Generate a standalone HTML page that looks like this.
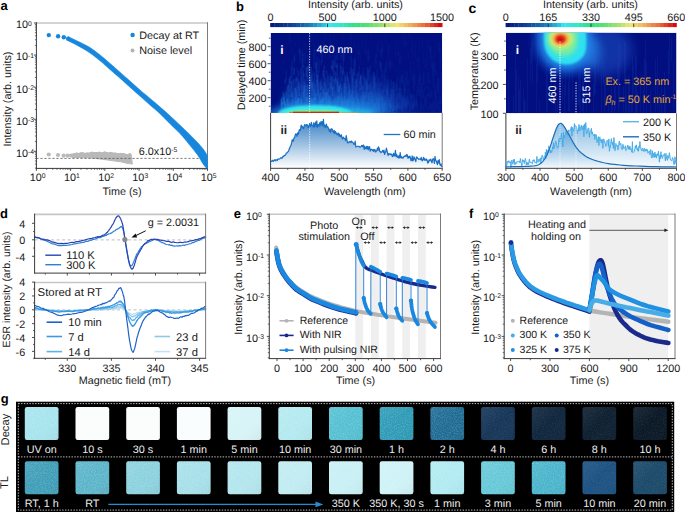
<!DOCTYPE html><html><head><meta charset="utf-8"><style>html,body{margin:0;padding:0;background:#fff;}svg{display:block;}</style></head><body><svg width="685" height="512" viewBox="0 0 685 512" text-rendering="geometricPrecision" font-family='"Liberation Sans", sans-serif'>
<rect width="685" height="512" fill="#fff"/>
<defs>
<linearGradient id="fb" gradientUnits="userSpaceOnUse" x1="0" y1="124" x2="0" y2="168"><stop offset="0" stop-color="#2a78c0" stop-opacity="0.85"/><stop offset="1" stop-color="#2a78c0" stop-opacity="0.0"/></linearGradient>
<linearGradient id="fc" x1="0" y1="0" x2="0" y2="1"><stop offset="0" stop-color="#3a90d0" stop-opacity="0.6"/><stop offset="1" stop-color="#3a90d0" stop-opacity="0.03"/></linearGradient>
<linearGradient id="jet" x1="0" y1="0" x2="1" y2="0">
<stop offset="0" stop-color="#00008f"/><stop offset="0.125" stop-color="#0020ff"/><stop offset="0.25" stop-color="#0080ff"/><stop offset="0.375" stop-color="#00e0ff"/><stop offset="0.5" stop-color="#40ffbf"/><stop offset="0.625" stop-color="#bfff40"/><stop offset="0.75" stop-color="#ffe000"/><stop offset="0.875" stop-color="#ff6000"/><stop offset="1" stop-color="#d00000"/></linearGradient>
<linearGradient id="strk" x1="0" y1="0" x2="0" y2="1"><stop offset="0" stop-color="#2a70e0" stop-opacity="0"/><stop offset="0.5" stop-color="#2a78e8" stop-opacity="0.6"/><stop offset="1" stop-color="#40b0f0" stop-opacity="1"/></linearGradient>
<radialGradient id="gb1" cx="0.5" cy="1" r="0.5" fx="0.5" fy="1"><stop offset="0" stop-color="#20d8f0" stop-opacity="0.95"/><stop offset="0.5" stop-color="#1890e8" stop-opacity="0.6"/><stop offset="1" stop-color="#1040c0" stop-opacity="0"/></radialGradient>
<radialGradient id="gb2" cx="0.5" cy="1" r="0.5" fx="0.5" fy="1"><stop offset="0" stop-color="#40ffd0" stop-opacity="1"/><stop offset="0.6" stop-color="#20f0f0" stop-opacity="0.8"/><stop offset="1" stop-color="#20e0f0" stop-opacity="0"/></radialGradient>
<linearGradient id="gbr" x1="0" y1="0" x2="1" y2="0"><stop offset="0" stop-color="#c00000" stop-opacity="0"/><stop offset="0.1" stop-color="#d00000"/><stop offset="0.6" stop-color="#d83000"/><stop offset="0.85" stop-color="#80d040" stop-opacity="0.8"/><stop offset="1" stop-color="#40e0c0" stop-opacity="0"/></linearGradient>
<radialGradient id="cw"><stop offset="0" stop-color="#2080e0" stop-opacity="0.5"/><stop offset="1" stop-color="#1040c0" stop-opacity="0"/></radialGradient>
<radialGradient id="c1"><stop offset="0" stop-color="#30f0f0" stop-opacity="1"/><stop offset="0.6" stop-color="#20d0f0" stop-opacity="0.85"/><stop offset="0.85" stop-color="#1080e0" stop-opacity="0.4"/><stop offset="1" stop-color="#1040c0" stop-opacity="0"/></radialGradient>
<radialGradient id="c2"><stop offset="0" stop-color="#f0f020" stop-opacity="1"/><stop offset="0.5" stop-color="#80ff80" stop-opacity="0.9"/><stop offset="1" stop-color="#40f0d0" stop-opacity="0"/></radialGradient>
<radialGradient id="c3"><stop offset="0" stop-color="#d00000" stop-opacity="1"/><stop offset="0.5" stop-color="#ff3000" stop-opacity="0.9"/><stop offset="1" stop-color="#ffa000" stop-opacity="0"/></radialGradient>
<filter id="bl1" x="-50%" y="-50%" width="200%" height="200%"><feGaussianBlur stdDeviation="1.2"/></filter>
<filter id="bl2" x="-50%" y="-50%" width="200%" height="200%"><feGaussianBlur stdDeviation="2"/></filter>
<filter id="bl3" x="-50%" y="-50%" width="200%" height="200%"><feGaussianBlur stdDeviation="3"/></filter>
<filter id="bl4" x="-50%" y="-50%" width="200%" height="200%"><feGaussianBlur stdDeviation="4"/></filter>
<filter id="bl6" x="-50%" y="-50%" width="200%" height="200%"><feGaussianBlur stdDeviation="6"/></filter>
<filter id="bl8" x="-50%" y="-50%" width="200%" height="200%"><feGaussianBlur stdDeviation="8"/></filter>
<linearGradient id="sqg" x1="0" y1="0" x2="1" y2="1"><stop offset="0" stop-color="#fff" stop-opacity="0.07"/><stop offset="0.5" stop-color="#fff" stop-opacity="0"/><stop offset="1" stop-color="#000" stop-opacity="0.05"/></linearGradient>
<filter id="speck" x="0" y="0" width="100%" height="100%"><feTurbulence type="fractalNoise" baseFrequency="0.9" numOctaves="2" seed="3"/><feColorMatrix type="matrix" values="0 0 0 0 1  0 0 0 0 1  0 0 0 0 1  0 0 0 -2.2 1.35"/><feComposite in2="SourceGraphic" operator="in"/></filter>
</defs>
<text x="0.50" y="10.30" font-size="13" text-anchor="start" fill="#000" font-weight="bold">a</text>
<text x="236.00" y="10.60" font-size="13" text-anchor="start" fill="#000" font-weight="bold">b</text>
<text x="468.40" y="12.80" font-size="14" text-anchor="start" fill="#000" font-weight="bold">c</text>
<text x="0.00" y="217.60" font-size="13" text-anchor="start" fill="#000" font-weight="bold">d</text>
<text x="233.80" y="217.60" font-size="13" text-anchor="start" fill="#000" font-weight="bold">e</text>
<text x="469.00" y="217.60" font-size="13" text-anchor="start" fill="#000" font-weight="bold">f</text>
<text x="0.80" y="402.50" font-size="13" text-anchor="start" fill="#000" font-weight="bold">g</text>
<line x1="36.40" y1="23.00" x2="207.50" y2="23.00" stroke="#c6c6c6" stroke-width="1.6"/>
<line x1="207.50" y1="22.20" x2="207.50" y2="168.40" stroke="#7a7a7a" stroke-width="1"/>
<line x1="36.40" y1="22.20" x2="36.40" y2="168.90" stroke="#3a3a3a" stroke-width="1"/>
<line x1="35.90" y1="168.40" x2="208.00" y2="168.40" stroke="#3a3a3a" stroke-width="1"/>
<line x1="33.90" y1="23.00" x2="36.40" y2="23.00" stroke="#3a3a3a" stroke-width="0.9"/>
<line x1="33.90" y1="55.08" x2="36.40" y2="55.08" stroke="#3a3a3a" stroke-width="0.9"/>
<line x1="33.90" y1="87.16" x2="36.40" y2="87.16" stroke="#3a3a3a" stroke-width="0.9"/>
<line x1="33.90" y1="119.24" x2="36.40" y2="119.24" stroke="#3a3a3a" stroke-width="0.9"/>
<line x1="33.90" y1="151.32" x2="36.40" y2="151.32" stroke="#3a3a3a" stroke-width="0.9"/>
<line x1="34.90" y1="45.42" x2="36.40" y2="45.42" stroke="#3a3a3a" stroke-width="0.7"/>
<line x1="34.90" y1="39.77" x2="36.40" y2="39.77" stroke="#3a3a3a" stroke-width="0.7"/>
<line x1="34.90" y1="35.77" x2="36.40" y2="35.77" stroke="#3a3a3a" stroke-width="0.7"/>
<line x1="34.90" y1="32.66" x2="36.40" y2="32.66" stroke="#3a3a3a" stroke-width="0.7"/>
<line x1="34.90" y1="30.12" x2="36.40" y2="30.12" stroke="#3a3a3a" stroke-width="0.7"/>
<line x1="34.90" y1="27.97" x2="36.40" y2="27.97" stroke="#3a3a3a" stroke-width="0.7"/>
<line x1="34.90" y1="26.11" x2="36.40" y2="26.11" stroke="#3a3a3a" stroke-width="0.7"/>
<line x1="34.90" y1="24.47" x2="36.40" y2="24.47" stroke="#3a3a3a" stroke-width="0.7"/>
<line x1="34.90" y1="77.50" x2="36.40" y2="77.50" stroke="#3a3a3a" stroke-width="0.7"/>
<line x1="34.90" y1="71.85" x2="36.40" y2="71.85" stroke="#3a3a3a" stroke-width="0.7"/>
<line x1="34.90" y1="67.85" x2="36.40" y2="67.85" stroke="#3a3a3a" stroke-width="0.7"/>
<line x1="34.90" y1="64.74" x2="36.40" y2="64.74" stroke="#3a3a3a" stroke-width="0.7"/>
<line x1="34.90" y1="62.20" x2="36.40" y2="62.20" stroke="#3a3a3a" stroke-width="0.7"/>
<line x1="34.90" y1="60.05" x2="36.40" y2="60.05" stroke="#3a3a3a" stroke-width="0.7"/>
<line x1="34.90" y1="58.19" x2="36.40" y2="58.19" stroke="#3a3a3a" stroke-width="0.7"/>
<line x1="34.90" y1="56.55" x2="36.40" y2="56.55" stroke="#3a3a3a" stroke-width="0.7"/>
<line x1="34.90" y1="109.58" x2="36.40" y2="109.58" stroke="#3a3a3a" stroke-width="0.7"/>
<line x1="34.90" y1="103.93" x2="36.40" y2="103.93" stroke="#3a3a3a" stroke-width="0.7"/>
<line x1="34.90" y1="99.93" x2="36.40" y2="99.93" stroke="#3a3a3a" stroke-width="0.7"/>
<line x1="34.90" y1="96.82" x2="36.40" y2="96.82" stroke="#3a3a3a" stroke-width="0.7"/>
<line x1="34.90" y1="94.28" x2="36.40" y2="94.28" stroke="#3a3a3a" stroke-width="0.7"/>
<line x1="34.90" y1="92.13" x2="36.40" y2="92.13" stroke="#3a3a3a" stroke-width="0.7"/>
<line x1="34.90" y1="90.27" x2="36.40" y2="90.27" stroke="#3a3a3a" stroke-width="0.7"/>
<line x1="34.90" y1="88.63" x2="36.40" y2="88.63" stroke="#3a3a3a" stroke-width="0.7"/>
<line x1="34.90" y1="141.66" x2="36.40" y2="141.66" stroke="#3a3a3a" stroke-width="0.7"/>
<line x1="34.90" y1="136.01" x2="36.40" y2="136.01" stroke="#3a3a3a" stroke-width="0.7"/>
<line x1="34.90" y1="132.01" x2="36.40" y2="132.01" stroke="#3a3a3a" stroke-width="0.7"/>
<line x1="34.90" y1="128.90" x2="36.40" y2="128.90" stroke="#3a3a3a" stroke-width="0.7"/>
<line x1="34.90" y1="126.36" x2="36.40" y2="126.36" stroke="#3a3a3a" stroke-width="0.7"/>
<line x1="34.90" y1="124.21" x2="36.40" y2="124.21" stroke="#3a3a3a" stroke-width="0.7"/>
<line x1="34.90" y1="122.35" x2="36.40" y2="122.35" stroke="#3a3a3a" stroke-width="0.7"/>
<line x1="34.90" y1="120.71" x2="36.40" y2="120.71" stroke="#3a3a3a" stroke-width="0.7"/>
<line x1="34.90" y1="168.09" x2="36.40" y2="168.09" stroke="#3a3a3a" stroke-width="0.7"/>
<line x1="34.90" y1="164.09" x2="36.40" y2="164.09" stroke="#3a3a3a" stroke-width="0.7"/>
<line x1="34.90" y1="160.98" x2="36.40" y2="160.98" stroke="#3a3a3a" stroke-width="0.7"/>
<line x1="34.90" y1="158.44" x2="36.40" y2="158.44" stroke="#3a3a3a" stroke-width="0.7"/>
<line x1="34.90" y1="156.29" x2="36.40" y2="156.29" stroke="#3a3a3a" stroke-width="0.7"/>
<line x1="34.90" y1="154.43" x2="36.40" y2="154.43" stroke="#3a3a3a" stroke-width="0.7"/>
<line x1="34.90" y1="152.79" x2="36.40" y2="152.79" stroke="#3a3a3a" stroke-width="0.7"/>
<line x1="36.40" y1="168.40" x2="36.40" y2="170.90" stroke="#3a3a3a" stroke-width="0.9"/>
<line x1="46.70" y1="168.40" x2="46.70" y2="169.90" stroke="#3a3a3a" stroke-width="0.7"/>
<line x1="52.73" y1="168.40" x2="52.73" y2="169.90" stroke="#3a3a3a" stroke-width="0.7"/>
<line x1="57.00" y1="168.40" x2="57.00" y2="169.90" stroke="#3a3a3a" stroke-width="0.7"/>
<line x1="60.32" y1="168.40" x2="60.32" y2="169.90" stroke="#3a3a3a" stroke-width="0.7"/>
<line x1="63.03" y1="168.40" x2="63.03" y2="169.90" stroke="#3a3a3a" stroke-width="0.7"/>
<line x1="65.32" y1="168.40" x2="65.32" y2="169.90" stroke="#3a3a3a" stroke-width="0.7"/>
<line x1="67.30" y1="168.40" x2="67.30" y2="169.90" stroke="#3a3a3a" stroke-width="0.7"/>
<line x1="69.05" y1="168.40" x2="69.05" y2="169.90" stroke="#3a3a3a" stroke-width="0.7"/>
<line x1="70.62" y1="168.40" x2="70.62" y2="170.90" stroke="#3a3a3a" stroke-width="0.9"/>
<line x1="80.92" y1="168.40" x2="80.92" y2="169.90" stroke="#3a3a3a" stroke-width="0.7"/>
<line x1="86.95" y1="168.40" x2="86.95" y2="169.90" stroke="#3a3a3a" stroke-width="0.7"/>
<line x1="91.22" y1="168.40" x2="91.22" y2="169.90" stroke="#3a3a3a" stroke-width="0.7"/>
<line x1="94.54" y1="168.40" x2="94.54" y2="169.90" stroke="#3a3a3a" stroke-width="0.7"/>
<line x1="97.25" y1="168.40" x2="97.25" y2="169.90" stroke="#3a3a3a" stroke-width="0.7"/>
<line x1="99.54" y1="168.40" x2="99.54" y2="169.90" stroke="#3a3a3a" stroke-width="0.7"/>
<line x1="101.52" y1="168.40" x2="101.52" y2="169.90" stroke="#3a3a3a" stroke-width="0.7"/>
<line x1="103.27" y1="168.40" x2="103.27" y2="169.90" stroke="#3a3a3a" stroke-width="0.7"/>
<line x1="104.84" y1="168.40" x2="104.84" y2="170.90" stroke="#3a3a3a" stroke-width="0.9"/>
<line x1="115.14" y1="168.40" x2="115.14" y2="169.90" stroke="#3a3a3a" stroke-width="0.7"/>
<line x1="121.17" y1="168.40" x2="121.17" y2="169.90" stroke="#3a3a3a" stroke-width="0.7"/>
<line x1="125.44" y1="168.40" x2="125.44" y2="169.90" stroke="#3a3a3a" stroke-width="0.7"/>
<line x1="128.76" y1="168.40" x2="128.76" y2="169.90" stroke="#3a3a3a" stroke-width="0.7"/>
<line x1="131.47" y1="168.40" x2="131.47" y2="169.90" stroke="#3a3a3a" stroke-width="0.7"/>
<line x1="133.76" y1="168.40" x2="133.76" y2="169.90" stroke="#3a3a3a" stroke-width="0.7"/>
<line x1="135.74" y1="168.40" x2="135.74" y2="169.90" stroke="#3a3a3a" stroke-width="0.7"/>
<line x1="137.49" y1="168.40" x2="137.49" y2="169.90" stroke="#3a3a3a" stroke-width="0.7"/>
<line x1="139.06" y1="168.40" x2="139.06" y2="170.90" stroke="#3a3a3a" stroke-width="0.9"/>
<line x1="149.36" y1="168.40" x2="149.36" y2="169.90" stroke="#3a3a3a" stroke-width="0.7"/>
<line x1="155.39" y1="168.40" x2="155.39" y2="169.90" stroke="#3a3a3a" stroke-width="0.7"/>
<line x1="159.66" y1="168.40" x2="159.66" y2="169.90" stroke="#3a3a3a" stroke-width="0.7"/>
<line x1="162.98" y1="168.40" x2="162.98" y2="169.90" stroke="#3a3a3a" stroke-width="0.7"/>
<line x1="165.69" y1="168.40" x2="165.69" y2="169.90" stroke="#3a3a3a" stroke-width="0.7"/>
<line x1="167.98" y1="168.40" x2="167.98" y2="169.90" stroke="#3a3a3a" stroke-width="0.7"/>
<line x1="169.96" y1="168.40" x2="169.96" y2="169.90" stroke="#3a3a3a" stroke-width="0.7"/>
<line x1="171.71" y1="168.40" x2="171.71" y2="169.90" stroke="#3a3a3a" stroke-width="0.7"/>
<line x1="173.28" y1="168.40" x2="173.28" y2="170.90" stroke="#3a3a3a" stroke-width="0.9"/>
<line x1="183.58" y1="168.40" x2="183.58" y2="169.90" stroke="#3a3a3a" stroke-width="0.7"/>
<line x1="189.61" y1="168.40" x2="189.61" y2="169.90" stroke="#3a3a3a" stroke-width="0.7"/>
<line x1="193.88" y1="168.40" x2="193.88" y2="169.90" stroke="#3a3a3a" stroke-width="0.7"/>
<line x1="197.20" y1="168.40" x2="197.20" y2="169.90" stroke="#3a3a3a" stroke-width="0.7"/>
<line x1="199.91" y1="168.40" x2="199.91" y2="169.90" stroke="#3a3a3a" stroke-width="0.7"/>
<line x1="202.20" y1="168.40" x2="202.20" y2="169.90" stroke="#3a3a3a" stroke-width="0.7"/>
<line x1="204.18" y1="168.40" x2="204.18" y2="169.90" stroke="#3a3a3a" stroke-width="0.7"/>
<line x1="205.93" y1="168.40" x2="205.93" y2="169.90" stroke="#3a3a3a" stroke-width="0.7"/>
<line x1="207.50" y1="168.40" x2="207.50" y2="170.90" stroke="#3a3a3a" stroke-width="0.9"/>
<text x="15.90" y="28.40" font-size="10.8" text-anchor="start" fill="#1a1a1a" font-weight="normal">10<tspan dy="-2.9" font-size="6.8">0</tspan></text>
<text x="15.90" y="60.48" font-size="10.8" text-anchor="start" fill="#1a1a1a" font-weight="normal">10<tspan dy="-2.9" font-size="6.8">-1</tspan></text>
<text x="15.90" y="92.56" font-size="10.8" text-anchor="start" fill="#1a1a1a" font-weight="normal">10<tspan dy="-2.9" font-size="6.8">-2</tspan></text>
<text x="15.90" y="124.64" font-size="10.8" text-anchor="start" fill="#1a1a1a" font-weight="normal">10<tspan dy="-2.9" font-size="6.8">-3</tspan></text>
<text x="15.90" y="156.72" font-size="10.8" text-anchor="start" fill="#1a1a1a" font-weight="normal">10<tspan dy="-2.9" font-size="6.8">-4</tspan></text>
<text x="37.60" y="181.00" font-size="10.8" text-anchor="middle" fill="#1a1a1a" font-weight="normal">10<tspan dy="-2.9" font-size="6.8">0</tspan></text>
<text x="71.82" y="181.00" font-size="10.8" text-anchor="middle" fill="#1a1a1a" font-weight="normal">10<tspan dy="-2.9" font-size="6.8">1</tspan></text>
<text x="106.04" y="181.00" font-size="10.8" text-anchor="middle" fill="#1a1a1a" font-weight="normal">10<tspan dy="-2.9" font-size="6.8">2</tspan></text>
<text x="140.26" y="181.00" font-size="10.8" text-anchor="middle" fill="#1a1a1a" font-weight="normal">10<tspan dy="-2.9" font-size="6.8">3</tspan></text>
<text x="174.48" y="181.00" font-size="10.8" text-anchor="middle" fill="#1a1a1a" font-weight="normal">10<tspan dy="-2.9" font-size="6.8">4</tspan></text>
<text x="208.70" y="181.00" font-size="10.8" text-anchor="middle" fill="#1a1a1a" font-weight="normal">10<tspan dy="-2.9" font-size="6.8">5</tspan></text>
<text x="122.00" y="194.50" font-size="10.8" text-anchor="middle" fill="#1a1a1a" font-weight="normal">Time (s)</text>
<text x="10.50" y="99.00" font-size="10.8" text-anchor="middle" fill="#1a1a1a" font-weight="normal" transform="rotate(-90 10.5 99)">Intensity (arb. units)</text>
<circle cx="48.75" cy="154.50" r="2.1" fill="#b9b9b9"/>
<circle cx="58.00" cy="155.00" r="2.1" fill="#b9b9b9"/>
<circle cx="63.60" cy="155.60" r="2.1" fill="#b9b9b9"/>
<circle cx="67.60" cy="155.60" r="2.1" fill="#b9b9b9"/>
<circle cx="71.00" cy="155.50" r="2.1" fill="#b9b9b9"/>
<path d="M72.0,154.2 L80.0,153.8 L88.0,153.2 L95.0,152.6 L102.0,152.8 L110.0,153.2 L118.0,153.8 L125.0,154.3 L131.0,155.0 L132.3,163.8 L128.0,163.5 L122.0,162.0 L115.0,161.0 L108.0,160.0 L100.0,158.8 L92.0,158.0 L85.0,157.6 L78.0,157.4 L72.0,157.3 Z" fill="#b9b9b9" stroke="#b9b9b9" stroke-width="1.2" stroke-linejoin="round"/>
<circle cx="91.78" cy="153.20" r="1.8" fill="#b9b9b9"/>
<circle cx="110.75" cy="153.47" r="1.8" fill="#b9b9b9"/>
<circle cx="104.08" cy="153.55" r="1.8" fill="#b9b9b9"/>
<circle cx="76.36" cy="154.84" r="1.8" fill="#b9b9b9"/>
<circle cx="75.17" cy="154.79" r="1.8" fill="#b9b9b9"/>
<circle cx="77.05" cy="154.18" r="1.8" fill="#b9b9b9"/>
<circle cx="97.62" cy="154.02" r="1.8" fill="#b9b9b9"/>
<circle cx="80.18" cy="154.22" r="1.8" fill="#b9b9b9"/>
<circle cx="109.39" cy="154.69" r="1.8" fill="#b9b9b9"/>
<circle cx="106.47" cy="153.72" r="1.8" fill="#b9b9b9"/>
<circle cx="129.62" cy="155.01" r="1.8" fill="#b9b9b9"/>
<circle cx="122.79" cy="154.68" r="1.8" fill="#b9b9b9"/>
<circle cx="81.37" cy="153.97" r="1.8" fill="#b9b9b9"/>
<circle cx="90.89" cy="154.28" r="1.8" fill="#b9b9b9"/>
<circle cx="83.48" cy="154.51" r="1.8" fill="#b9b9b9"/>
<circle cx="110.06" cy="153.86" r="1.8" fill="#b9b9b9"/>
<circle cx="104.77" cy="153.13" r="1.8" fill="#b9b9b9"/>
<circle cx="76.46" cy="154.39" r="1.8" fill="#b9b9b9"/>
<circle cx="112.46" cy="154.13" r="1.8" fill="#b9b9b9"/>
<circle cx="91.22" cy="153.90" r="1.8" fill="#b9b9b9"/>
<circle cx="99.28" cy="153.27" r="1.8" fill="#b9b9b9"/>
<circle cx="119.07" cy="155.03" r="1.8" fill="#b9b9b9"/>
<circle cx="87.16" cy="154.22" r="1.8" fill="#b9b9b9"/>
<circle cx="103.46" cy="154.29" r="1.8" fill="#b9b9b9"/>
<circle cx="115.31" cy="154.13" r="1.8" fill="#b9b9b9"/>
<circle cx="129.85" cy="155.14" r="1.8" fill="#b9b9b9"/>
<circle cx="97.25" cy="153.90" r="1.8" fill="#b9b9b9"/>
<circle cx="81.82" cy="154.50" r="1.8" fill="#b9b9b9"/>
<circle cx="75.27" cy="155.14" r="1.8" fill="#b9b9b9"/>
<circle cx="117.35" cy="154.71" r="1.8" fill="#b9b9b9"/>
<circle cx="123.78" cy="154.78" r="1.8" fill="#b9b9b9"/>
<circle cx="113.33" cy="154.44" r="1.8" fill="#b9b9b9"/>
<circle cx="106.63" cy="153.82" r="1.8" fill="#b9b9b9"/>
<circle cx="121.72" cy="155.58" r="1.8" fill="#b9b9b9"/>
<circle cx="100.50" cy="153.85" r="1.8" fill="#b9b9b9"/>
<circle cx="76.52" cy="155.13" r="1.8" fill="#b9b9b9"/>
<circle cx="110.53" cy="154.83" r="1.8" fill="#b9b9b9"/>
<circle cx="120.67" cy="154.52" r="1.8" fill="#b9b9b9"/>
<circle cx="95.38" cy="153.71" r="1.8" fill="#b9b9b9"/>
<circle cx="74.31" cy="154.88" r="1.8" fill="#b9b9b9"/>
<circle cx="82.75" cy="153.87" r="1.8" fill="#b9b9b9"/>
<circle cx="76.42" cy="155.23" r="1.8" fill="#b9b9b9"/>
<circle cx="80.50" cy="154.23" r="1.8" fill="#b9b9b9"/>
<circle cx="95.68" cy="154.03" r="1.8" fill="#b9b9b9"/>
<circle cx="77.67" cy="154.69" r="1.8" fill="#b9b9b9"/>
<line x1="36.40" y1="158.40" x2="207.50" y2="158.40" stroke="#555" stroke-width="0.8" stroke-dasharray="2.2,1.8"/>
<circle cx="48.80" cy="35.10" r="2.2" fill="#1787dd"/>
<circle cx="58.10" cy="36.30" r="2.2" fill="#1787dd"/>
<circle cx="63.80" cy="37.30" r="2.2" fill="#1787dd"/>
<circle cx="68.10" cy="38.70" r="2.2" fill="#1787dd"/>
<path d="M68.00,36.70 L68.62,36.98 L69.50,37.36 L70.62,37.87 L72.00,38.50 L73.67,39.27 L75.62,40.18 L77.77,41.20 L80.00,42.30 L82.36,43.47 L84.88,44.73 L87.45,46.10 L90.00,47.60 L92.50,49.26 L95.00,51.05 L97.50,52.94 L100.00,54.90 L102.50,56.93 L105.00,59.06 L107.50,61.23 L110.00,63.40 L112.50,65.58 L115.00,67.77 L117.50,69.99 L120.00,72.20 L122.50,74.42 L125.00,76.64 L127.50,78.87 L130.00,81.10 L132.50,83.34 L135.00,85.58 L137.50,87.81 L140.00,90.00 L142.50,92.13 L145.00,94.22 L147.50,96.30 L150.00,98.40 L152.50,100.51 L155.00,102.62 L157.50,104.74 L160.00,106.90 L162.50,109.09 L165.00,111.29 L167.50,113.53 L170.00,115.80 L172.53,118.14 L175.08,120.53 L177.58,122.91 L180.00,125.20 L182.28,127.36 L184.47,129.43 L186.63,131.48 L188.80,133.60 L191.08,135.88 L193.42,138.24 L195.65,140.54 L197.60,142.60 L199.21,144.35 L200.58,145.88 L201.78,147.30 L202.90,148.70 L203.96,150.12 L204.91,151.51 L205.74,152.82 L206.40,154.00 L206.87,155.08 L207.17,156.08 L207.36,156.91 L207.50,157.50 L207.50,168.30 L207.36,168.34 L207.17,168.42 L206.87,168.36 L206.40,168.00 L205.74,167.31 L204.91,166.38 L203.96,165.18 L202.90,163.70 L201.78,161.89 L200.58,159.77 L199.21,157.45 L197.60,155.00 L195.65,152.38 L193.42,149.55 L191.08,146.68 L188.80,143.90 L186.63,141.26 L184.47,138.67 L182.28,136.12 L180.00,133.60 L177.58,131.12 L175.08,128.69 L172.53,126.26 L170.00,123.80 L167.50,121.26 L165.00,118.68 L162.50,116.13 L160.00,113.70 L157.50,111.43 L155.00,109.28 L152.50,107.16 L150.00,105.00 L147.50,102.79 L145.00,100.56 L142.50,98.33 L140.00,96.10 L137.50,93.88 L135.00,91.66 L132.50,89.43 L130.00,87.20 L127.50,84.95 L125.00,82.68 L122.50,80.42 L120.00,78.20 L117.50,76.03 L115.00,73.89 L112.50,71.76 L110.00,69.60 L107.50,67.37 L105.00,65.09 L102.50,62.85 L100.00,60.70 L97.50,58.65 L95.00,56.67 L92.50,54.78 L90.00,53.00 L87.45,51.32 L84.88,49.73 L82.36,48.25 L80.00,46.90 L77.77,45.66 L75.62,44.54 L73.67,43.55 L72.00,42.70 L70.62,42.00 L69.50,41.44 L68.62,41.01 L68.00,40.70 Z" fill="#1787dd" stroke="#1787dd" stroke-width="0.6" stroke-linejoin="round"/>
<text x="158.00" y="155.30" font-size="10.8" text-anchor="middle" fill="#1a1a1a" font-weight="normal">6.0x10<tspan dy="-2.9" font-size="6.8">-5</tspan></text>
<circle cx="132.60" cy="35.00" r="2.2" fill="#1787dd"/>
<text x="139.30" y="38.80" font-size="10.8" text-anchor="start" fill="#1a1a1a" font-weight="normal">Decay at RT</text>
<circle cx="132.50" cy="50.50" r="2.0" fill="#b4b4b4"/>
<text x="139.30" y="54.00" font-size="10.8" text-anchor="start" fill="#1a1a1a" font-weight="normal">Noise level</text>
<text x="355.50" y="7.80" font-size="10.8" text-anchor="middle" fill="#1a1a1a" font-weight="normal">Intensity (arb. units)</text>
<rect x="270.20" y="23" width="4.60" height="4.100000000000001" fill="#0a1a7b"/>
<rect x="274.50" y="23" width="4.60" height="4.100000000000001" fill="#0b2382"/>
<rect x="278.80" y="23" width="4.60" height="4.100000000000001" fill="#0d2b89"/>
<rect x="283.10" y="23" width="4.60" height="4.100000000000001" fill="#0e3490"/>
<rect x="287.40" y="23" width="4.60" height="4.100000000000001" fill="#0f3d97"/>
<rect x="291.70" y="23" width="4.60" height="4.100000000000001" fill="#11489e"/>
<rect x="296.00" y="23" width="4.60" height="4.100000000000001" fill="#1455a5"/>
<rect x="300.30" y="23" width="4.60" height="4.100000000000001" fill="#1661ac"/>
<rect x="304.60" y="23" width="4.60" height="4.100000000000001" fill="#1970b5"/>
<rect x="308.90" y="23" width="4.60" height="4.100000000000001" fill="#1c81bf"/>
<rect x="313.20" y="23" width="4.60" height="4.100000000000001" fill="#2092c9"/>
<rect x="317.50" y="23" width="4.60" height="4.100000000000001" fill="#24aad5"/>
<rect x="321.80" y="23" width="4.60" height="4.100000000000001" fill="#28c3e1"/>
<rect x="326.10" y="23" width="4.60" height="4.100000000000001" fill="#2fe4ee"/>
<rect x="330.40" y="23" width="4.60" height="4.100000000000001" fill="#30e8e3"/>
<rect x="334.70" y="23" width="4.60" height="4.100000000000001" fill="#30e8d4"/>
<rect x="339.00" y="23" width="4.60" height="4.100000000000001" fill="#30e7c6"/>
<rect x="343.30" y="23" width="4.60" height="4.100000000000001" fill="#30e5b2"/>
<rect x="347.60" y="23" width="4.60" height="4.100000000000001" fill="#30e39d"/>
<rect x="351.90" y="23" width="4.60" height="4.100000000000001" fill="#30e18a"/>
<rect x="356.20" y="23" width="4.60" height="4.100000000000001" fill="#37e07d"/>
<rect x="360.50" y="23" width="4.60" height="4.100000000000001" fill="#46e078"/>
<rect x="364.80" y="23" width="4.60" height="4.100000000000001" fill="#55e073"/>
<rect x="369.10" y="23" width="4.60" height="4.100000000000001" fill="#66e070"/>
<rect x="373.40" y="23" width="4.60" height="4.100000000000001" fill="#7ce070"/>
<rect x="377.70" y="23" width="4.60" height="4.100000000000001" fill="#93e070"/>
<rect x="382.00" y="23" width="4.60" height="4.100000000000001" fill="#a9e070"/>
<rect x="386.30" y="23" width="4.60" height="4.100000000000001" fill="#c2e272"/>
<rect x="390.60" y="23" width="4.60" height="4.100000000000001" fill="#dde575"/>
<rect x="394.90" y="23" width="4.60" height="4.100000000000001" fill="#f0e275"/>
<rect x="399.20" y="23" width="4.60" height="4.100000000000001" fill="#f0d16e"/>
<rect x="403.50" y="23" width="4.60" height="4.100000000000001" fill="#f0bf66"/>
<rect x="407.80" y="23" width="4.60" height="4.100000000000001" fill="#efae5e"/>
<rect x="412.10" y="23" width="4.60" height="4.100000000000001" fill="#ed9a53"/>
<rect x="416.40" y="23" width="4.60" height="4.100000000000001" fill="#eb8648"/>
<rect x="420.70" y="23" width="4.60" height="4.100000000000001" fill="#e9723d"/>
<rect x="425.00" y="23" width="4.60" height="4.100000000000001" fill="#e55b33"/>
<rect x="429.30" y="23" width="4.60" height="4.100000000000001" fill="#df4129"/>
<rect x="433.60" y="23" width="4.60" height="4.100000000000001" fill="#d9261e"/>
<rect x="437.90" y="23" width="4.60" height="4.100000000000001" fill="#d30c14"/>
<text x="270.40" y="20.60" font-size="10.8" text-anchor="middle" fill="#1a1a1a" font-weight="normal">0</text>
<text x="327.50" y="20.60" font-size="10.8" text-anchor="middle" fill="#1a1a1a" font-weight="normal">500</text>
<text x="384.80" y="20.60" font-size="10.8" text-anchor="middle" fill="#1a1a1a" font-weight="normal">1000</text>
<text x="442.00" y="20.60" font-size="10.8" text-anchor="middle" fill="#1a1a1a" font-weight="normal">1500</text>
<line x1="327.50" y1="23.50" x2="327.50" y2="27.10" stroke="#222" stroke-width="0.8"/>
<line x1="384.80" y1="23.50" x2="384.80" y2="27.10" stroke="#222" stroke-width="0.8"/>
<clipPath id="cpb"><rect x="270.6" y="32.9" width="171.59999999999997" height="80.0"/></clipPath>
<g clip-path="url(#cpb)">
<rect x="270.6" y="32.9" width="171.59999999999997" height="80.0" fill="#020f80"/>
<path d="M288.6 31.9h1v11.6h-1zM289.6 28.2h1v11.7h-1zM290.6 39.6h1v3.7h-1zM291.6 50.8h1v5.6h-1zM291.6 47.2h1v3.6h-1zM293.6 33.8h1v5.8h-1zM293.6 54.0h1v12.3h-1zM294.6 41.7h1v3.5h-1zM294.6 52.5h1v9.4h-1zM297.6 36.4h1v5.8h-1zM297.6 32.6h1v10.4h-1zM299.6 52.8h1v6.5h-1zM303.6 40.9h1v5.8h-1zM305.6 45.2h1v8.8h-1zM308.6 31.3h1v12.9h-1zM310.6 29.1h1v13.1h-1zM312.6 34.2h1v11.3h-1zM312.6 37.3h1v8.5h-1zM314.6 44.5h1v13.7h-1zM315.6 29.9h1v7.3h-1zM317.6 39.6h1v7.1h-1zM322.6 40.8h1v13.3h-1zM324.6 30.7h1v9.8h-1zM324.6 49.1h1v10.2h-1zM324.6 31.0h1v4.2h-1zM327.6 46.2h1v3.4h-1zM328.6 48.1h1v11.2h-1zM329.6 37.1h1v4.6h-1zM329.6 38.0h1v6.8h-1zM329.6 54.5h1v3.5h-1zM330.6 40.7h1v11.3h-1zM331.6 48.0h1v10.9h-1zM333.6 35.2h1v10.7h-1zM333.6 40.6h1v3.3h-1zM335.6 55.8h1v5.7h-1zM335.6 40.0h1v13.8h-1zM342.6 28.7h1v10.2h-1zM347.6 45.1h1v3.4h-1zM349.6 31.1h1v4.3h-1zM349.6 48.1h1v10.9h-1zM350.6 28.1h1v12.0h-1zM350.6 34.6h1v11.0h-1zM353.6 36.0h1v11.8h-1zM353.6 37.0h1v11.5h-1zM354.6 50.6h1v14.0h-1zM355.6 47.0h1v3.9h-1zM357.6 46.9h1v12.9h-1zM357.6 45.0h1v5.8h-1zM358.6 50.1h1v4.9h-1zM359.6 52.7h1v12.2h-1zM361.6 35.1h1v9.7h-1zM364.6 41.2h1v12.0h-1zM364.6 38.0h1v5.1h-1zM365.6 49.8h1v4.5h-1zM368.6 55.3h1v4.4h-1zM368.6 66.8h1v9.0h-1zM370.6 31.2h1v7.8h-1zM370.6 29.1h1v7.8h-1zM372.6 61.2h1v4.6h-1zM374.6 54.5h1v13.8h-1zM375.6 54.6h1v8.6h-1zM376.6 60.8h1v9.1h-1zM376.6 46.2h1v11.4h-1zM376.6 45.8h1v4.9h-1zM377.6 41.6h1v9.4h-1zM379.6 67.9h1v6.9h-1zM379.6 48.9h1v6.9h-1zM379.6 68.5h1v6.1h-1zM379.6 65.5h1v10.3h-1zM380.6 75.4h1v10.8h-1zM380.6 38.2h1v12.2h-1zM380.6 47.2h1v12.2h-1zM380.6 67.2h1v4.4h-1zM381.6 47.7h1v9.0h-1zM381.6 82.1h1v4.9h-1zM382.6 45.3h1v7.0h-1zM382.6 76.0h1v4.4h-1zM383.6 33.5h1v5.2h-1zM383.6 75.8h1v3.4h-1zM384.6 67.3h1v10.5h-1zM384.6 75.3h1v12.2h-1zM384.6 65.6h1v11.7h-1zM385.6 38.6h1v7.3h-1zM385.6 39.6h1v7.7h-1zM386.6 72.8h1v10.8h-1zM387.6 75.3h1v12.7h-1zM387.6 52.9h1v6.7h-1zM387.6 56.4h1v9.6h-1zM387.6 46.7h1v7.0h-1zM388.6 63.7h1v6.1h-1zM388.6 61.5h1v7.9h-1zM388.6 45.8h1v8.2h-1zM388.6 80.6h1v3.8h-1zM388.6 44.9h1v7.8h-1zM389.6 62.8h1v3.1h-1zM389.6 70.0h1v3.3h-1zM389.6 57.6h1v12.3h-1zM390.6 60.3h1v6.5h-1zM391.6 75.2h1v3.9h-1zM391.6 82.4h1v11.0h-1zM391.6 81.8h1v10.3h-1zM392.6 61.9h1v6.6h-1zM394.6 82.5h1v5.0h-1zM394.6 89.0h1v8.4h-1zM394.6 89.7h1v9.3h-1zM394.6 45.1h1v9.5h-1zM394.6 38.4h1v3.8h-1zM395.6 53.4h1v3.6h-1zM395.6 69.0h1v3.2h-1zM396.6 93.2h1v6.3h-1zM397.6 97.0h1v9.6h-1zM397.6 40.4h1v11.8h-1zM397.6 44.6h1v10.4h-1zM397.6 68.6h1v7.9h-1zM397.6 39.2h1v5.0h-1zM397.6 89.1h1v10.6h-1zM398.6 77.6h1v12.6h-1zM398.6 106.0h1v6.8h-1zM398.6 51.7h1v12.6h-1zM398.6 102.2h1v5.0h-1zM398.6 84.0h1v12.3h-1zM399.6 36.0h1v5.4h-1zM399.6 57.2h1v8.1h-1zM399.6 77.6h1v3.2h-1zM400.6 54.0h1v6.0h-1zM400.6 71.6h1v5.9h-1zM400.6 106.1h1v9.2h-1zM400.6 69.1h1v12.6h-1zM401.6 93.7h1v9.1h-1zM401.6 82.3h1v6.7h-1zM401.6 80.1h1v5.6h-1zM401.6 79.9h1v3.1h-1zM402.6 92.7h1v4.9h-1zM402.6 31.7h1v6.4h-1zM402.6 76.0h1v9.4h-1zM402.6 35.5h1v9.4h-1zM403.6 70.5h1v4.8h-1zM403.6 71.3h1v5.4h-1zM403.6 80.4h1v9.6h-1zM404.6 33.6h1v12.6h-1zM404.6 78.3h1v5.1h-1zM404.6 105.4h1v6.6h-1zM404.6 98.2h1v3.6h-1zM404.6 81.3h1v9.9h-1zM405.6 75.5h1v9.6h-1zM405.6 71.3h1v3.1h-1zM405.6 78.7h1v6.6h-1zM405.6 42.2h1v4.6h-1zM405.6 97.5h1v12.0h-1zM405.6 82.1h1v9.5h-1zM406.6 89.6h1v9.6h-1zM406.6 77.0h1v5.8h-1zM406.6 71.2h1v13.8h-1zM406.6 84.4h1v8.8h-1zM406.6 107.6h1v3.1h-1zM406.6 84.3h1v11.5h-1zM407.6 79.7h1v5.5h-1zM407.6 101.4h1v3.3h-1zM407.6 50.4h1v8.5h-1zM407.6 87.8h1v13.3h-1zM407.6 80.3h1v5.0h-1zM407.6 88.2h1v13.8h-1zM408.6 88.0h1v6.8h-1zM408.6 101.4h1v6.6h-1zM408.6 102.5h1v11.1h-1zM408.6 30.8h1v7.4h-1zM408.6 102.2h1v9.2h-1zM408.6 79.2h1v13.4h-1zM408.6 94.9h1v5.8h-1zM409.6 70.7h1v5.5h-1zM409.6 61.2h1v10.1h-1zM409.6 74.4h1v5.4h-1zM409.6 88.9h1v12.5h-1zM409.6 101.3h1v11.3h-1zM409.6 102.1h1v6.6h-1zM409.6 88.3h1v4.8h-1zM410.6 96.2h1v8.0h-1zM410.6 101.6h1v11.6h-1zM410.6 100.5h1v12.5h-1zM410.6 109.1h1v3.3h-1zM410.6 47.9h1v3.1h-1zM410.6 102.8h1v11.1h-1zM411.6 40.5h1v10.5h-1zM411.6 37.0h1v13.1h-1zM411.6 46.4h1v10.6h-1zM411.6 69.4h1v7.7h-1zM411.6 40.8h1v13.9h-1zM411.6 76.5h1v4.3h-1zM412.6 86.9h1v7.7h-1zM412.6 60.4h1v4.6h-1zM412.6 100.3h1v4.2h-1zM412.6 75.2h1v13.1h-1zM412.6 74.6h1v13.6h-1zM412.6 60.6h1v3.8h-1zM413.6 69.0h1v9.1h-1zM413.6 77.2h1v10.6h-1zM413.6 94.5h1v9.0h-1zM413.6 98.4h1v6.5h-1zM413.6 82.9h1v7.3h-1zM413.6 81.9h1v4.6h-1zM414.6 106.0h1v9.7h-1zM414.6 103.9h1v9.7h-1zM414.6 81.0h1v5.2h-1zM414.6 44.8h1v11.6h-1zM414.6 102.9h1v10.6h-1zM414.6 74.9h1v9.0h-1zM414.6 77.1h1v3.0h-1zM415.6 93.4h1v5.6h-1zM415.6 94.4h1v7.2h-1zM415.6 97.0h1v8.8h-1zM415.6 93.9h1v6.5h-1zM415.6 95.2h1v5.5h-1zM415.6 90.7h1v13.0h-1zM416.6 85.6h1v8.7h-1zM416.6 87.9h1v4.6h-1zM416.6 104.4h1v8.8h-1zM416.6 90.2h1v5.6h-1zM416.6 57.6h1v8.1h-1zM416.6 92.0h1v12.8h-1zM416.6 103.3h1v7.2h-1zM417.6 103.6h1v4.4h-1zM417.6 56.4h1v4.1h-1zM417.6 77.7h1v8.7h-1zM417.6 85.0h1v7.4h-1zM417.6 106.8h1v7.9h-1zM417.6 84.6h1v11.3h-1zM417.6 54.2h1v7.0h-1zM418.6 89.1h1v7.1h-1zM418.6 79.1h1v3.2h-1zM418.6 64.1h1v3.6h-1zM418.6 59.6h1v6.0h-1zM418.6 73.3h1v12.2h-1zM418.6 37.7h1v12.4h-1zM418.6 60.2h1v11.7h-1zM419.6 95.7h1v3.5h-1zM419.6 82.7h1v10.8h-1zM419.6 71.7h1v10.1h-1zM419.6 101.4h1v7.2h-1zM419.6 93.0h1v5.1h-1zM419.6 106.5h1v7.1h-1zM419.6 97.6h1v3.8h-1zM420.6 98.7h1v8.8h-1zM420.6 85.6h1v11.3h-1zM420.6 76.3h1v8.1h-1zM420.6 101.9h1v8.2h-1zM420.6 103.4h1v8.4h-1zM420.6 87.0h1v10.4h-1zM420.6 100.8h1v3.4h-1zM421.6 94.4h1v11.5h-1zM421.6 100.9h1v5.4h-1zM421.6 37.1h1v4.1h-1zM421.6 38.3h1v9.2h-1zM421.6 83.2h1v8.3h-1zM421.6 83.5h1v9.4h-1zM421.6 104.6h1v12.6h-1zM422.6 52.6h1v8.7h-1zM422.6 109.1h1v5.9h-1zM422.6 72.2h1v12.4h-1zM422.6 90.6h1v7.6h-1zM422.6 51.3h1v11.8h-1zM422.6 104.0h1v5.2h-1zM422.6 71.8h1v8.1h-1zM423.6 87.4h1v7.0h-1zM423.6 98.1h1v13.1h-1zM423.6 91.2h1v6.5h-1zM423.6 88.7h1v9.2h-1zM423.6 73.4h1v11.8h-1zM423.6 70.5h1v11.8h-1zM423.6 89.6h1v13.3h-1zM424.6 86.4h1v3.6h-1zM424.6 85.7h1v3.5h-1zM424.6 102.0h1v9.6h-1zM424.6 58.3h1v9.2h-1zM424.6 99.5h1v10.4h-1zM424.6 97.2h1v5.3h-1zM424.6 99.4h1v13.1h-1zM425.6 64.8h1v4.0h-1zM425.6 100.3h1v7.6h-1zM425.6 92.7h1v13.0h-1zM425.6 98.5h1v3.6h-1zM425.6 94.6h1v12.2h-1zM425.6 71.9h1v9.4h-1zM425.6 76.5h1v4.7h-1zM426.6 102.2h1v12.3h-1zM426.6 51.2h1v13.8h-1zM426.6 81.1h1v7.2h-1zM426.6 93.9h1v9.0h-1zM426.6 39.1h1v11.0h-1zM426.6 85.1h1v4.3h-1zM426.6 99.1h1v13.2h-1zM427.6 106.4h1v8.8h-1zM427.6 70.7h1v11.3h-1zM427.6 89.3h1v4.0h-1zM427.6 85.8h1v9.6h-1zM427.6 91.4h1v4.5h-1zM427.6 68.2h1v12.3h-1zM427.6 67.7h1v3.4h-1zM428.6 93.1h1v6.8h-1zM428.6 107.5h1v3.6h-1zM428.6 77.3h1v5.7h-1zM428.6 96.7h1v11.7h-1zM428.6 72.4h1v9.2h-1zM428.6 39.4h1v11.7h-1zM428.6 94.7h1v3.4h-1zM429.6 87.2h1v10.1h-1zM429.6 50.8h1v6.9h-1zM429.6 81.0h1v4.8h-1zM429.6 57.9h1v6.6h-1zM429.6 102.0h1v8.3h-1zM429.6 51.3h1v12.7h-1zM429.6 46.4h1v8.9h-1zM430.6 48.6h1v4.8h-1zM430.6 89.9h1v7.0h-1zM430.6 62.9h1v5.2h-1zM430.6 46.9h1v12.6h-1zM430.6 90.0h1v3.2h-1zM430.6 103.4h1v11.7h-1zM430.6 92.4h1v5.5h-1zM431.6 99.9h1v5.9h-1zM431.6 61.3h1v6.2h-1zM431.6 103.0h1v9.4h-1zM431.6 64.4h1v11.6h-1zM431.6 98.5h1v5.7h-1zM431.6 94.8h1v3.5h-1zM431.6 91.5h1v12.0h-1zM432.6 76.8h1v8.1h-1zM432.6 101.9h1v13.3h-1zM432.6 84.1h1v4.0h-1zM432.6 66.3h1v10.5h-1zM432.6 55.7h1v4.5h-1zM432.6 62.3h1v6.6h-1zM432.6 104.4h1v11.7h-1zM433.6 84.5h1v11.6h-1zM433.6 103.2h1v10.0h-1zM433.6 59.5h1v12.3h-1zM433.6 98.7h1v10.9h-1zM433.6 74.6h1v13.6h-1zM433.6 97.6h1v4.5h-1zM433.6 99.2h1v13.0h-1zM434.6 96.7h1v11.8h-1zM434.6 90.1h1v12.1h-1zM434.6 101.0h1v6.3h-1zM434.6 103.1h1v13.4h-1zM434.6 44.7h1v11.7h-1zM434.6 69.5h1v5.6h-1zM434.6 62.8h1v5.6h-1zM435.6 85.8h1v10.5h-1zM435.6 95.5h1v11.6h-1zM435.6 97.7h1v13.4h-1zM435.6 103.6h1v4.0h-1zM435.6 95.6h1v6.7h-1zM435.6 90.5h1v11.7h-1zM435.6 69.9h1v4.2h-1zM436.6 100.3h1v9.7h-1zM436.6 86.3h1v5.4h-1zM436.6 76.9h1v9.8h-1zM436.6 73.5h1v6.0h-1zM436.6 95.8h1v10.3h-1zM436.6 99.6h1v10.5h-1zM436.6 95.7h1v6.0h-1zM437.6 107.0h1v5.5h-1zM437.6 101.2h1v12.8h-1zM437.6 78.1h1v13.5h-1zM437.6 89.3h1v5.1h-1zM437.6 101.3h1v8.8h-1zM437.6 42.9h1v8.0h-1zM437.6 101.5h1v6.9h-1zM438.6 40.4h1v12.5h-1zM438.6 85.7h1v13.2h-1zM438.6 105.8h1v3.8h-1zM438.6 90.9h1v13.5h-1zM438.6 77.5h1v10.0h-1zM438.6 78.3h1v10.4h-1zM438.6 104.7h1v7.0h-1zM439.6 104.1h1v12.2h-1zM439.6 96.3h1v7.9h-1zM439.6 97.4h1v11.0h-1zM439.6 99.5h1v6.6h-1zM439.6 48.8h1v12.8h-1zM439.6 52.1h1v9.3h-1zM439.6 59.2h1v10.1h-1zM440.6 72.2h1v6.2h-1zM440.6 87.0h1v13.8h-1zM440.6 93.6h1v10.4h-1zM440.6 78.4h1v10.8h-1zM440.6 98.2h1v4.8h-1zM440.6 89.5h1v11.7h-1zM440.6 76.9h1v8.7h-1zM441.6 101.7h1v11.1h-1zM441.6 59.6h1v3.6h-1zM441.6 70.1h1v13.6h-1zM441.6 106.6h1v6.4h-1zM441.6 106.0h1v6.5h-1zM441.6 84.9h1v5.9h-1zM441.6 78.0h1v13.6h-1z" fill="#0a2a96" opacity="0.35"/>
<path d="M285.6 71.8h1v9.5h-1zM285.6 70.9h1v4.4h-1zM285.6 88.9h1v7.8h-1zM288.6 85.2h1v5.6h-1zM290.6 66.5h1v13.1h-1zM291.6 62.9h1v6.4h-1zM291.6 61.0h1v3.2h-1zM291.6 66.6h1v11.1h-1zM292.6 79.1h1v4.4h-1zM293.6 67.2h1v8.1h-1zM293.6 56.2h1v5.9h-1zM294.6 78.4h1v7.2h-1zM294.6 88.8h1v5.9h-1zM296.6 67.5h1v4.5h-1zM296.6 76.3h1v12.2h-1zM298.6 48.6h1v5.2h-1zM299.6 49.5h1v13.5h-1zM299.6 50.0h1v8.6h-1zM299.6 69.1h1v6.3h-1zM300.6 72.7h1v4.1h-1zM300.6 67.7h1v8.6h-1zM301.6 57.6h1v13.5h-1zM301.6 69.3h1v13.2h-1zM301.6 49.8h1v6.8h-1zM302.6 53.4h1v13.0h-1zM302.6 61.4h1v6.8h-1zM303.6 65.1h1v5.7h-1zM304.6 53.3h1v10.5h-1zM306.6 73.6h1v8.5h-1zM307.6 54.7h1v10.5h-1zM307.6 60.0h1v11.1h-1zM307.6 63.8h1v10.3h-1zM309.6 78.5h1v3.0h-1zM309.6 68.5h1v13.5h-1zM309.6 49.7h1v5.3h-1zM309.6 83.3h1v8.2h-1zM310.6 77.2h1v3.0h-1zM312.6 70.1h1v3.4h-1zM313.6 48.7h1v6.2h-1zM313.6 62.9h1v5.7h-1zM313.6 53.7h1v9.4h-1zM315.6 80.3h1v5.2h-1zM315.6 63.0h1v6.6h-1zM316.6 56.5h1v7.5h-1zM316.6 68.8h1v13.5h-1zM316.6 77.1h1v11.0h-1zM316.6 59.9h1v12.9h-1zM318.6 58.8h1v13.4h-1zM318.6 63.9h1v8.7h-1zM319.6 81.2h1v5.7h-1zM320.6 60.7h1v4.2h-1zM320.6 51.4h1v4.0h-1zM321.6 48.1h1v14.0h-1zM323.6 42.7h1v9.9h-1zM325.6 69.3h1v4.1h-1zM326.6 72.6h1v5.6h-1zM326.6 70.8h1v12.8h-1zM329.6 73.0h1v9.8h-1zM330.6 64.9h1v3.4h-1zM331.6 62.7h1v7.7h-1zM331.6 60.2h1v11.5h-1zM332.6 59.2h1v13.8h-1zM332.6 66.3h1v11.8h-1zM332.6 60.2h1v6.8h-1zM332.6 70.3h1v10.7h-1zM333.6 60.2h1v12.9h-1zM333.6 65.8h1v8.8h-1zM334.6 55.5h1v11.5h-1zM335.6 72.8h1v13.7h-1zM335.6 63.2h1v4.2h-1zM336.6 65.0h1v3.4h-1zM336.6 52.5h1v7.5h-1zM339.6 63.6h1v7.3h-1zM339.6 78.9h1v6.0h-1zM339.6 81.4h1v7.6h-1zM339.6 68.2h1v11.2h-1zM340.6 47.7h1v11.9h-1zM340.6 49.3h1v6.9h-1zM341.6 70.0h1v5.0h-1zM342.6 50.9h1v10.0h-1zM342.6 69.8h1v4.6h-1zM342.6 52.4h1v11.7h-1zM342.6 56.1h1v9.7h-1zM343.6 71.4h1v4.5h-1zM343.6 87.0h1v8.1h-1zM343.6 52.5h1v8.5h-1zM346.6 74.7h1v5.1h-1zM348.6 92.9h1v4.3h-1zM348.6 84.7h1v7.3h-1zM349.6 68.7h1v5.1h-1zM350.6 56.4h1v8.3h-1zM350.6 58.4h1v7.8h-1zM351.6 69.6h1v13.7h-1zM352.6 72.6h1v5.9h-1zM353.6 59.3h1v13.2h-1zM353.6 65.0h1v10.5h-1zM353.6 86.6h1v5.8h-1zM354.6 63.7h1v12.9h-1zM354.6 59.5h1v7.0h-1zM354.6 78.4h1v10.0h-1zM357.6 71.4h1v11.3h-1zM358.6 65.5h1v10.5h-1zM358.6 88.6h1v3.4h-1zM358.6 81.8h1v13.2h-1zM359.6 95.2h1v5.4h-1zM359.6 76.0h1v8.4h-1zM360.6 73.3h1v5.2h-1zM361.6 92.7h1v5.0h-1zM361.6 88.6h1v5.3h-1zM362.6 93.9h1v3.7h-1zM362.6 67.8h1v12.1h-1zM363.6 79.3h1v7.1h-1zM363.6 92.0h1v8.7h-1zM363.6 75.5h1v7.2h-1zM363.6 96.6h1v12.6h-1zM364.6 76.5h1v8.8h-1zM364.6 94.7h1v12.6h-1zM364.6 99.4h1v4.4h-1zM366.6 77.2h1v6.7h-1zM366.6 67.7h1v13.3h-1zM366.6 67.0h1v10.0h-1zM366.6 80.8h1v3.8h-1zM366.6 85.9h1v3.2h-1zM367.6 50.0h1v11.5h-1zM367.6 68.0h1v13.2h-1zM367.6 93.2h1v8.7h-1zM368.6 75.5h1v4.3h-1zM368.6 69.6h1v8.9h-1zM368.6 73.5h1v6.2h-1zM369.6 93.4h1v10.8h-1zM369.6 86.9h1v5.7h-1zM369.6 65.1h1v7.2h-1zM369.6 92.5h1v6.9h-1zM369.6 84.1h1v13.9h-1zM370.6 74.4h1v4.7h-1zM370.6 99.6h1v5.5h-1zM370.6 75.2h1v10.4h-1zM371.6 101.3h1v11.4h-1zM372.6 83.2h1v11.0h-1zM372.6 72.0h1v9.1h-1zM372.6 78.3h1v11.7h-1zM373.6 71.5h1v13.1h-1zM373.6 87.2h1v10.5h-1zM373.6 79.7h1v9.5h-1zM374.6 89.3h1v7.1h-1zM374.6 80.6h1v9.3h-1zM374.6 80.9h1v14.0h-1zM374.6 75.0h1v12.0h-1zM375.6 89.3h1v5.0h-1zM375.6 82.8h1v6.4h-1zM376.6 97.4h1v6.3h-1zM376.6 69.4h1v8.8h-1zM377.6 103.3h1v3.1h-1zM377.6 98.2h1v10.9h-1zM377.6 78.8h1v5.9h-1zM377.6 77.8h1v7.2h-1zM378.6 85.0h1v5.7h-1zM378.6 105.8h1v7.3h-1zM378.6 98.4h1v6.4h-1zM379.6 60.8h1v6.2h-1zM379.6 90.3h1v8.9h-1zM379.6 82.4h1v3.7h-1zM380.6 101.4h1v6.9h-1zM380.6 95.0h1v13.5h-1zM380.6 62.7h1v8.6h-1zM381.6 94.7h1v12.9h-1zM381.6 93.2h1v5.7h-1zM381.6 90.7h1v12.6h-1zM381.6 70.7h1v7.2h-1zM382.6 101.2h1v10.3h-1zM382.6 89.6h1v3.7h-1zM382.6 97.9h1v7.4h-1zM382.6 103.7h1v6.0h-1zM383.6 83.8h1v6.9h-1zM383.6 80.8h1v10.7h-1zM383.6 68.5h1v6.9h-1zM383.6 95.8h1v4.3h-1zM384.6 75.7h1v5.0h-1zM384.6 102.1h1v3.5h-1zM385.6 61.6h1v11.2h-1zM385.6 84.4h1v8.6h-1zM386.6 103.1h1v11.4h-1zM386.6 86.2h1v5.9h-1zM386.6 92.0h1v3.7h-1zM386.6 79.5h1v5.2h-1zM386.6 96.9h1v5.7h-1zM387.6 85.7h1v13.3h-1zM387.6 99.5h1v11.4h-1zM387.6 83.2h1v12.1h-1zM389.6 103.0h1v11.6h-1zM390.6 79.4h1v7.1h-1zM390.6 104.0h1v3.5h-1zM390.6 89.0h1v12.0h-1zM390.6 88.8h1v4.7h-1zM391.6 96.5h1v7.9h-1zM391.6 108.3h1v3.4h-1zM391.6 94.3h1v11.7h-1zM391.6 88.9h1v6.7h-1zM392.6 81.8h1v12.1h-1zM392.6 104.9h1v6.3h-1zM392.6 84.7h1v6.8h-1zM392.6 82.7h1v13.0h-1zM392.6 95.7h1v3.7h-1zM393.6 96.8h1v6.3h-1zM393.6 91.1h1v8.3h-1zM393.6 95.3h1v6.8h-1zM393.6 104.9h1v5.1h-1zM393.6 98.1h1v3.9h-1zM393.6 94.6h1v9.4h-1zM393.6 81.8h1v9.2h-1zM394.6 105.5h1v4.2h-1zM394.6 104.7h1v4.0h-1zM395.6 83.4h1v9.1h-1zM395.6 99.4h1v4.3h-1zM395.6 108.6h1v4.1h-1zM395.6 103.2h1v4.9h-1zM395.6 104.0h1v11.5h-1zM396.6 94.8h1v12.8h-1zM396.6 93.0h1v9.2h-1zM396.6 97.0h1v11.4h-1zM396.6 97.9h1v4.3h-1zM396.6 76.6h1v13.4h-1zM397.6 103.8h1v4.2h-1zM398.6 87.6h1v11.9h-1zM398.6 101.6h1v7.3h-1zM399.6 79.9h1v9.7h-1zM399.6 106.0h1v3.5h-1zM399.6 92.1h1v6.9h-1zM399.6 87.4h1v3.5h-1zM400.6 88.3h1v13.5h-1zM400.6 97.9h1v11.5h-1zM400.6 94.6h1v7.0h-1zM401.6 106.0h1v6.3h-1zM401.6 99.0h1v8.6h-1zM401.6 75.1h1v8.3h-1zM402.6 103.1h1v7.9h-1zM402.6 95.3h1v13.3h-1zM402.6 104.8h1v11.5h-1zM403.6 85.3h1v3.7h-1zM403.6 87.6h1v6.0h-1zM403.6 104.2h1v5.2h-1zM403.6 97.4h1v9.6h-1zM404.6 88.5h1v10.0h-1zM404.6 99.1h1v7.5h-1zM405.6 101.8h1v13.9h-1zM406.6 95.6h1v11.5h-1zM407.6 100.0h1v4.8h-1zM410.6 93.0h1v5.3h-1zM411.6 94.7h1v13.8h-1zM412.6 104.4h1v6.0h-1zM413.6 94.2h1v12.6h-1zM415.6 98.4h1v8.6h-1z" fill="#0f3aa6" opacity="0.45"/>
<path d="M283.6 98.4h1v11.8h-1zM284.6 79.3h1v4.4h-1zM284.6 102.7h1v5.8h-1zM286.6 92.7h1v8.2h-1zM286.6 86.7h1v11.6h-1zM286.6 91.7h1v6.0h-1zM288.6 102.4h1v10.9h-1zM288.6 92.9h1v12.7h-1zM288.6 78.2h1v13.9h-1zM288.6 101.9h1v7.7h-1zM289.6 89.8h1v5.2h-1zM289.6 77.3h1v3.2h-1zM289.6 92.8h1v3.2h-1zM289.6 75.7h1v8.6h-1zM289.6 107.1h1v5.9h-1zM289.6 93.0h1v4.4h-1zM290.6 86.1h1v3.8h-1zM292.6 90.1h1v8.2h-1zM292.6 103.0h1v12.0h-1zM292.6 81.3h1v12.2h-1zM292.6 79.5h1v10.6h-1zM293.6 68.3h1v6.4h-1zM294.6 87.4h1v5.2h-1zM297.6 71.1h1v5.3h-1zM297.6 78.7h1v10.5h-1zM298.6 88.3h1v8.1h-1zM298.6 85.9h1v5.3h-1zM299.6 100.4h1v11.3h-1zM300.6 99.4h1v13.2h-1zM300.6 76.2h1v14.0h-1zM301.6 96.2h1v11.1h-1zM302.6 70.1h1v13.7h-1zM302.6 70.0h1v6.3h-1zM302.6 84.8h1v13.0h-1zM303.6 81.7h1v8.8h-1zM303.6 81.7h1v3.7h-1zM303.6 72.8h1v4.4h-1zM304.6 78.5h1v13.5h-1zM304.6 92.3h1v7.3h-1zM305.6 88.9h1v13.1h-1zM305.6 66.9h1v10.7h-1zM306.6 93.5h1v6.3h-1zM306.6 66.4h1v10.8h-1zM307.6 84.9h1v13.7h-1zM307.6 75.5h1v5.5h-1zM307.6 65.6h1v6.2h-1zM308.6 65.3h1v4.6h-1zM310.6 66.4h1v12.9h-1zM310.6 73.8h1v13.5h-1zM310.6 91.9h1v10.9h-1zM311.6 106.5h1v5.6h-1zM311.6 80.4h1v7.7h-1zM311.6 73.2h1v11.6h-1zM312.6 87.4h1v13.8h-1zM313.6 72.6h1v13.9h-1zM313.6 86.0h1v11.9h-1zM314.6 105.3h1v6.2h-1zM315.6 67.5h1v10.2h-1zM315.6 96.8h1v6.4h-1zM315.6 61.8h1v9.0h-1zM316.6 74.9h1v6.9h-1zM317.6 70.5h1v13.0h-1zM317.6 88.7h1v6.1h-1zM320.6 79.6h1v5.6h-1zM320.6 92.7h1v11.1h-1zM321.6 85.0h1v13.5h-1zM322.6 72.5h1v4.6h-1zM322.6 70.2h1v6.5h-1zM322.6 99.7h1v8.8h-1zM323.6 96.6h1v12.0h-1zM323.6 65.6h1v13.8h-1zM324.6 81.0h1v12.9h-1zM324.6 77.4h1v9.4h-1zM324.6 91.2h1v9.9h-1zM325.6 83.4h1v13.3h-1zM325.6 83.8h1v3.1h-1zM326.6 90.7h1v9.1h-1zM327.6 75.0h1v10.6h-1zM327.6 87.7h1v10.1h-1zM329.6 97.6h1v9.5h-1zM330.6 101.4h1v12.5h-1zM331.6 76.1h1v13.6h-1zM331.6 76.8h1v8.9h-1zM331.6 66.1h1v4.0h-1zM332.6 86.4h1v10.0h-1zM333.6 78.9h1v12.8h-1zM333.6 85.2h1v12.7h-1zM334.6 79.0h1v4.7h-1zM334.6 91.6h1v8.1h-1zM334.6 71.2h1v12.3h-1zM335.6 77.2h1v4.8h-1zM335.6 95.2h1v13.6h-1zM336.6 63.2h1v12.7h-1zM337.6 76.3h1v4.1h-1zM337.6 94.1h1v7.7h-1zM338.6 88.0h1v11.6h-1zM338.6 86.0h1v13.4h-1zM339.6 96.4h1v13.8h-1zM340.6 65.8h1v6.9h-1zM340.6 85.1h1v9.0h-1zM341.6 87.8h1v5.7h-1zM341.6 73.5h1v7.7h-1zM342.6 66.8h1v6.8h-1zM345.6 83.1h1v9.1h-1zM345.6 82.5h1v6.0h-1zM346.6 72.1h1v10.0h-1zM346.6 98.6h1v10.9h-1zM347.6 77.1h1v11.7h-1zM347.6 91.6h1v6.3h-1zM348.6 82.9h1v7.7h-1zM348.6 88.0h1v4.1h-1zM349.6 96.3h1v4.7h-1zM349.6 103.7h1v12.6h-1zM349.6 97.1h1v9.9h-1zM350.6 67.1h1v10.9h-1zM350.6 94.1h1v11.8h-1zM351.6 77.6h1v9.9h-1zM351.6 80.6h1v11.6h-1zM351.6 92.8h1v7.7h-1zM352.6 80.8h1v12.0h-1zM352.6 101.5h1v12.2h-1zM352.6 68.7h1v11.9h-1zM354.6 93.5h1v5.1h-1zM354.6 90.5h1v8.7h-1zM355.6 99.4h1v9.6h-1zM355.6 79.5h1v3.2h-1zM355.6 89.2h1v11.6h-1zM356.6 73.5h1v8.0h-1zM356.6 94.3h1v4.3h-1zM356.6 105.1h1v9.2h-1zM356.6 82.4h1v4.8h-1zM357.6 108.2h1v4.6h-1zM358.6 102.2h1v13.3h-1zM359.6 76.5h1v8.3h-1zM359.6 87.7h1v4.6h-1zM359.6 103.3h1v7.5h-1zM359.6 76.7h1v4.3h-1zM360.6 103.9h1v12.8h-1zM360.6 95.5h1v8.3h-1zM360.6 75.6h1v14.0h-1zM360.6 105.6h1v6.2h-1zM360.6 102.3h1v11.0h-1zM360.6 75.0h1v3.2h-1zM361.6 102.6h1v4.5h-1zM361.6 97.0h1v5.0h-1zM361.6 84.9h1v5.4h-1zM362.6 96.7h1v10.9h-1zM362.6 91.6h1v12.3h-1zM363.6 86.1h1v4.3h-1zM364.6 91.5h1v3.2h-1zM364.6 107.5h1v5.0h-1zM365.6 88.1h1v6.1h-1zM365.6 92.9h1v4.8h-1zM365.6 82.3h1v8.8h-1zM365.6 79.2h1v11.5h-1zM366.6 81.7h1v11.8h-1zM367.6 93.2h1v10.5h-1zM367.6 84.4h1v6.2h-1zM369.6 84.3h1v9.7h-1zM369.6 102.2h1v9.1h-1zM370.6 91.3h1v12.0h-1zM371.6 86.9h1v11.2h-1zM371.6 97.4h1v11.6h-1zM371.6 89.1h1v13.6h-1zM371.6 89.4h1v11.6h-1zM371.6 103.5h1v7.2h-1zM372.6 102.4h1v7.9h-1zM372.6 93.4h1v4.0h-1zM372.6 102.4h1v12.3h-1zM373.6 85.5h1v3.1h-1zM373.6 96.7h1v14.0h-1zM373.6 76.4h1v10.4h-1zM374.6 103.4h1v4.2h-1zM375.6 101.8h1v12.0h-1zM375.6 94.5h1v6.9h-1zM375.6 109.0h1v3.5h-1zM376.6 100.9h1v10.3h-1zM376.6 107.1h1v7.5h-1zM377.6 87.9h1v9.7h-1zM377.6 97.4h1v13.6h-1zM378.6 92.5h1v8.5h-1zM378.6 101.3h1v11.7h-1zM381.6 96.0h1v6.4h-1zM382.6 101.9h1v12.7h-1zM383.6 102.9h1v10.8h-1zM384.6 100.6h1v10.9h-1zM384.6 104.7h1v3.5h-1zM385.6 99.7h1v6.1h-1zM385.6 103.3h1v11.1h-1zM385.6 101.7h1v8.0h-1zM386.6 89.0h1v10.0h-1zM388.6 110.3h1v3.9h-1zM388.6 97.0h1v9.2h-1zM389.6 103.6h1v9.9h-1zM389.6 106.1h1v5.8h-1zM389.6 100.6h1v6.3h-1zM390.6 102.4h1v6.6h-1zM390.6 94.4h1v13.4h-1zM392.6 100.1h1v13.6h-1zM396.6 106.1h1v4.8h-1z" fill="#1550b8" opacity="0.5"/>
<path d="M282.6 91.6h1v12.2h-1zM283.6 97.0h1v3.9h-1zM283.6 100.4h1v5.0h-1zM283.6 106.4h1v7.4h-1zM284.6 102.7h1v12.6h-1zM285.6 104.2h1v8.0h-1zM285.6 92.0h1v7.6h-1zM285.6 104.1h1v8.9h-1zM286.6 98.6h1v6.6h-1zM286.6 99.1h1v9.2h-1zM287.6 92.9h1v8.6h-1zM287.6 96.2h1v8.9h-1zM287.6 84.9h1v10.7h-1zM287.6 88.5h1v12.2h-1zM288.6 103.2h1v13.5h-1zM290.6 80.8h1v12.0h-1zM290.6 93.2h1v4.0h-1zM290.6 103.4h1v6.7h-1zM291.6 98.9h1v8.5h-1zM292.6 104.3h1v12.2h-1zM292.6 97.5h1v7.5h-1zM294.6 88.0h1v10.2h-1zM295.6 77.2h1v4.6h-1zM295.6 86.7h1v12.2h-1zM296.6 89.6h1v9.9h-1zM296.6 98.6h1v3.0h-1zM296.6 91.5h1v3.7h-1zM296.6 100.4h1v3.8h-1zM297.6 98.0h1v9.2h-1zM298.6 82.3h1v13.6h-1zM298.6 104.6h1v9.4h-1zM300.6 92.2h1v7.7h-1zM300.6 99.2h1v13.3h-1zM301.6 83.6h1v10.1h-1zM302.6 92.1h1v4.8h-1zM303.6 85.4h1v12.5h-1zM304.6 85.6h1v8.2h-1zM304.6 108.0h1v4.2h-1zM305.6 98.9h1v9.1h-1zM305.6 96.4h1v4.4h-1zM305.6 93.1h1v5.5h-1zM306.6 97.0h1v5.8h-1zM308.6 105.8h1v7.3h-1zM308.6 106.4h1v5.0h-1zM308.6 95.9h1v7.1h-1zM309.6 76.0h1v12.0h-1zM309.6 80.7h1v5.1h-1zM309.6 81.0h1v3.3h-1zM310.6 80.3h1v11.4h-1zM312.6 98.5h1v5.6h-1zM312.6 81.2h1v10.4h-1zM313.6 89.4h1v11.1h-1zM314.6 83.9h1v12.2h-1zM315.6 93.7h1v5.4h-1zM316.6 92.2h1v4.0h-1zM316.6 79.4h1v14.0h-1zM317.6 83.1h1v7.5h-1zM317.6 84.1h1v13.6h-1zM318.6 100.4h1v7.4h-1zM319.6 101.2h1v9.6h-1zM319.6 91.0h1v6.4h-1zM319.6 82.8h1v7.7h-1zM319.6 95.3h1v7.8h-1zM320.6 86.3h1v3.4h-1zM321.6 102.6h1v11.7h-1zM321.6 105.5h1v6.9h-1zM321.6 96.6h1v12.9h-1zM322.6 91.9h1v12.6h-1zM323.6 88.1h1v12.7h-1zM323.6 81.9h1v5.9h-1zM323.6 100.9h1v4.9h-1zM325.6 95.2h1v6.9h-1zM325.6 92.0h1v13.3h-1zM325.6 95.8h1v12.9h-1zM326.6 106.6h1v5.2h-1zM326.6 91.9h1v10.1h-1zM326.6 101.9h1v6.4h-1zM327.6 99.8h1v5.5h-1zM327.6 88.5h1v11.7h-1zM328.6 103.6h1v12.7h-1zM328.6 104.5h1v5.6h-1zM329.6 83.1h1v9.3h-1zM330.6 76.5h1v12.0h-1zM332.6 103.8h1v3.0h-1zM332.6 99.1h1v13.4h-1zM334.6 104.9h1v5.1h-1zM336.6 79.9h1v10.6h-1zM336.6 87.5h1v8.1h-1zM336.6 91.5h1v7.6h-1zM337.6 81.2h1v10.8h-1zM337.6 85.1h1v7.5h-1zM338.6 89.9h1v10.9h-1zM338.6 86.1h1v12.1h-1zM339.6 83.2h1v6.9h-1zM340.6 102.0h1v5.3h-1zM340.6 93.6h1v9.2h-1zM341.6 102.8h1v7.1h-1zM341.6 94.8h1v7.0h-1zM343.6 95.0h1v11.2h-1zM343.6 83.3h1v9.1h-1zM343.6 92.1h1v3.1h-1zM344.6 101.4h1v9.2h-1zM344.6 84.6h1v3.8h-1zM344.6 96.6h1v3.3h-1zM344.6 90.4h1v13.2h-1zM344.6 75.6h1v8.6h-1zM344.6 88.9h1v3.4h-1zM345.6 98.3h1v6.7h-1zM345.6 102.6h1v8.2h-1zM345.6 90.2h1v5.3h-1zM345.6 99.5h1v12.1h-1zM345.6 86.7h1v10.2h-1zM346.6 101.1h1v6.5h-1zM347.6 92.0h1v10.7h-1zM347.6 93.8h1v5.3h-1zM347.6 93.9h1v11.4h-1zM348.6 98.5h1v13.1h-1zM349.6 88.6h1v12.4h-1zM350.6 94.7h1v13.3h-1zM352.6 102.3h1v10.5h-1zM352.6 90.7h1v11.9h-1zM354.6 103.4h1v8.2h-1zM355.6 81.3h1v11.4h-1zM356.6 93.2h1v10.4h-1zM357.6 99.1h1v10.1h-1zM358.6 102.1h1v8.0h-1zM361.6 101.0h1v5.2h-1zM362.6 91.2h1v11.9h-1zM362.6 105.2h1v3.2h-1zM362.6 102.0h1v12.6h-1zM363.6 95.2h1v12.5h-1zM363.6 105.3h1v8.6h-1zM365.6 93.9h1v4.6h-1zM365.6 101.9h1v7.3h-1zM366.6 102.2h1v12.3h-1zM367.6 103.1h1v11.9h-1zM367.6 105.8h1v3.4h-1zM368.6 92.0h1v8.7h-1zM368.6 101.4h1v9.3h-1zM370.6 107.4h1v4.7h-1zM371.6 99.1h1v4.4h-1zM373.6 103.3h1v5.2h-1zM374.6 103.1h1v8.4h-1zM375.6 106.8h1v7.6h-1zM378.6 104.1h1v6.5h-1zM378.6 104.7h1v6.3h-1z" fill="#1a68c8" opacity="0.55"/>
<path d="M280.6 98.9h1v12.4h-1zM280.6 99.3h1v11.1h-1zM281.6 96.7h1v7.9h-1zM283.6 93.5h1v11.6h-1zM283.6 106.9h1v4.9h-1zM284.6 105.8h1v4.6h-1zM284.6 100.4h1v10.2h-1zM284.6 106.2h1v8.8h-1zM286.6 99.3h1v7.9h-1zM290.6 103.2h1v11.8h-1zM291.6 91.3h1v5.9h-1zM293.6 104.0h1v6.1h-1zM294.6 97.9h1v7.3h-1zM295.6 100.1h1v3.5h-1zM295.6 100.0h1v4.5h-1zM295.6 100.1h1v9.4h-1zM295.6 102.4h1v10.6h-1zM296.6 100.3h1v8.5h-1zM297.6 98.4h1v10.1h-1zM298.6 97.5h1v6.2h-1zM299.6 104.8h1v5.5h-1zM299.6 106.2h1v3.3h-1zM300.6 98.3h1v6.2h-1zM302.6 108.5h1v4.5h-1zM303.6 89.5h1v11.2h-1zM306.6 84.2h1v10.1h-1zM306.6 104.6h1v5.6h-1zM307.6 107.0h1v5.1h-1zM311.6 83.3h1v13.5h-1zM311.6 88.6h1v5.0h-1zM311.6 100.4h1v6.6h-1zM314.6 92.3h1v7.1h-1zM314.6 103.9h1v5.9h-1zM317.6 105.0h1v4.8h-1zM317.6 90.6h1v4.2h-1zM318.6 108.4h1v3.6h-1zM318.6 102.3h1v12.9h-1zM318.6 95.1h1v4.8h-1zM319.6 93.1h1v3.4h-1zM320.6 102.1h1v3.6h-1zM321.6 103.6h1v13.5h-1zM322.6 89.0h1v5.3h-1zM324.6 92.7h1v6.4h-1zM325.6 92.5h1v11.6h-1zM326.6 102.5h1v3.1h-1zM328.6 102.9h1v10.6h-1zM328.6 99.8h1v12.4h-1zM329.6 95.3h1v10.7h-1zM330.6 102.4h1v6.2h-1zM331.6 86.8h1v9.8h-1zM333.6 100.7h1v6.9h-1zM334.6 98.0h1v10.1h-1zM334.6 100.5h1v11.2h-1zM335.6 100.6h1v7.8h-1zM337.6 97.5h1v12.4h-1zM337.6 96.1h1v8.0h-1zM337.6 97.4h1v5.0h-1zM338.6 95.4h1v7.3h-1zM338.6 89.2h1v3.4h-1zM338.6 107.1h1v4.1h-1zM339.6 106.5h1v5.4h-1zM340.6 92.4h1v12.0h-1zM342.6 97.6h1v12.8h-1zM343.6 101.6h1v5.2h-1zM344.6 95.9h1v7.1h-1zM346.6 105.7h1v3.5h-1zM346.6 103.5h1v10.2h-1zM346.6 99.4h1v9.7h-1zM347.6 98.6h1v10.2h-1zM348.6 96.7h1v3.6h-1zM348.6 89.3h1v13.8h-1zM351.6 104.7h1v9.2h-1zM351.6 97.7h1v6.7h-1zM351.6 90.8h1v12.1h-1zM352.6 100.4h1v9.3h-1zM353.6 96.9h1v6.8h-1zM353.6 98.9h1v8.1h-1zM355.6 108.0h1v8.3h-1zM355.6 102.4h1v5.8h-1zM356.6 107.5h1v3.7h-1zM357.6 106.3h1v3.5h-1zM357.6 97.8h1v10.4h-1zM358.6 104.6h1v4.5h-1z" fill="#2080d4" opacity="0.6"/>
<path d="M281.6 102.3h1v13.5h-1zM287.6 104.3h1v5.9h-1zM293.6 105.3h1v9.0h-1zM295.6 100.9h1v9.9h-1zM297.6 98.2h1v8.4h-1zM298.6 108.7h1v3.2h-1zM301.6 102.5h1v9.9h-1zM301.6 103.8h1v9.0h-1zM304.6 104.7h1v3.2h-1zM304.6 102.6h1v12.4h-1zM305.6 104.2h1v10.1h-1zM306.6 96.8h1v5.5h-1zM308.6 100.4h1v14.0h-1zM308.6 107.4h1v3.4h-1zM310.6 98.1h1v10.0h-1zM311.6 98.7h1v12.1h-1zM312.6 104.5h1v5.9h-1zM313.6 97.6h1v10.3h-1zM314.6 96.9h1v4.1h-1zM314.6 101.8h1v4.2h-1zM318.6 103.7h1v5.0h-1zM319.6 100.2h1v3.5h-1zM320.6 99.3h1v8.0h-1zM321.6 99.6h1v5.1h-1zM322.6 97.7h1v4.9h-1zM323.6 107.2h1v7.0h-1zM327.6 102.1h1v8.1h-1zM327.6 103.2h1v5.9h-1zM328.6 106.0h1v6.6h-1zM328.6 95.4h1v8.2h-1zM330.6 106.3h1v4.2h-1zM330.6 101.3h1v10.0h-1zM336.6 98.6h1v7.7h-1zM341.6 107.0h1v3.6h-1zM341.6 99.8h1v11.6h-1zM356.6 107.2h1v5.4h-1z" fill="#2a98dc" opacity="0.65"/>
<polygon points="292,82 380,82 420,112 283,112" fill="#1650c0" filter="url(#bl6)" opacity="0.5"/>
<polygon points="286,98 380,96 400,115 282,115" fill="#1e80e0" filter="url(#bl4)" opacity="0.55"/>
<ellipse cx="326" cy="113" rx="58" ry="11" fill="#2590e6" filter="url(#bl3)" opacity="0.65"/>
<ellipse cx="330" cy="113" rx="45" ry="5" fill="#22c8ea" filter="url(#bl2)" opacity="0.75"/>
<ellipse cx="315" cy="113.2" rx="37" ry="8" fill="#30e8ea" filter="url(#bl1)"/>
<ellipse cx="314" cy="113" rx="28" ry="2.6" fill="#a8f068" filter="url(#bl1)"/>
<rect x="293" y="111.7" width="46" height="1.1" fill="#c80000"/>
<rect x="289" y="111.9" width="4" height="0.9" fill="#d00000" opacity="0.5"/>
<rect x="339" y="111.9" width="19" height="0.9" fill="#e09030" opacity="0.7"/>
</g>
<line x1="309.60" y1="32.90" x2="309.60" y2="112.90" stroke="#e8e8f0" stroke-width="1" stroke-dasharray="1.3,1.3" opacity="0.8"/>
<text x="281.80" y="53.50" font-size="12" text-anchor="middle" fill="#fff" font-weight="bold">i</text>
<text x="334.50" y="53.00" font-size="10.8" text-anchor="middle" fill="#fff" font-weight="normal">460 nm</text>
<line x1="267.60" y1="97.70" x2="270.60" y2="97.70" stroke="#3a3a3a" stroke-width="0.9"/>
<text x="266.40" y="102.40" font-size="10.8" text-anchor="end" fill="#1a1a1a" font-weight="normal">200</text>
<line x1="267.60" y1="80.70" x2="270.60" y2="80.70" stroke="#3a3a3a" stroke-width="0.9"/>
<text x="266.40" y="85.40" font-size="10.8" text-anchor="end" fill="#1a1a1a" font-weight="normal">400</text>
<line x1="267.60" y1="63.70" x2="270.60" y2="63.70" stroke="#3a3a3a" stroke-width="0.9"/>
<text x="266.40" y="68.40" font-size="10.8" text-anchor="end" fill="#1a1a1a" font-weight="normal">600</text>
<line x1="267.60" y1="46.70" x2="270.60" y2="46.70" stroke="#3a3a3a" stroke-width="0.9"/>
<text x="266.40" y="51.40" font-size="10.8" text-anchor="end" fill="#1a1a1a" font-weight="normal">800</text>
<line x1="268.80" y1="106.20" x2="270.60" y2="106.20" stroke="#3a3a3a" stroke-width="0.8"/>
<line x1="268.80" y1="89.20" x2="270.60" y2="89.20" stroke="#3a3a3a" stroke-width="0.8"/>
<line x1="268.80" y1="72.20" x2="270.60" y2="72.20" stroke="#3a3a3a" stroke-width="0.8"/>
<line x1="268.80" y1="55.20" x2="270.60" y2="55.20" stroke="#3a3a3a" stroke-width="0.8"/>
<line x1="268.80" y1="38.20" x2="270.60" y2="38.20" stroke="#3a3a3a" stroke-width="0.8"/>
<text x="244.50" y="65.00" font-size="10.8" text-anchor="middle" fill="#1a1a1a" font-weight="normal" transform="rotate(-90 244.5 65)">Delayed time (min)</text>
<line x1="270.60" y1="112.90" x2="270.60" y2="168.30" stroke="#3a3a3a" stroke-width="1"/>
<line x1="270.10" y1="168.30" x2="442.70" y2="168.30" stroke="#3a3a3a" stroke-width="1"/>
<line x1="442.20" y1="112.90" x2="442.20" y2="168.30" stroke="#7a7a7a" stroke-width="1"/>
<line x1="270.60" y1="168.30" x2="270.60" y2="170.80" stroke="#3a3a3a" stroke-width="0.9"/>
<text x="270.60" y="181.00" font-size="10.8" text-anchor="middle" fill="#1a1a1a" font-weight="normal">400</text>
<line x1="304.92" y1="168.30" x2="304.92" y2="170.80" stroke="#3a3a3a" stroke-width="0.9"/>
<text x="304.92" y="181.00" font-size="10.8" text-anchor="middle" fill="#1a1a1a" font-weight="normal">450</text>
<line x1="339.24" y1="168.30" x2="339.24" y2="170.80" stroke="#3a3a3a" stroke-width="0.9"/>
<text x="339.24" y="181.00" font-size="10.8" text-anchor="middle" fill="#1a1a1a" font-weight="normal">500</text>
<line x1="373.56" y1="168.30" x2="373.56" y2="170.80" stroke="#3a3a3a" stroke-width="0.9"/>
<text x="373.56" y="181.00" font-size="10.8" text-anchor="middle" fill="#1a1a1a" font-weight="normal">550</text>
<line x1="407.88" y1="168.30" x2="407.88" y2="170.80" stroke="#3a3a3a" stroke-width="0.9"/>
<text x="407.88" y="181.00" font-size="10.8" text-anchor="middle" fill="#1a1a1a" font-weight="normal">600</text>
<line x1="442.20" y1="168.30" x2="442.20" y2="170.80" stroke="#3a3a3a" stroke-width="0.9"/>
<text x="442.20" y="181.00" font-size="10.8" text-anchor="middle" fill="#1a1a1a" font-weight="normal">650</text>
<line x1="287.76" y1="168.30" x2="287.76" y2="169.90" stroke="#3a3a3a" stroke-width="0.8"/>
<line x1="322.08" y1="168.30" x2="322.08" y2="169.90" stroke="#3a3a3a" stroke-width="0.8"/>
<line x1="356.40" y1="168.30" x2="356.40" y2="169.90" stroke="#3a3a3a" stroke-width="0.8"/>
<line x1="390.72" y1="168.30" x2="390.72" y2="169.90" stroke="#3a3a3a" stroke-width="0.8"/>
<line x1="425.04" y1="168.30" x2="425.04" y2="169.90" stroke="#3a3a3a" stroke-width="0.8"/>
<text x="364.80" y="194.50" font-size="10.8" text-anchor="middle" fill="#1a1a1a" font-weight="normal">Wavelength (nm)</text>
<path d="M270.60,161.06 L271.20,161.35 L271.80,161.30 L272.40,160.23 L273.00,161.23 L273.60,161.34 L274.20,160.13 L274.80,159.65 L275.40,160.78 L276.00,159.80 L276.60,159.84 L277.20,160.55 L277.80,159.06 L278.40,159.08 L279.00,159.04 L279.60,158.98 L280.20,158.32 L280.80,157.84 L281.40,157.75 L282.00,158.38 L282.60,157.09 L283.20,156.20 L283.80,156.54 L284.40,155.56 L285.00,155.16 L285.60,154.86 L286.20,153.12 L286.80,153.03 L287.40,152.26 L288.00,151.71 L288.60,151.05 L289.20,149.00 L289.80,147.84 L290.40,146.25 L291.00,145.37 L291.60,142.98 L292.20,139.68 L292.80,141.16 L293.40,140.91 L294.00,137.75 L294.60,137.83 L295.20,135.21 L295.80,133.77 L296.40,134.38 L297.00,136.43 L297.60,132.92 L298.20,134.37 L298.80,132.00 L299.40,129.60 L300.00,130.54 L300.60,129.19 L301.20,125.04 L301.80,127.00 L302.40,126.46 L303.00,128.15 L303.60,128.50 L304.20,125.84 L304.80,124.60 L305.40,125.38 L306.00,125.84 L306.60,124.51 L307.20,124.87 L307.80,125.78 L308.40,127.76 L309.00,126.36 L309.60,123.62 L310.20,126.11 L310.80,126.18 L311.40,122.25 L312.00,125.47 L312.60,125.82 L313.20,126.96 L313.80,122.95 L314.40,126.88 L315.00,124.14 L315.60,122.03 L316.20,126.77 L316.80,120.97 L317.40,127.42 L318.00,125.20 L318.60,124.49 L319.20,126.08 L319.80,122.64 L320.40,125.28 L321.00,121.56 L321.60,124.33 L322.20,121.53 L322.80,125.91 L323.40,119.37 L324.00,125.94 L324.60,125.11 L325.20,127.62 L325.80,125.86 L326.40,124.14 L327.00,127.25 L327.60,126.65 L328.20,127.70 L328.80,128.85 L329.40,131.40 L330.00,129.70 L330.60,132.42 L331.20,128.71 L331.80,129.04 L332.40,129.42 L333.00,131.79 L333.60,132.78 L334.20,130.35 L334.80,133.61 L335.40,131.52 L336.00,132.47 L336.60,134.02 L337.20,134.84 L337.80,133.52 L338.40,133.07 L339.00,136.03 L339.60,134.18 L340.20,136.60 L340.80,136.47 L341.40,134.82 L342.00,138.13 L342.60,138.97 L343.20,137.15 L343.80,138.19 L344.40,138.25 L345.00,138.84 L345.60,140.59 L346.20,135.61 L346.80,139.06 L347.40,142.44 L348.00,142.93 L348.60,141.95 L349.20,142.17 L349.80,141.37 L350.40,141.62 L351.00,142.63 L351.60,141.06 L352.20,141.86 L352.80,142.53 L353.40,143.17 L354.00,144.56 L354.60,144.08 L355.20,141.19 L355.80,146.91 L356.40,146.74 L357.00,146.50 L357.60,146.20 L358.20,146.27 L358.80,146.26 L359.40,146.78 L360.00,147.32 L360.60,146.70 L361.20,146.46 L361.80,145.33 L362.40,146.68 L363.00,145.46 L363.60,145.09 L364.20,149.39 L364.80,146.37 L365.40,148.57 L366.00,148.60 L366.60,146.43 L367.20,149.03 L367.80,146.30 L368.40,149.57 L369.00,147.28 L369.60,146.73 L370.20,151.18 L370.80,149.26 L371.40,149.27 L372.00,149.76 L372.60,150.71 L373.20,149.40 L373.80,151.70 L374.40,149.70 L375.00,149.69 L375.60,152.04 L376.20,151.33 L376.80,150.63 L377.40,148.18 L378.00,150.40 L378.60,146.95 L379.20,148.46 L379.80,151.70 L380.40,151.57 L381.00,152.58 L381.60,151.94 L382.20,151.41 L382.80,150.44 L383.40,152.43 L384.00,150.06 L384.60,154.42 L385.20,152.51 L385.80,151.54 L386.40,148.07 L387.00,150.71 L387.60,153.60 L388.20,155.45 L388.80,153.45 L389.40,154.20 L390.00,154.60 L390.60,153.78 L391.20,154.76 L391.80,154.21 L392.40,156.61 L393.00,156.19 L393.60,153.31 L394.20,155.95 L394.80,155.15 L395.40,150.38 L396.00,156.57 L396.60,154.45 L397.20,157.05 L397.80,156.21 L398.40,158.00 L399.00,155.65 L399.60,157.87 L400.20,152.69 L400.80,157.77 L401.40,156.56 L402.00,158.09 L402.60,157.36 L403.20,157.98 L403.80,156.46 L404.40,156.20 L405.00,156.36 L405.60,155.40 L406.20,156.26 L406.80,154.36 L407.40,155.28 L408.00,158.32 L408.60,156.54 L409.20,157.68 L409.80,156.12 L410.40,157.51 L411.00,160.75 L411.60,160.45 L412.20,155.88 L412.80,160.87 L413.40,160.02 L414.00,156.73 L414.60,158.64 L415.20,159.79 L415.80,161.64 L416.40,157.12 L417.00,156.99 L417.60,158.15 L418.20,158.55 L418.80,159.28 L419.40,159.17 L420.00,159.09 L420.60,159.57 L421.20,157.43 L421.80,160.23 L422.40,160.74 L423.00,159.12 L423.60,157.27 L424.20,160.17 L424.80,158.67 L425.40,160.25 L426.00,160.23 L426.60,159.02 L427.20,160.69 L427.80,163.12 L428.40,162.49 L429.00,159.79 L429.60,160.88 L430.20,159.77 L430.80,159.26 L431.40,161.41 L432.00,162.79 L432.60,159.49 L433.20,158.56 L433.80,159.81 L434.40,163.50 L435.00,156.45 L435.60,159.89 L436.20,160.93 L436.80,162.76 L437.40,164.61 L438.00,160.71 L438.60,163.04 L439.20,159.57 L439.80,163.92 L440.40,165.56 L441.00,163.83 L441.60,166.36 L442.2,167.8 L270.6,167.8 Z" fill="url(#fb)" stroke="none"/>
<line x1="309.60" y1="112.90" x2="309.60" y2="168.30" stroke="#ffffff" stroke-width="1" stroke-dasharray="1.3,1.3" opacity="0.75"/>
<polyline points="270.60,161.06 271.20,161.35 271.80,161.30 272.40,160.23 273.00,161.23 273.60,161.34 274.20,160.13 274.80,159.65 275.40,160.78 276.00,159.80 276.60,159.84 277.20,160.55 277.80,159.06 278.40,159.08 279.00,159.04 279.60,158.98 280.20,158.32 280.80,157.84 281.40,157.75 282.00,158.38 282.60,157.09 283.20,156.20 283.80,156.54 284.40,155.56 285.00,155.16 285.60,154.86 286.20,153.12 286.80,153.03 287.40,152.26 288.00,151.71 288.60,151.05 289.20,149.00 289.80,147.84 290.40,146.25 291.00,145.37 291.60,142.98 292.20,139.68 292.80,141.16 293.40,140.91 294.00,137.75 294.60,137.83 295.20,135.21 295.80,133.77 296.40,134.38 297.00,136.43 297.60,132.92 298.20,134.37 298.80,132.00 299.40,129.60 300.00,130.54 300.60,129.19 301.20,125.04 301.80,127.00 302.40,126.46 303.00,128.15 303.60,128.50 304.20,125.84 304.80,124.60 305.40,125.38 306.00,125.84 306.60,124.51 307.20,124.87 307.80,125.78 308.40,127.76 309.00,126.36 309.60,123.62 310.20,126.11 310.80,126.18 311.40,122.25 312.00,125.47 312.60,125.82 313.20,126.96 313.80,122.95 314.40,126.88 315.00,124.14 315.60,122.03 316.20,126.77 316.80,120.97 317.40,127.42 318.00,125.20 318.60,124.49 319.20,126.08 319.80,122.64 320.40,125.28 321.00,121.56 321.60,124.33 322.20,121.53 322.80,125.91 323.40,119.37 324.00,125.94 324.60,125.11 325.20,127.62 325.80,125.86 326.40,124.14 327.00,127.25 327.60,126.65 328.20,127.70 328.80,128.85 329.40,131.40 330.00,129.70 330.60,132.42 331.20,128.71 331.80,129.04 332.40,129.42 333.00,131.79 333.60,132.78 334.20,130.35 334.80,133.61 335.40,131.52 336.00,132.47 336.60,134.02 337.20,134.84 337.80,133.52 338.40,133.07 339.00,136.03 339.60,134.18 340.20,136.60 340.80,136.47 341.40,134.82 342.00,138.13 342.60,138.97 343.20,137.15 343.80,138.19 344.40,138.25 345.00,138.84 345.60,140.59 346.20,135.61 346.80,139.06 347.40,142.44 348.00,142.93 348.60,141.95 349.20,142.17 349.80,141.37 350.40,141.62 351.00,142.63 351.60,141.06 352.20,141.86 352.80,142.53 353.40,143.17 354.00,144.56 354.60,144.08 355.20,141.19 355.80,146.91 356.40,146.74 357.00,146.50 357.60,146.20 358.20,146.27 358.80,146.26 359.40,146.78 360.00,147.32 360.60,146.70 361.20,146.46 361.80,145.33 362.40,146.68 363.00,145.46 363.60,145.09 364.20,149.39 364.80,146.37 365.40,148.57 366.00,148.60 366.60,146.43 367.20,149.03 367.80,146.30 368.40,149.57 369.00,147.28 369.60,146.73 370.20,151.18 370.80,149.26 371.40,149.27 372.00,149.76 372.60,150.71 373.20,149.40 373.80,151.70 374.40,149.70 375.00,149.69 375.60,152.04 376.20,151.33 376.80,150.63 377.40,148.18 378.00,150.40 378.60,146.95 379.20,148.46 379.80,151.70 380.40,151.57 381.00,152.58 381.60,151.94 382.20,151.41 382.80,150.44 383.40,152.43 384.00,150.06 384.60,154.42 385.20,152.51 385.80,151.54 386.40,148.07 387.00,150.71 387.60,153.60 388.20,155.45 388.80,153.45 389.40,154.20 390.00,154.60 390.60,153.78 391.20,154.76 391.80,154.21 392.40,156.61 393.00,156.19 393.60,153.31 394.20,155.95 394.80,155.15 395.40,150.38 396.00,156.57 396.60,154.45 397.20,157.05 397.80,156.21 398.40,158.00 399.00,155.65 399.60,157.87 400.20,152.69 400.80,157.77 401.40,156.56 402.00,158.09 402.60,157.36 403.20,157.98 403.80,156.46 404.40,156.20 405.00,156.36 405.60,155.40 406.20,156.26 406.80,154.36 407.40,155.28 408.00,158.32 408.60,156.54 409.20,157.68 409.80,156.12 410.40,157.51 411.00,160.75 411.60,160.45 412.20,155.88 412.80,160.87 413.40,160.02 414.00,156.73 414.60,158.64 415.20,159.79 415.80,161.64 416.40,157.12 417.00,156.99 417.60,158.15 418.20,158.55 418.80,159.28 419.40,159.17 420.00,159.09 420.60,159.57 421.20,157.43 421.80,160.23 422.40,160.74 423.00,159.12 423.60,157.27 424.20,160.17 424.80,158.67 425.40,160.25 426.00,160.23 426.60,159.02 427.20,160.69 427.80,163.12 428.40,162.49 429.00,159.79 429.60,160.88 430.20,159.77 430.80,159.26 431.40,161.41 432.00,162.79 432.60,159.49 433.20,158.56 433.80,159.81 434.40,163.50 435.00,156.45 435.60,159.89 436.20,160.93 436.80,162.76 437.40,164.61 438.00,160.71 438.60,163.04 439.20,159.57 439.80,163.92 440.40,165.56 441.00,163.83 441.60,166.36" fill="none" stroke="#1a6ec4" stroke-width="1.2" stroke-linejoin="round" stroke-linecap="round"/>
<line x1="383.70" y1="134.50" x2="400.30" y2="134.50" stroke="#1f74c4" stroke-width="1.3"/>
<text x="403.40" y="138.30" font-size="10.8" text-anchor="start" fill="#1a1a1a" font-weight="normal">60 min</text>
<text x="283.80" y="134.00" font-size="12" text-anchor="middle" fill="#222" font-weight="bold">ii</text>
<text x="590.50" y="7.80" font-size="10.8" text-anchor="middle" fill="#1a1a1a" font-weight="normal">Intensity (arb. units)</text>
<rect x="505.60" y="23" width="4.57" height="4.100000000000001" fill="#0a1a7b"/>
<rect x="509.87" y="23" width="4.57" height="4.100000000000001" fill="#0b2382"/>
<rect x="514.14" y="23" width="4.57" height="4.100000000000001" fill="#0d2b89"/>
<rect x="518.42" y="23" width="4.57" height="4.100000000000001" fill="#0e3490"/>
<rect x="522.69" y="23" width="4.57" height="4.100000000000001" fill="#0f3d97"/>
<rect x="526.96" y="23" width="4.57" height="4.100000000000001" fill="#11489e"/>
<rect x="531.24" y="23" width="4.57" height="4.100000000000001" fill="#1455a5"/>
<rect x="535.51" y="23" width="4.57" height="4.100000000000001" fill="#1661ac"/>
<rect x="539.78" y="23" width="4.57" height="4.100000000000001" fill="#1970b5"/>
<rect x="544.05" y="23" width="4.57" height="4.100000000000001" fill="#1c81bf"/>
<rect x="548.33" y="23" width="4.57" height="4.100000000000001" fill="#2092c9"/>
<rect x="552.60" y="23" width="4.57" height="4.100000000000001" fill="#24aad5"/>
<rect x="556.87" y="23" width="4.57" height="4.100000000000001" fill="#28c3e1"/>
<rect x="561.14" y="23" width="4.57" height="4.100000000000001" fill="#2fe4ee"/>
<rect x="565.41" y="23" width="4.57" height="4.100000000000001" fill="#30e8e3"/>
<rect x="569.69" y="23" width="4.57" height="4.100000000000001" fill="#30e8d4"/>
<rect x="573.96" y="23" width="4.57" height="4.100000000000001" fill="#30e7c6"/>
<rect x="578.23" y="23" width="4.57" height="4.100000000000001" fill="#30e5b2"/>
<rect x="582.50" y="23" width="4.57" height="4.100000000000001" fill="#30e39d"/>
<rect x="586.78" y="23" width="4.57" height="4.100000000000001" fill="#30e18a"/>
<rect x="591.05" y="23" width="4.57" height="4.100000000000001" fill="#37e07d"/>
<rect x="595.32" y="23" width="4.57" height="4.100000000000001" fill="#46e078"/>
<rect x="599.60" y="23" width="4.57" height="4.100000000000001" fill="#55e073"/>
<rect x="603.87" y="23" width="4.57" height="4.100000000000001" fill="#66e070"/>
<rect x="608.14" y="23" width="4.57" height="4.100000000000001" fill="#7ce070"/>
<rect x="612.41" y="23" width="4.57" height="4.100000000000001" fill="#93e070"/>
<rect x="616.68" y="23" width="4.57" height="4.100000000000001" fill="#a9e070"/>
<rect x="620.96" y="23" width="4.57" height="4.100000000000001" fill="#c2e272"/>
<rect x="625.23" y="23" width="4.57" height="4.100000000000001" fill="#dde575"/>
<rect x="629.50" y="23" width="4.57" height="4.100000000000001" fill="#f0e275"/>
<rect x="633.77" y="23" width="4.57" height="4.100000000000001" fill="#f0d16e"/>
<rect x="638.05" y="23" width="4.57" height="4.100000000000001" fill="#f0bf66"/>
<rect x="642.32" y="23" width="4.57" height="4.100000000000001" fill="#efae5e"/>
<rect x="646.59" y="23" width="4.57" height="4.100000000000001" fill="#ed9a53"/>
<rect x="650.87" y="23" width="4.57" height="4.100000000000001" fill="#eb8648"/>
<rect x="655.14" y="23" width="4.57" height="4.100000000000001" fill="#e9723d"/>
<rect x="659.41" y="23" width="4.57" height="4.100000000000001" fill="#e55b33"/>
<rect x="663.68" y="23" width="4.57" height="4.100000000000001" fill="#df4129"/>
<rect x="667.95" y="23" width="4.57" height="4.100000000000001" fill="#d9261e"/>
<rect x="672.23" y="23" width="4.57" height="4.100000000000001" fill="#d30c14"/>
<text x="505.80" y="20.60" font-size="10.8" text-anchor="middle" fill="#1a1a1a" font-weight="normal">0</text>
<text x="548.30" y="20.60" font-size="10.8" text-anchor="middle" fill="#1a1a1a" font-weight="normal">165</text>
<text x="591.00" y="20.60" font-size="10.8" text-anchor="middle" fill="#1a1a1a" font-weight="normal">330</text>
<text x="633.70" y="20.60" font-size="10.8" text-anchor="middle" fill="#1a1a1a" font-weight="normal">495</text>
<text x="676.30" y="20.60" font-size="10.8" text-anchor="middle" fill="#1a1a1a" font-weight="normal">660</text>
<line x1="548.30" y1="23.50" x2="548.30" y2="27.10" stroke="#222" stroke-width="0.8"/>
<line x1="591.00" y1="23.50" x2="591.00" y2="27.10" stroke="#222" stroke-width="0.8"/>
<line x1="633.70" y1="23.50" x2="633.70" y2="27.10" stroke="#222" stroke-width="0.8"/>
<clipPath id="cpc"><rect x="505.9" y="32.7" width="170.60000000000002" height="80.6"/></clipPath>
<g clip-path="url(#cpc)">
<rect x="505.9" y="32.7" width="170.60000000000002" height="80.6" fill="#020f80"/>
<path d="M507.9 79.2h1v34.1h-1zM512.9 96.1h1v17.2h-1zM514.9 50.7h1v61.5h-1zM515.9 69.7h1v42.0h-1zM517.9 76.8h1v36.5h-1zM518.9 89.2h1v24.1h-1zM519.9 80.6h1v32.7h-1zM522.9 88.2h1v25.1h-1zM523.9 100.3h1v13.0h-1zM524.9 100.6h1v12.7h-1zM526.9 58.1h1v55.2h-1zM529.9 47.9h1v33.4h-1zM530.9 42.3h1v22.1h-1zM531.9 38.2h1v45.2h-1zM535.9 63.6h1v49.7h-1zM536.9 33.9h1v48.9h-1zM538.9 100.7h1v12.6h-1zM545.9 53.9h1v59.4h-1zM546.9 75.1h1v38.2h-1zM550.9 70.5h1v20.9h-1zM552.9 33.0h1v24.2h-1zM553.9 33.0h1v61.8h-1zM554.9 82.9h1v30.4h-1zM556.9 98.7h1v14.6h-1zM558.9 69.6h1v40.1h-1zM559.9 66.5h1v45.0h-1zM560.9 38.6h1v23.3h-1zM561.9 76.8h1v25.5h-1zM563.9 84.2h1v29.1h-1zM564.9 46.0h1v49.5h-1zM567.9 81.6h1v29.2h-1zM568.9 48.9h1v63.0h-1zM571.9 46.2h1v55.2h-1zM575.9 79.5h1v25.6h-1zM577.9 73.8h1v31.6h-1zM578.9 49.7h1v58.0h-1zM579.9 70.3h1v43.0h-1zM581.9 48.3h1v63.5h-1zM582.9 81.5h1v31.8h-1zM585.9 79.5h1v33.8h-1zM586.9 48.7h1v29.4h-1zM592.9 83.6h1v29.7h-1zM593.9 39.0h1v56.6h-1zM594.9 43.4h1v50.8h-1zM597.9 41.1h1v31.9h-1zM600.9 70.1h1v43.2h-1zM602.9 60.0h1v24.2h-1zM603.9 79.9h1v33.4h-1zM604.9 66.4h1v39.1h-1zM607.9 98.2h1v15.1h-1zM610.9 77.7h1v35.6h-1zM611.9 102.0h1v11.3h-1zM613.9 76.4h1v36.9h-1zM614.9 85.7h1v24.1h-1zM616.9 60.5h1v25.1h-1zM617.9 36.3h1v77.0h-1zM618.9 42.2h1v66.1h-1zM619.9 44.3h1v24.2h-1zM622.9 86.7h1v26.6h-1zM623.9 41.4h1v40.3h-1zM624.9 41.0h1v72.3h-1zM625.9 95.7h1v17.6h-1zM627.9 75.3h1v38.0h-1zM628.9 83.3h1v30.0h-1zM630.9 100.4h1v12.9h-1zM631.9 56.6h1v56.7h-1zM632.9 65.8h1v35.3h-1zM634.9 55.4h1v57.9h-1zM635.9 56.8h1v56.5h-1zM636.9 90.7h1v22.6h-1zM639.9 75.5h1v37.8h-1zM642.9 90.5h1v22.8h-1zM643.9 59.2h1v42.0h-1zM644.9 40.5h1v42.7h-1zM645.9 61.7h1v51.6h-1zM649.9 89.5h1v23.8h-1zM654.9 59.6h1v53.7h-1zM656.9 56.5h1v52.3h-1zM658.9 92.6h1v20.7h-1zM660.9 85.2h1v28.1h-1zM663.9 71.4h1v41.9h-1zM664.9 88.0h1v25.3h-1zM667.9 50.3h1v40.4h-1zM668.9 34.5h1v39.6h-1zM670.9 37.5h1v24.2h-1zM672.9 61.1h1v47.7h-1z" fill="#1a40b0" opacity="0.25"/>
<ellipse cx="602" cy="50" rx="30" ry="26" fill="#1a4cc0" filter="url(#bl6)" opacity="0.6"/>
<path d="M535.06,26.00 L535.06,28.78 L535.03,32.76 L535.04,37.32 L535.17,41.81 L535.48,45.60 L535.97,48.61 L536.58,51.28 L537.34,53.70 L538.27,55.97 L539.40,58.20 L540.73,60.41 L542.24,62.52 L543.92,64.52 L545.78,66.35 L547.80,68.00 L550.05,69.48 L552.54,70.81 L555.16,71.96 L557.81,72.91 L560.40,73.60 L562.94,74.04 L565.51,74.24 L568.06,74.22 L570.57,74.00 L573.00,73.60 L575.38,73.01 L577.74,72.23 L580.02,71.25 L582.19,70.07 L584.20,68.70 L586.09,67.12 L587.89,65.32 L589.55,63.34 L590.99,61.19 L592.18,58.90 L593.07,56.49 L593.69,53.96 L594.11,51.25 L594.38,48.34 L594.56,45.18 L594.58,41.39 L594.42,36.98 L594.15,32.55 L593.89,28.70 L593.72,26.00 Z" fill="#1a6ae0" filter="url(#bl4)" opacity="0.8"/>
<path d="M540.58,28.50 L540.59,30.78 L540.56,34.06 L540.57,37.80 L540.67,41.49 L540.93,44.60 L541.33,47.07 L541.83,49.26 L542.46,51.25 L543.22,53.12 L544.15,54.95 L545.24,56.76 L546.48,58.50 L547.86,60.14 L549.39,61.65 L551.05,63.00 L552.90,64.21 L554.94,65.31 L557.09,66.26 L559.27,67.03 L561.40,67.60 L563.49,67.96 L565.60,68.12 L567.69,68.11 L569.75,67.93 L571.75,67.60 L573.71,67.12 L575.64,66.47 L577.52,65.67 L579.30,64.70 L580.95,63.58 L582.50,62.27 L583.98,60.80 L585.34,59.17 L586.53,57.41 L587.51,55.52 L588.23,53.55 L588.75,51.46 L589.09,49.24 L589.31,46.85 L589.46,44.26 L589.48,41.14 L589.34,37.52 L589.12,33.88 L588.91,30.71 L588.77,28.50 Z" fill="#2090e8" filter="url(#bl3)" opacity="0.9"/>
<ellipse cx="592" cy="52" rx="10" ry="16" fill="#2a8ae8" filter="url(#bl4)" opacity="0.5"/>
<path d="M543.90,30.00 L543.90,31.98 L543.88,34.83 L543.89,38.09 L543.98,41.30 L544.20,44.00 L544.55,46.15 L544.99,48.06 L545.53,49.78 L546.20,51.41 L547.00,53.00 L547.95,54.58 L549.03,56.09 L550.23,57.51 L551.56,58.82 L553.00,60.00 L554.61,61.06 L556.38,62.01 L558.26,62.83 L560.15,63.50 L562.00,64.00 L563.82,64.31 L565.65,64.46 L567.47,64.44 L569.26,64.29 L571.00,64.00 L572.70,63.58 L574.38,63.02 L576.01,62.32 L577.56,61.48 L579.00,60.50 L580.35,59.37 L581.64,58.09 L582.82,56.67 L583.85,55.14 L584.70,53.50 L585.33,51.78 L585.78,49.97 L586.08,48.04 L586.27,45.95 L586.40,43.70 L586.42,40.99 L586.30,37.84 L586.11,34.68 L585.92,31.93 L585.80,30.00 Z" fill="#2ee0f0" filter="url(#bl1)"/>
<path d="M549.00,30.00 L548.81,31.38 L548.50,33.35 L548.20,35.63 L547.99,37.94 L548.00,40.00 L548.22,41.84 L548.58,43.65 L549.08,45.39 L549.72,47.02 L550.50,48.50 L551.44,49.85 L552.53,51.08 L553.75,52.20 L555.08,53.17 L556.50,54.00 L558.06,54.70 L559.77,55.29 L561.55,55.73 L563.32,55.98 L565.00,56.00 L566.61,55.78 L568.22,55.35 L569.76,54.73 L571.21,53.94 L572.50,53.00 L573.66,52.00 L574.71,50.92 L575.63,49.64 L576.40,48.04 L577.00,46.00 L577.36,43.12 L577.51,39.48 L577.53,35.68 L577.50,32.32 L577.50,30.00 Z" fill="#78eca0" filter="url(#bl2)"/>
<ellipse cx="561" cy="38.5" rx="12" ry="10" fill="#d8ec68" filter="url(#bl2)"/>
<ellipse cx="560.7" cy="38.8" rx="8.5" ry="7" fill="#f4b048" filter="url(#bl1)"/>
<ellipse cx="560.6" cy="39" rx="5.6" ry="4.6" fill="#e84020" filter="url(#bl1)"/>
<ellipse cx="560.3" cy="39.3" rx="3.2" ry="2.6" fill="#c81010" filter="url(#bl1)"/>
</g>
<line x1="560.00" y1="41.50" x2="560.00" y2="168.30" stroke="#ffffff" stroke-width="1" stroke-dasharray="1.3,1.3" opacity="0.85"/>
<line x1="576.00" y1="82.40" x2="576.00" y2="168.30" stroke="#ffffff" stroke-width="1" stroke-dasharray="1.3,1.3" opacity="0.85"/>
<text x="517.30" y="53.50" font-size="12" text-anchor="middle" fill="#fff" font-weight="bold">i</text>
<text x="555.60" y="85.50" font-size="10.8" text-anchor="middle" fill="#fff" font-weight="normal" transform="rotate(-90 555.6 85.5)">460 nm</text>
<text x="590.00" y="85.50" font-size="10.8" text-anchor="middle" fill="#fff" font-weight="normal" transform="rotate(-90 590 85.5)">515 nm</text>
<text x="605.40" y="85.00" font-size="10.8" text-anchor="start" fill="#e3a533" font-weight="normal">Ex. = 365 nm</text>
<text x="605.40" y="102.80" font-size="10.8" text-anchor="start" fill="#e3a533" font-weight="normal"><tspan font-style="italic">β</tspan><tspan font-size="7" dy="2" font-style="italic">h</tspan><tspan dy="-2"> = 50 K min</tspan><tspan font-size="6.6" dy="-3.7">-1</tspan></text>
<line x1="502.90" y1="113.30" x2="505.90" y2="113.30" stroke="#3a3a3a" stroke-width="0.9"/>
<text x="498.60" y="117.70" font-size="10.8" text-anchor="end" fill="#1a1a1a" font-weight="normal">100</text>
<line x1="502.90" y1="84.40" x2="505.90" y2="84.40" stroke="#3a3a3a" stroke-width="0.9"/>
<text x="498.60" y="88.80" font-size="10.8" text-anchor="end" fill="#1a1a1a" font-weight="normal">200</text>
<line x1="502.90" y1="55.50" x2="505.90" y2="55.50" stroke="#3a3a3a" stroke-width="0.9"/>
<text x="498.60" y="59.90" font-size="10.8" text-anchor="end" fill="#1a1a1a" font-weight="normal">300</text>
<line x1="504.10" y1="98.85" x2="505.90" y2="98.85" stroke="#3a3a3a" stroke-width="0.8"/>
<line x1="504.10" y1="69.95" x2="505.90" y2="69.95" stroke="#3a3a3a" stroke-width="0.8"/>
<line x1="504.10" y1="41.05" x2="505.90" y2="41.05" stroke="#3a3a3a" stroke-width="0.8"/>
<text x="477.70" y="71.30" font-size="10.8" text-anchor="middle" fill="#1a1a1a" font-weight="normal" transform="rotate(-90 477.7 71.3)">Temperature (K)</text>
<line x1="505.90" y1="113.30" x2="505.90" y2="168.30" stroke="#3a3a3a" stroke-width="1"/>
<line x1="505.40" y1="168.30" x2="677.00" y2="168.30" stroke="#3a3a3a" stroke-width="1"/>
<line x1="676.50" y1="113.30" x2="676.50" y2="168.30" stroke="#7a7a7a" stroke-width="1"/>
<line x1="505.90" y1="168.30" x2="505.90" y2="170.80" stroke="#3a3a3a" stroke-width="0.9"/>
<text x="505.90" y="181.00" font-size="10.8" text-anchor="middle" fill="#1a1a1a" font-weight="normal">300</text>
<line x1="540.02" y1="168.30" x2="540.02" y2="170.80" stroke="#3a3a3a" stroke-width="0.9"/>
<text x="540.02" y="181.00" font-size="10.8" text-anchor="middle" fill="#1a1a1a" font-weight="normal">400</text>
<line x1="574.14" y1="168.30" x2="574.14" y2="170.80" stroke="#3a3a3a" stroke-width="0.9"/>
<text x="574.14" y="181.00" font-size="10.8" text-anchor="middle" fill="#1a1a1a" font-weight="normal">500</text>
<line x1="608.26" y1="168.30" x2="608.26" y2="170.80" stroke="#3a3a3a" stroke-width="0.9"/>
<text x="608.26" y="181.00" font-size="10.8" text-anchor="middle" fill="#1a1a1a" font-weight="normal">600</text>
<line x1="642.38" y1="168.30" x2="642.38" y2="170.80" stroke="#3a3a3a" stroke-width="0.9"/>
<text x="642.38" y="181.00" font-size="10.8" text-anchor="middle" fill="#1a1a1a" font-weight="normal">700</text>
<line x1="676.50" y1="168.30" x2="676.50" y2="170.80" stroke="#3a3a3a" stroke-width="0.9"/>
<text x="676.50" y="181.00" font-size="10.8" text-anchor="middle" fill="#1a1a1a" font-weight="normal">800</text>
<line x1="522.96" y1="168.30" x2="522.96" y2="169.90" stroke="#3a3a3a" stroke-width="0.8"/>
<line x1="557.08" y1="168.30" x2="557.08" y2="169.90" stroke="#3a3a3a" stroke-width="0.8"/>
<line x1="591.20" y1="168.30" x2="591.20" y2="169.90" stroke="#3a3a3a" stroke-width="0.8"/>
<line x1="625.32" y1="168.30" x2="625.32" y2="169.90" stroke="#3a3a3a" stroke-width="0.8"/>
<line x1="659.44" y1="168.30" x2="659.44" y2="169.90" stroke="#3a3a3a" stroke-width="0.8"/>
<text x="591.00" y="194.50" font-size="10.8" text-anchor="middle" fill="#1a1a1a" font-weight="normal">Wavelength (nm)</text>
<path d="M505.90,161.96 L506.40,165.62 L506.90,165.60 L507.40,161.04 L507.90,162.10 L508.40,162.51 L508.90,160.64 L509.40,162.64 L509.90,162.20 L510.40,161.70 L510.90,168.16 L511.40,161.78 L511.90,159.94 L512.40,163.32 L512.90,164.32 L513.40,159.60 L513.90,162.66 L514.40,159.17 L514.90,164.87 L515.40,162.62 L515.90,163.91 L516.40,162.10 L516.90,162.50 L517.40,161.34 L517.90,162.05 L518.40,161.61 L518.90,161.53 L519.40,161.19 L519.90,162.75 L520.40,158.47 L520.90,162.59 L521.40,162.88 L521.90,166.48 L522.40,159.51 L522.90,161.37 L523.40,161.99 L523.90,159.97 L524.40,163.61 L524.90,160.24 L525.40,158.53 L525.90,160.61 L526.40,164.98 L526.90,162.01 L527.40,164.66 L527.90,163.02 L528.40,164.74 L528.90,161.44 L529.40,159.10 L529.90,162.72 L530.40,161.81 L530.90,162.74 L531.40,162.46 L531.90,163.44 L532.40,163.75 L532.90,160.18 L533.40,161.06 L533.90,159.41 L534.40,159.89 L534.90,162.70 L535.40,162.14 L535.90,162.31 L536.40,163.38 L536.90,156.41 L537.40,161.26 L537.90,162.38 L538.40,161.74 L538.90,158.97 L539.40,161.30 L539.90,161.15 L540.40,157.83 L540.90,163.30 L541.40,159.30 L541.90,155.79 L542.40,155.16 L542.90,157.22 L543.40,159.93 L543.90,158.10 L544.40,156.22 L544.90,156.79 L545.40,152.00 L545.90,158.44 L546.40,149.33 L546.90,155.71 L547.40,150.59 L547.90,150.44 L548.40,152.69 L548.90,145.83 L549.40,150.39 L549.90,149.82 L550.40,153.13 L550.90,150.07 L551.40,152.42 L551.90,152.20 L552.40,146.89 L552.90,148.91 L553.40,142.73 L553.90,148.71 L554.40,145.61 L554.90,145.67 L555.40,141.17 L555.90,141.50 L556.40,142.62 L556.90,145.75 L557.40,147.98 L557.90,147.87 L558.40,145.78 L558.90,138.92 L559.40,142.21 L559.90,136.68 L560.40,139.66 L560.90,136.68 L561.40,133.08 L561.90,136.55 L562.40,139.63 L562.90,146.89 L563.40,132.30 L563.90,138.21 L564.40,137.45 L564.90,135.14 L565.40,134.15 L565.90,131.45 L566.40,132.25 L566.90,131.68 L567.40,135.02 L567.90,131.59 L568.40,129.88 L568.90,131.26 L569.40,130.75 L569.90,130.35 L570.40,130.27 L570.90,128.26 L571.40,126.57 L571.90,136.24 L572.40,127.47 L572.90,127.84 L573.40,131.21 L573.90,129.79 L574.40,123.51 L574.90,127.11 L575.40,125.58 L575.90,126.39 L576.40,126.40 L576.90,128.73 L577.40,133.44 L577.90,129.87 L578.40,130.82 L578.90,124.47 L579.40,126.69 L579.90,130.77 L580.40,128.40 L580.90,126.77 L581.40,125.01 L581.90,129.87 L582.40,129.13 L582.90,126.06 L583.40,125.58 L583.90,136.76 L584.40,124.21 L584.90,129.46 L585.40,123.47 L585.90,122.52 L586.40,133.29 L586.90,134.02 L587.40,132.08 L587.90,128.87 L588.40,127.90 L588.90,128.71 L589.40,137.29 L589.90,131.39 L590.40,130.94 L590.90,131.19 L591.40,128.30 L591.90,134.00 L592.40,131.83 L592.90,134.37 L593.40,134.97 L593.90,135.96 L594.40,133.93 L594.90,139.55 L595.40,134.55 L595.90,134.68 L596.40,134.85 L596.90,142.78 L597.40,141.66 L597.90,138.29 L598.40,136.61 L598.90,145.56 L599.40,137.71 L599.90,136.85 L600.40,140.73 L600.90,139.76 L601.40,142.97 L601.90,139.13 L602.40,139.89 L602.90,148.34 L603.40,139.27 L603.90,138.84 L604.40,140.69 L604.90,143.58 L605.40,143.77 L605.90,146.40 L606.40,141.20 L606.90,140.43 L607.40,140.35 L607.90,140.73 L608.40,146.31 L608.90,138.92 L609.40,151.29 L609.90,146.56 L610.40,147.33 L610.90,141.73 L611.40,138.61 L611.90,143.01 L612.40,144.65 L612.90,141.91 L613.40,148.50 L613.90,137.53 L614.40,144.37 L614.90,150.86 L615.40,149.65 L615.90,143.45 L616.40,145.80 L616.90,145.84 L617.40,145.32 L617.90,150.01 L618.40,147.46 L618.90,143.06 L619.40,140.94 L619.90,144.87 L620.40,144.21 L620.90,143.34 L621.40,148.14 L621.90,149.50 L622.40,149.41 L622.90,144.25 L623.40,145.92 L623.90,148.58 L624.40,147.79 L624.90,147.86 L625.40,145.77 L625.90,150.60 L626.40,149.74 L626.90,148.23 L627.40,146.11 L627.90,144.98 L628.40,149.16 L628.90,146.34 L629.40,149.45 L629.90,146.21 L630.40,149.51 L630.90,148.51 L631.40,150.12 L631.90,152.25 L632.40,141.62 L632.90,152.57 L633.40,152.51 L633.90,151.90 L634.40,150.99 L634.90,148.58 L635.40,145.71 L635.90,148.40 L636.40,144.85 L636.90,148.18 L637.40,150.35 L637.90,148.18 L638.40,151.30 L638.90,146.04 L639.40,147.68 L639.90,141.48 L640.40,146.57 L640.90,148.11 L641.40,150.18 L641.90,151.00 L642.40,148.13 L642.90,148.92 L643.40,151.33 L643.90,149.54 L644.40,148.12 L644.90,151.45 L645.40,149.54 L645.90,150.90 L646.40,148.94 L646.90,151.12 L647.40,149.62 L647.90,153.19 L648.40,152.16 L648.90,151.24 L649.40,151.23 L649.90,154.69 L650.40,149.95 L650.90,149.51 L651.40,157.67 L651.90,157.44 L652.40,150.82 L652.90,157.61 L653.40,153.07 L653.90,155.14 L654.40,157.40 L654.90,152.03 L655.40,156.93 L655.90,154.14 L656.40,158.13 L656.90,154.12 L657.40,153.66 L657.90,155.92 L658.40,151.19 L658.90,155.70 L659.40,162.18 L659.90,155.22 L660.40,158.81 L660.90,151.68 L661.40,156.83 L661.90,154.95 L662.40,158.44 L662.90,156.50 L663.40,154.92 L663.90,154.56 L664.40,153.58 L664.90,157.03 L665.40,160.98 L665.90,153.32 L666.40,156.93 L666.90,159.40 L667.40,160.36 L667.90,155.29 L668.40,158.34 L668.90,156.89 L669.40,152.68 L669.90,155.91 L670.40,159.89 L670.90,159.63 L671.40,160.63 L671.90,160.83 L672.40,157.49 L672.90,158.04 L673.40,160.67 L673.90,164.47 L674.40,164.35 L674.90,156.75 L675.40,159.38 L675.90,163.47 L676.40,161.15 L676.5,167.8 L505.9,167.8 Z" fill="url(#fc)"/>
<path d="M505.90,166.80 L507.48,166.78 L509.71,166.76 L512.32,166.72 L515.08,166.69 L517.72,166.65 L520.00,166.60 L521.93,166.55 L523.71,166.51 L525.38,166.46 L526.97,166.40 L528.50,166.32 L530.00,166.20 L531.47,166.09 L532.89,166.00 L534.25,165.89 L535.56,165.71 L536.81,165.43 L538.00,165.00 L539.13,164.44 L540.19,163.80 L541.19,163.05 L542.15,162.18 L543.08,161.17 L544.00,160.00 L544.90,158.65 L545.78,157.11 L546.62,155.44 L547.44,153.67 L548.24,151.84 L549.00,150.00 L549.72,148.10 L550.41,146.11 L551.06,144.06 L551.70,142.00 L552.34,139.97 L553.00,138.00 L553.68,136.02 L554.37,133.98 L555.06,131.97 L555.74,130.07 L556.39,128.39 L557.00,127.00 L557.56,125.92 L558.07,125.09 L558.56,124.47 L559.04,124.02 L559.51,123.71 L560.00,123.50 L560.48,123.39 L560.93,123.39 L561.38,123.53 L561.85,123.83 L562.38,124.32 L563.00,125.00 L563.68,125.88 L564.39,126.93 L565.16,128.17 L566.00,129.59 L566.94,131.20 L568.00,133.00 L569.23,135.16 L570.61,137.71 L572.09,140.45 L573.61,143.18 L575.10,145.69 L576.50,147.80 L577.80,149.47 L579.06,150.87 L580.29,152.06 L581.51,153.10 L582.74,154.06 L584.00,155.00 L585.23,155.89 L586.41,156.67 L587.60,157.37 L588.87,158.02 L590.28,158.65 L591.90,159.30 L593.76,159.97 L595.81,160.64 L598.01,161.29 L600.30,161.91 L602.65,162.49 L605.00,163.00 L607.27,163.44 L609.49,163.81 L611.76,164.14 L614.19,164.44 L616.90,164.72 L620.00,165.00 L623.51,165.28 L627.35,165.54 L631.47,165.79 L635.81,166.01 L640.34,166.22 L645.00,166.40 L650.24,166.55 L656.19,166.68 L662.31,166.79 L668.09,166.87 L673.00,166.94 L676.50,167.00 L676.5,167.8 L505.9,167.8 Z" fill="url(#fc)"/>
<polyline points="505.90,161.96 506.40,165.62 506.90,165.60 507.40,161.04 507.90,162.10 508.40,162.51 508.90,160.64 509.40,162.64 509.90,162.20 510.40,161.70 510.90,168.16 511.40,161.78 511.90,159.94 512.40,163.32 512.90,164.32 513.40,159.60 513.90,162.66 514.40,159.17 514.90,164.87 515.40,162.62 515.90,163.91 516.40,162.10 516.90,162.50 517.40,161.34 517.90,162.05 518.40,161.61 518.90,161.53 519.40,161.19 519.90,162.75 520.40,158.47 520.90,162.59 521.40,162.88 521.90,166.48 522.40,159.51 522.90,161.37 523.40,161.99 523.90,159.97 524.40,163.61 524.90,160.24 525.40,158.53 525.90,160.61 526.40,164.98 526.90,162.01 527.40,164.66 527.90,163.02 528.40,164.74 528.90,161.44 529.40,159.10 529.90,162.72 530.40,161.81 530.90,162.74 531.40,162.46 531.90,163.44 532.40,163.75 532.90,160.18 533.40,161.06 533.90,159.41 534.40,159.89 534.90,162.70 535.40,162.14 535.90,162.31 536.40,163.38 536.90,156.41 537.40,161.26 537.90,162.38 538.40,161.74 538.90,158.97 539.40,161.30 539.90,161.15 540.40,157.83 540.90,163.30 541.40,159.30 541.90,155.79 542.40,155.16 542.90,157.22 543.40,159.93 543.90,158.10 544.40,156.22 544.90,156.79 545.40,152.00 545.90,158.44 546.40,149.33 546.90,155.71 547.40,150.59 547.90,150.44 548.40,152.69 548.90,145.83 549.40,150.39 549.90,149.82 550.40,153.13 550.90,150.07 551.40,152.42 551.90,152.20 552.40,146.89 552.90,148.91 553.40,142.73 553.90,148.71 554.40,145.61 554.90,145.67 555.40,141.17 555.90,141.50 556.40,142.62 556.90,145.75 557.40,147.98 557.90,147.87 558.40,145.78 558.90,138.92 559.40,142.21 559.90,136.68 560.40,139.66 560.90,136.68 561.40,133.08 561.90,136.55 562.40,139.63 562.90,146.89 563.40,132.30 563.90,138.21 564.40,137.45 564.90,135.14 565.40,134.15 565.90,131.45 566.40,132.25 566.90,131.68 567.40,135.02 567.90,131.59 568.40,129.88 568.90,131.26 569.40,130.75 569.90,130.35 570.40,130.27 570.90,128.26 571.40,126.57 571.90,136.24 572.40,127.47 572.90,127.84 573.40,131.21 573.90,129.79 574.40,123.51 574.90,127.11 575.40,125.58 575.90,126.39 576.40,126.40 576.90,128.73 577.40,133.44 577.90,129.87 578.40,130.82 578.90,124.47 579.40,126.69 579.90,130.77 580.40,128.40 580.90,126.77 581.40,125.01 581.90,129.87 582.40,129.13 582.90,126.06 583.40,125.58 583.90,136.76 584.40,124.21 584.90,129.46 585.40,123.47 585.90,122.52 586.40,133.29 586.90,134.02 587.40,132.08 587.90,128.87 588.40,127.90 588.90,128.71 589.40,137.29 589.90,131.39 590.40,130.94 590.90,131.19 591.40,128.30 591.90,134.00 592.40,131.83 592.90,134.37 593.40,134.97 593.90,135.96 594.40,133.93 594.90,139.55 595.40,134.55 595.90,134.68 596.40,134.85 596.90,142.78 597.40,141.66 597.90,138.29 598.40,136.61 598.90,145.56 599.40,137.71 599.90,136.85 600.40,140.73 600.90,139.76 601.40,142.97 601.90,139.13 602.40,139.89 602.90,148.34 603.40,139.27 603.90,138.84 604.40,140.69 604.90,143.58 605.40,143.77 605.90,146.40 606.40,141.20 606.90,140.43 607.40,140.35 607.90,140.73 608.40,146.31 608.90,138.92 609.40,151.29 609.90,146.56 610.40,147.33 610.90,141.73 611.40,138.61 611.90,143.01 612.40,144.65 612.90,141.91 613.40,148.50 613.90,137.53 614.40,144.37 614.90,150.86 615.40,149.65 615.90,143.45 616.40,145.80 616.90,145.84 617.40,145.32 617.90,150.01 618.40,147.46 618.90,143.06 619.40,140.94 619.90,144.87 620.40,144.21 620.90,143.34 621.40,148.14 621.90,149.50 622.40,149.41 622.90,144.25 623.40,145.92 623.90,148.58 624.40,147.79 624.90,147.86 625.40,145.77 625.90,150.60 626.40,149.74 626.90,148.23 627.40,146.11 627.90,144.98 628.40,149.16 628.90,146.34 629.40,149.45 629.90,146.21 630.40,149.51 630.90,148.51 631.40,150.12 631.90,152.25 632.40,141.62 632.90,152.57 633.40,152.51 633.90,151.90 634.40,150.99 634.90,148.58 635.40,145.71 635.90,148.40 636.40,144.85 636.90,148.18 637.40,150.35 637.90,148.18 638.40,151.30 638.90,146.04 639.40,147.68 639.90,141.48 640.40,146.57 640.90,148.11 641.40,150.18 641.90,151.00 642.40,148.13 642.90,148.92 643.40,151.33 643.90,149.54 644.40,148.12 644.90,151.45 645.40,149.54 645.90,150.90 646.40,148.94 646.90,151.12 647.40,149.62 647.90,153.19 648.40,152.16 648.90,151.24 649.40,151.23 649.90,154.69 650.40,149.95 650.90,149.51 651.40,157.67 651.90,157.44 652.40,150.82 652.90,157.61 653.40,153.07 653.90,155.14 654.40,157.40 654.90,152.03 655.40,156.93 655.90,154.14 656.40,158.13 656.90,154.12 657.40,153.66 657.90,155.92 658.40,151.19 658.90,155.70 659.40,162.18 659.90,155.22 660.40,158.81 660.90,151.68 661.40,156.83 661.90,154.95 662.40,158.44 662.90,156.50 663.40,154.92 663.90,154.56 664.40,153.58 664.90,157.03 665.40,160.98 665.90,153.32 666.40,156.93 666.90,159.40 667.40,160.36 667.90,155.29 668.40,158.34 668.90,156.89 669.40,152.68 669.90,155.91 670.40,159.89 670.90,159.63 671.40,160.63 671.90,160.83 672.40,157.49 672.90,158.04 673.40,160.67 673.90,164.47 674.40,164.35 674.90,156.75 675.40,159.38 675.90,163.47 676.40,161.15" fill="none" stroke="#3ea8e8" stroke-width="0.9" stroke-linejoin="round" stroke-linecap="round"/>
<line x1="560.00" y1="113.30" x2="560.00" y2="168.30" stroke="#ffffff" stroke-width="1" stroke-dasharray="1.3,1.3" opacity="0.7"/>
<line x1="576.00" y1="113.30" x2="576.00" y2="168.30" stroke="#ffffff" stroke-width="1" stroke-dasharray="1.3,1.3" opacity="0.7"/>
<polyline points="505.90,166.80 507.48,166.78 509.71,166.76 512.32,166.72 515.08,166.69 517.72,166.65 520.00,166.60 521.93,166.55 523.71,166.51 525.38,166.46 526.97,166.40 528.50,166.32 530.00,166.20 531.47,166.09 532.89,166.00 534.25,165.89 535.56,165.71 536.81,165.43 538.00,165.00 539.13,164.44 540.19,163.80 541.19,163.05 542.15,162.18 543.08,161.17 544.00,160.00 544.90,158.65 545.78,157.11 546.62,155.44 547.44,153.67 548.24,151.84 549.00,150.00 549.72,148.10 550.41,146.11 551.06,144.06 551.70,142.00 552.34,139.97 553.00,138.00 553.68,136.02 554.37,133.98 555.06,131.97 555.74,130.07 556.39,128.39 557.00,127.00 557.56,125.92 558.07,125.09 558.56,124.47 559.04,124.02 559.51,123.71 560.00,123.50 560.48,123.39 560.93,123.39 561.38,123.53 561.85,123.83 562.38,124.32 563.00,125.00 563.68,125.88 564.39,126.93 565.16,128.17 566.00,129.59 566.94,131.20 568.00,133.00 569.23,135.16 570.61,137.71 572.09,140.45 573.61,143.18 575.10,145.69 576.50,147.80 577.80,149.47 579.06,150.87 580.29,152.06 581.51,153.10 582.74,154.06 584.00,155.00 585.23,155.89 586.41,156.67 587.60,157.37 588.87,158.02 590.28,158.65 591.90,159.30 593.76,159.97 595.81,160.64 598.01,161.29 600.30,161.91 602.65,162.49 605.00,163.00 607.27,163.44 609.49,163.81 611.76,164.14 614.19,164.44 616.90,164.72 620.00,165.00 623.51,165.28 627.35,165.54 631.47,165.79 635.81,166.01 640.34,166.22 645.00,166.40 650.24,166.55 656.19,166.68 662.31,166.79 668.09,166.87 673.00,166.94 676.50,167.00" fill="none" stroke="#1c6cbc" stroke-width="1.2" stroke-linejoin="round" stroke-linecap="round"/>
<line x1="623.00" y1="121.70" x2="639.00" y2="121.70" stroke="#5ab8ee" stroke-width="1.4"/>
<text x="643.00" y="125.50" font-size="10.8" text-anchor="start" fill="#1a1a1a" font-weight="normal">200 K</text>
<line x1="623.00" y1="136.80" x2="639.00" y2="136.80" stroke="#1c6cbc" stroke-width="1.4"/>
<text x="643.00" y="140.60" font-size="10.8" text-anchor="start" fill="#1a1a1a" font-weight="normal">350 K</text>
<text x="518.50" y="134.00" font-size="12" text-anchor="middle" fill="#222" font-weight="bold">ii</text>
<line x1="34.60" y1="239.80" x2="205.60" y2="239.80" stroke="#cccccc" stroke-width="1.3" stroke-dasharray="3,2.5"/>
<line x1="34.60" y1="309.80" x2="205.60" y2="309.80" stroke="#cccccc" stroke-width="1.3" stroke-dasharray="3,2.5"/>
<polyline points="34.60,236.63 35.69,237.01 37.16,237.28 38.92,237.85 40.87,239.07 42.93,239.81 45.00,240.36 47.15,241.14 49.47,242.56 51.89,243.60 54.35,244.05 56.78,245.06 59.10,245.55 61.33,245.57 63.51,245.34 65.67,245.35 67.80,245.27 69.90,244.89 72.00,244.51 74.09,243.91 76.17,243.60 78.23,243.24 80.26,242.87 82.26,242.37 84.20,242.28 86.10,241.26 87.97,241.38 89.80,240.35 91.59,240.27 93.32,239.33 95.00,239.06 96.64,238.41 98.24,237.66 99.80,237.68 101.29,237.18 102.69,236.31 104.00,236.19 105.17,235.55 106.22,235.51 107.19,234.47 108.11,234.31 109.03,233.78 110.00,233.59 111.02,233.16 112.07,232.61 113.12,231.78 114.15,231.05 115.12,230.75 116.00,229.72 116.81,229.33 117.56,229.20 118.26,228.52 118.90,228.49 119.48,227.50 120.00,227.47 120.44,227.05 120.80,226.67 121.10,226.56 121.37,226.47 121.62,226.71 121.90,226.95 122.19,227.37 122.46,227.70 122.73,228.61 122.99,229.21 123.24,230.39 123.50,230.77 123.75,232.06 123.99,233.22 124.22,234.41 124.47,236.14 124.72,237.19 125.00,239.26 125.30,240.68 125.63,242.63 125.97,244.89 126.31,246.97 126.66,248.86 127.00,250.71 127.34,253.29 127.68,254.91 128.02,256.73 128.36,259.00 128.68,260.61 129.00,261.88 129.29,263.03 129.57,264.33 129.83,264.73 130.10,265.35 130.39,266.11 130.70,265.90 131.04,265.95 131.40,265.60 131.77,265.58 132.16,265.06 132.57,264.24 133.00,263.43 133.45,262.35 133.91,261.55 134.39,260.00 134.90,258.88 135.43,257.19 136.00,256.16 136.61,254.44 137.28,253.32 137.97,252.60 138.67,251.22 139.35,250.11 140.00,249.00 140.61,248.12 141.20,247.16 141.78,246.46 142.35,246.18 142.92,245.65 143.50,244.83 144.04,244.67 144.52,243.98 145.00,244.04 145.54,243.47 146.19,243.40 147.00,242.87 148.06,242.50 149.35,241.55 150.75,241.11 152.15,240.55 153.44,239.68 154.50,239.47 155.28,239.60 155.85,239.54 156.31,239.73 156.75,240.08 157.28,240.23 158.00,240.31 158.91,240.85 159.94,241.61 161.06,241.98 162.23,242.67 163.42,242.94 164.60,243.46 165.78,244.24 167.00,244.53 168.24,244.78 169.49,244.72 170.75,245.35 172.00,245.17 173.26,245.97 174.53,246.12 175.80,246.02 177.07,245.72 178.34,246.10 179.60,245.57 180.84,245.92 182.07,245.54 183.29,244.99 184.52,245.35 185.75,244.76 187.00,244.73 188.29,244.28 189.63,243.76 190.98,243.55 192.30,242.63 193.55,242.68 194.70,241.89 195.72,241.32 196.63,241.22 197.48,240.73 198.30,240.42 199.13,240.47 200.00,239.73 200.98,239.28 202.05,238.82 203.13,238.22 204.14,238.11 204.99,237.62 205.60,237.26" fill="none" stroke="#2c7fd8" stroke-width="1.2" stroke-linejoin="round" stroke-linecap="round"/>
<polyline points="34.60,237.44 35.69,237.30 37.16,237.87 38.92,237.90 40.87,238.80 42.93,239.20 45.00,239.66 47.15,239.93 49.47,240.58 51.89,241.95 54.35,242.44 56.78,243.09 59.10,243.65 61.33,243.30 63.51,243.65 65.67,243.32 67.80,243.29 69.90,242.76 72.00,242.29 74.09,242.51 76.17,241.67 78.23,241.58 80.26,241.20 82.26,240.35 84.20,240.24 86.13,239.59 88.05,239.02 89.94,238.55 91.75,238.62 93.45,237.79 95.00,237.51 96.39,237.19 97.66,236.59 98.81,236.86 99.87,236.63 100.86,236.46 101.80,235.80 102.66,235.36 103.43,235.11 104.12,235.01 104.76,234.55 105.38,233.93 106.00,233.52 106.60,232.71 107.15,232.67 107.68,231.73 108.20,231.09 108.74,230.57 109.30,229.39 109.90,228.93 110.53,227.77 111.17,227.15 111.80,225.68 112.42,224.82 113.00,224.09 113.55,222.97 114.09,221.80 114.60,220.84 115.09,219.54 115.56,218.74 116.00,217.65 116.40,217.58 116.77,216.67 117.12,216.65 117.45,216.14 117.77,215.97 118.10,215.89 118.43,215.56 118.75,216.17 119.07,216.09 119.38,216.84 119.69,217.21 120.00,217.62 120.31,218.30 120.63,218.73 120.94,219.67 121.24,220.68 121.53,220.97 121.80,221.72 122.04,222.66 122.25,223.38 122.45,223.79 122.65,224.60 122.86,226.01 123.10,226.92 123.37,228.34 123.65,230.22 123.95,232.55 124.26,234.45 124.58,236.84 124.90,239.03 125.23,241.08 125.56,243.30 125.91,245.74 126.26,247.37 126.62,250.18 127.00,251.79 127.39,253.81 127.81,256.51 128.23,258.54 128.66,260.57 129.08,262.21 129.50,264.20 129.91,265.22 130.32,266.71 130.73,267.36 131.13,268.39 131.52,269.00 131.90,269.11 132.26,269.19 132.61,268.63 132.94,268.53 133.28,267.87 133.63,266.67 134.00,266.04 134.39,265.08 134.79,263.33 135.20,262.40 135.62,260.94 136.06,258.95 136.50,257.82 136.95,256.62 137.41,255.75 137.88,254.70 138.37,254.07 138.87,252.99 139.40,252.06 139.95,251.14 140.53,250.01 141.13,249.21 141.74,248.10 142.37,246.66 143.00,245.81 143.66,244.79 144.34,244.18 145.04,243.24 145.73,242.93 146.39,242.35 147.00,241.95 147.54,240.96 148.02,240.51 148.47,240.76 148.93,240.32 149.42,240.50 150.00,239.92 150.66,239.66 151.39,239.29 152.16,239.72 152.94,239.26 153.73,239.11 154.50,239.06 155.24,239.31 155.96,239.43 156.68,239.31 157.42,239.25 158.19,239.58 159.00,240.07 159.85,239.90 160.72,240.25 161.62,240.37 162.56,240.49 163.55,240.76 164.60,240.72 165.73,241.13 166.93,241.54 168.18,241.19 169.45,241.58 170.73,242.11 172.00,242.33 173.26,241.80 174.53,242.38 175.80,242.51 177.07,242.76 178.34,242.57 179.60,242.34 180.84,242.42 182.07,242.62 183.29,242.50 184.52,241.98 185.75,242.10 187.00,241.91 188.29,241.68 189.63,240.96 190.98,240.95 192.30,240.56 193.55,240.45 194.70,239.99 195.72,239.59 196.63,239.73 197.48,239.23 198.30,239.34 199.13,238.75 200.00,238.63 200.98,238.48 202.05,237.60 203.13,237.62 204.14,236.76 204.99,237.04 205.60,236.17" fill="none" stroke="#2a44b0" stroke-width="1.2" stroke-linejoin="round" stroke-linecap="round"/>
<circle cx="124.90" cy="239.60" r="2.6" fill="#888888"/>
<line x1="145.70" y1="230.80" x2="134.60" y2="236.20" stroke="#111" stroke-width="1"/>
<polygon points="131.5,237.6 135.6,233.5 137.1,237.4" fill="#111"/>
<text x="147.80" y="226.00" font-size="10.8" text-anchor="start" fill="#1a1a1a" font-weight="normal">g = 2.0031</text>
<line x1="45.30" y1="255.20" x2="61.10" y2="255.20" stroke="#2a44b0" stroke-width="1.4"/>
<text x="66.30" y="259.30" font-size="11.2" text-anchor="start" fill="#1a1a1a" font-weight="normal">110 K</text>
<line x1="45.30" y1="264.70" x2="61.10" y2="264.70" stroke="#2c7fd8" stroke-width="1.4"/>
<text x="66.30" y="268.80" font-size="11.2" text-anchor="start" fill="#1a1a1a" font-weight="normal">300 K</text>
<g>
<polyline points="34.60,310.10 35.69,309.79 37.16,309.66 38.92,309.94 40.87,310.12 42.93,310.11 45.00,309.90 47.15,310.38 49.47,310.26 51.89,311.02 54.35,310.53 56.78,310.66 59.10,310.51 61.33,311.26 63.51,310.61 65.67,310.91 67.80,311.06 69.90,310.59 72.00,310.92 74.12,310.41 76.28,310.21 78.42,310.11 80.49,310.48 82.43,310.86 84.20,310.15 85.76,310.34 87.14,310.61 88.41,310.07 89.60,309.89 90.78,310.21 92.00,310.06 93.28,310.53 94.57,310.44 95.84,309.74 97.08,310.01 98.24,309.83 99.30,309.41 100.23,309.79 101.04,310.24 101.78,309.60 102.49,309.87 103.21,309.97 104.00,309.30 104.87,310.13 105.78,309.28 106.71,309.45 107.63,309.83 108.50,309.09 109.30,309.41 110.02,309.12 110.68,309.42 111.29,308.92 111.88,309.00 112.44,309.02 113.00,308.82 113.55,308.76 114.07,308.79 114.58,309.03 115.06,308.57 115.54,309.18 116.00,308.70 116.45,308.47 116.89,308.39 117.31,308.93 117.71,308.07 118.11,308.71 118.50,308.03 118.88,308.84 119.24,308.27 119.59,308.44 119.93,308.69 120.27,307.92 120.60,307.90 120.93,308.56 121.25,308.50 121.56,308.69 121.87,308.31 122.19,308.61 122.50,308.38 122.83,308.73 123.16,308.69 123.50,309.11 123.83,308.95 124.13,309.06 124.40,309.56 124.62,309.13 124.79,309.98 124.94,309.80 125.10,309.68 125.27,309.72 125.50,310.29 125.78,310.48 126.08,310.92 126.41,310.80 126.76,311.08 127.13,311.81 127.50,311.44 127.89,312.41 128.29,312.61 128.71,313.00 129.13,313.24 129.57,312.82 130.00,313.60 130.44,313.60 130.90,313.38 131.36,314.34 131.82,314.12 132.27,314.38 132.70,314.18 133.11,313.70 133.51,314.44 133.89,313.66 134.27,313.64 134.64,313.88 135.00,313.34 135.35,313.49 135.67,313.61 135.99,312.85 136.31,313.27 136.65,312.58 137.00,312.81 137.36,312.87 137.73,312.79 138.10,312.03 138.50,312.07 138.93,312.72 139.40,312.03 139.94,311.93 140.53,311.73 141.16,311.90 141.80,311.80 142.42,311.57 143.00,311.21 143.53,311.28 144.03,311.15 144.51,310.76 144.99,311.46 145.48,311.42 146.00,311.18 146.55,311.35 147.13,310.78 147.72,311.11 148.31,310.48 148.91,310.95 149.50,310.88 150.08,311.07 150.65,310.92 151.22,310.93 151.80,310.28 152.39,310.77 153.00,310.43 153.63,310.24 154.26,310.27 154.91,310.68 155.57,310.71 156.27,310.71 157.00,310.54 157.78,310.06 158.59,310.07 159.44,310.52 160.30,310.21 161.16,310.38 162.00,310.19 162.83,310.29 163.67,310.91 164.50,310.47 165.33,311.15 166.17,310.68 167.00,311.24 167.83,310.73 168.66,310.72 169.49,310.87 170.33,310.50 171.16,310.94 172.00,310.90 172.83,310.55 173.66,311.41 174.49,310.93 175.34,310.56 176.20,311.52 177.10,310.78 178.03,310.79 178.98,310.54 179.95,310.59 180.94,311.17 181.96,311.01 183.00,310.91 184.06,310.62 185.15,310.64 186.26,311.30 187.39,310.67 188.54,311.26 189.70,311.12 190.87,310.31 192.04,310.99 193.23,310.11 194.45,310.74 195.70,310.78 197.00,310.60 198.46,310.39 200.09,310.58 201.76,309.84 203.32,310.15 204.65,309.81 205.60,309.90" fill="none" stroke="#c6e0f2" stroke-width="1.1" stroke-linejoin="round" stroke-linecap="round"/>
<polyline points="34.60,309.09 35.69,309.67 37.16,309.63 38.92,309.95 40.87,309.93 42.93,310.03 45.00,310.48 47.15,310.51 49.47,310.43 51.89,310.35 54.35,311.11 56.78,310.68 59.10,310.50 61.33,310.76 63.51,311.12 65.67,311.30 67.80,310.96 69.90,310.92 72.00,311.14 74.12,310.93 76.28,310.54 78.42,310.50 80.49,310.74 82.43,310.23 84.20,309.95 85.76,310.38 87.14,310.49 88.41,309.84 89.60,310.18 90.78,310.30 92.00,309.46 93.28,309.39 94.57,309.67 95.84,309.43 97.08,309.97 98.24,309.95 99.30,309.34 100.23,309.64 101.04,309.44 101.78,308.94 102.49,309.71 103.21,308.87 104.00,308.73 104.87,309.06 105.78,308.58 106.71,308.99 107.63,308.86 108.50,309.34 109.30,308.74 110.02,309.10 110.68,308.96 111.29,308.69 111.88,308.26 112.44,308.23 113.00,308.32 113.55,308.11 114.07,308.24 114.58,307.97 115.06,307.65 115.54,307.81 116.00,308.08 116.45,307.17 116.89,307.19 117.31,306.75 117.71,306.73 118.11,306.61 118.50,306.90 118.88,307.26 119.24,307.07 119.59,307.30 119.93,307.14 120.27,306.89 120.60,306.91 120.93,306.39 121.25,306.84 121.56,306.81 121.87,307.28 122.19,306.85 122.50,307.47 122.83,307.47 123.16,307.77 123.50,307.88 123.83,307.79 124.13,308.64 124.40,308.93 124.62,308.94 124.79,308.68 124.94,309.38 125.10,309.89 125.27,310.26 125.50,310.33 125.78,309.95 126.08,311.14 126.41,311.31 126.76,311.33 127.13,312.38 127.50,312.71 127.89,313.22 128.29,313.05 128.71,313.86 129.13,314.14 129.57,314.50 130.00,315.34 130.44,315.53 130.90,315.55 131.36,316.04 131.82,316.65 132.27,316.45 132.70,316.89 133.11,316.54 133.51,316.88 133.89,315.78 134.27,316.03 134.64,315.92 135.00,315.91 135.35,315.95 135.67,315.39 135.99,315.01 136.31,314.92 136.65,314.58 137.00,314.53 137.36,314.57 137.73,313.45 138.10,313.57 138.50,313.94 138.93,312.92 139.40,313.45 139.94,312.46 140.53,312.84 141.16,312.74 141.80,311.93 142.42,311.85 143.00,311.51 143.53,311.83 144.03,311.52 144.51,311.49 144.99,311.11 145.48,311.28 146.00,311.56 146.55,311.30 147.13,311.40 147.72,310.64 148.31,310.85 148.91,310.66 149.50,310.56 150.08,310.95 150.65,310.26 151.22,310.58 151.80,310.73 152.39,310.84 153.00,309.87 153.63,310.08 154.26,310.27 154.91,310.68 155.57,309.88 156.27,310.55 157.00,310.12 157.78,310.30 158.59,310.73 159.44,309.92 160.30,310.26 161.16,310.16 162.00,310.21 162.83,310.46 163.67,310.95 164.50,310.92 165.33,310.56 166.17,311.32 167.00,311.10 167.83,310.79 168.66,311.51 169.49,311.54 170.33,310.97 171.16,311.72 172.00,311.61 172.83,311.05 173.66,310.84 174.49,311.73 175.34,311.69 176.20,310.97 177.10,311.63 178.03,311.61 178.98,311.43 179.95,311.59 180.94,311.69 181.96,310.98 183.00,311.44 184.06,311.48 185.15,310.84 186.26,311.16 187.39,311.12 188.54,311.23 189.70,310.89 190.87,310.52 192.04,310.42 193.23,310.62 194.45,310.11 195.70,310.74 197.00,310.67 198.46,309.91 200.09,310.24 201.76,310.08 203.32,309.41 204.65,309.96 205.60,309.87" fill="none" stroke="#8fc6ea" stroke-width="1.1" stroke-linejoin="round" stroke-linecap="round"/>
<polyline points="34.60,308.43 35.69,308.34 37.16,308.68 38.92,309.36 40.87,309.26 42.93,309.83 45.00,309.38 47.15,309.57 49.47,310.08 51.89,310.89 54.35,310.44 56.78,310.56 59.10,311.38 61.33,310.77 63.51,311.32 65.67,310.67 67.80,310.74 69.90,311.05 72.00,311.17 74.12,310.63 76.28,310.58 78.42,310.06 80.49,310.27 82.43,310.06 84.20,310.49 85.76,310.29 87.14,310.21 88.41,309.81 89.60,309.83 90.78,309.11 92.00,309.24 93.28,309.01 94.57,308.87 95.84,309.20 97.08,308.55 98.24,308.55 99.30,308.41 100.23,308.91 101.04,308.61 101.78,308.39 102.49,308.24 103.21,308.72 104.00,308.66 104.87,308.09 105.78,308.13 106.71,308.34 107.63,307.64 108.50,307.54 109.30,307.28 110.02,307.56 110.68,307.70 111.29,306.96 111.88,307.10 112.44,307.51 113.00,306.83 113.55,306.55 114.07,306.79 114.58,306.63 115.06,305.89 115.54,305.42 116.00,305.74 116.45,305.65 116.89,305.64 117.31,305.20 117.71,304.68 118.11,304.74 118.50,304.39 118.88,304.45 119.24,304.38 119.59,304.76 119.93,304.72 120.27,304.74 120.60,304.33 120.93,304.90 121.25,304.19 121.56,305.13 121.87,305.04 122.19,305.48 122.50,305.26 122.83,306.11 123.16,305.45 123.50,306.61 123.83,306.94 124.13,306.86 124.40,307.68 124.62,307.42 124.79,308.32 124.94,308.40 125.10,308.74 125.27,308.96 125.50,310.05 125.78,310.53 126.08,310.49 126.41,312.02 126.76,311.94 127.13,312.78 127.50,313.51 127.89,314.41 128.29,315.52 128.71,316.39 129.13,316.87 129.57,317.33 130.00,317.71 130.44,318.22 130.90,319.19 131.36,319.71 131.82,319.95 132.27,320.76 132.70,320.34 133.11,320.28 133.51,320.21 133.89,319.72 134.27,320.18 134.64,319.51 135.00,319.14 135.35,318.70 135.67,318.16 135.99,317.83 136.31,317.61 136.65,317.16 137.00,317.33 137.36,316.57 137.73,315.90 138.10,315.43 138.50,315.22 138.93,315.09 139.40,315.18 139.94,314.91 140.53,313.85 141.16,313.98 141.80,313.23 142.42,312.96 143.00,312.63 143.53,311.88 144.03,311.69 144.51,312.10 144.99,311.96 145.48,311.50 146.00,311.89 146.55,311.66 147.13,311.02 147.72,310.68 148.31,311.07 148.91,311.08 149.50,310.55 150.08,310.26 150.65,310.59 151.22,310.03 151.80,310.63 152.39,310.43 153.00,310.00 153.63,310.10 154.26,309.82 154.91,309.72 155.57,309.68 156.27,310.30 157.00,309.95 157.78,310.26 158.59,309.98 159.44,310.54 160.30,310.45 161.16,310.63 162.00,310.49 162.83,310.79 163.67,310.57 164.50,311.51 165.33,311.37 166.17,311.37 167.00,311.59 167.83,311.14 168.66,311.45 169.49,311.40 170.33,312.06 171.16,311.27 172.00,311.74 172.83,312.21 173.66,312.15 174.49,312.12 175.34,311.72 176.20,311.65 177.10,312.10 178.03,311.66 178.98,312.02 179.95,311.57 180.94,311.90 181.96,311.63 183.00,311.79 184.06,311.89 185.15,311.21 186.26,311.75 187.39,310.70 188.54,311.48 189.70,310.53 190.87,310.92 192.04,310.63 193.23,310.86 194.45,310.25 195.70,309.98 197.00,310.38 198.46,309.96 200.09,309.96 201.76,309.47 203.32,308.81 204.65,309.37 205.60,308.69" fill="none" stroke="#5ab4e8" stroke-width="1.3" stroke-linejoin="round" stroke-linecap="round"/>
<polyline points="34.60,307.99 35.69,307.69 37.16,308.19 38.92,308.88 40.87,309.30 42.93,309.50 45.00,309.63 47.15,310.28 49.47,310.63 51.89,310.59 54.35,311.32 56.78,311.70 59.10,312.04 61.33,311.59 63.51,311.67 65.67,311.60 67.80,311.21 69.90,311.31 72.00,311.55 74.12,311.27 76.28,310.73 78.42,311.15 80.49,310.37 82.43,310.84 84.20,310.06 85.76,309.81 87.14,309.75 88.41,309.79 89.60,309.32 90.78,309.71 92.00,309.55 93.28,308.70 94.57,308.97 95.84,308.72 97.08,308.40 98.24,307.92 99.30,308.46 100.23,308.34 101.04,307.30 101.78,307.52 102.49,307.43 103.21,307.21 104.00,307.34 104.87,307.68 105.78,306.68 106.71,307.36 107.63,306.70 108.50,306.25 109.30,306.97 110.02,306.16 110.68,305.92 111.29,305.63 111.88,305.66 112.44,305.19 113.00,305.00 113.55,304.78 114.07,304.79 114.58,304.33 115.06,303.85 115.54,303.74 116.00,303.69 116.45,303.35 116.89,302.68 117.31,302.98 117.71,302.60 118.11,302.14 118.50,301.87 118.88,301.57 119.24,301.25 119.59,301.90 119.93,301.57 120.27,301.05 120.60,301.94 120.93,302.03 121.25,301.36 121.56,302.26 121.87,302.08 122.19,302.71 122.50,303.37 122.83,303.30 123.16,303.91 123.50,304.59 123.83,304.65 124.13,305.64 124.40,306.00 124.62,307.11 124.79,306.85 124.94,307.94 125.10,307.86 125.27,308.76 125.50,309.34 125.78,310.21 126.08,311.50 126.41,312.12 126.76,313.77 127.13,314.11 127.50,315.70 127.89,317.06 128.29,317.53 128.71,318.86 129.13,320.61 129.57,321.43 130.00,322.85 130.44,323.10 130.90,323.94 131.36,325.19 131.82,325.15 132.27,326.19 132.70,326.34 133.11,325.65 133.51,325.79 133.89,325.82 134.27,324.53 134.64,324.77 135.00,324.21 135.35,323.69 135.67,322.98 135.99,321.89 136.31,322.13 136.65,320.68 137.00,320.80 137.36,320.22 137.73,319.33 138.10,319.22 138.50,318.47 138.93,318.32 139.40,317.10 139.94,317.41 140.53,316.24 141.16,316.03 141.80,315.08 142.42,314.85 143.00,313.86 143.53,313.70 144.03,312.85 144.51,313.03 144.99,312.38 145.48,312.93 146.00,312.52 146.55,312.06 147.13,312.43 147.72,312.25 148.31,312.11 148.91,311.09 149.50,311.56 150.08,311.42 150.65,311.13 151.22,310.38 151.80,311.13 152.39,310.50 153.00,310.54 153.63,310.66 154.26,310.02 154.91,309.69 155.57,310.53 156.27,309.85 157.00,309.65 157.78,309.82 158.59,310.80 159.44,310.70 160.30,310.35 161.16,310.47 162.00,311.41 162.83,311.38 163.67,311.53 164.50,311.32 165.33,311.83 166.17,312.58 167.00,311.81 167.83,312.36 168.66,312.11 169.49,313.14 170.33,312.32 171.16,313.24 172.00,313.18 172.83,313.13 173.66,312.49 174.49,313.19 175.34,313.01 176.20,313.01 177.10,312.64 178.03,312.94 178.98,313.14 179.95,312.36 180.94,312.97 181.96,312.39 183.00,312.11 184.06,311.98 185.15,312.09 186.26,312.18 187.39,311.99 188.54,312.17 189.70,311.64 190.87,311.45 192.04,311.72 193.23,310.72 194.45,310.28 195.70,310.34 197.00,310.07 198.46,309.59 200.09,309.57 201.76,308.85 203.32,309.42 204.65,308.72 205.60,308.92" fill="none" stroke="#3a9ae2" stroke-width="1.3" stroke-linejoin="round" stroke-linecap="round"/>
<polyline points="34.60,305.28 35.69,305.77 37.16,306.43 38.92,306.77 40.87,307.99 42.93,308.38 45.00,309.55 47.15,310.53 49.47,311.78 51.89,312.36 54.35,313.56 56.78,314.84 59.10,315.37 61.33,315.73 63.51,314.88 65.67,314.69 67.80,314.22 69.90,314.36 72.00,314.02 74.12,313.61 76.28,313.37 78.42,312.75 80.49,312.37 82.43,312.25 84.20,311.53 85.76,311.03 87.14,310.40 88.41,309.73 89.60,309.36 90.78,308.61 92.00,307.67 93.28,307.41 94.57,306.88 95.84,306.38 97.08,306.01 98.24,305.38 99.30,305.00 100.23,304.70 101.04,304.38 101.78,304.68 102.49,303.66 103.21,303.35 104.00,303.70 104.87,303.09 105.78,302.81 106.71,302.59 107.63,302.02 108.50,301.50 109.30,300.86 110.02,301.17 110.68,300.74 111.29,299.63 111.88,299.24 112.44,298.50 113.00,297.60 113.55,297.61 114.07,296.73 114.58,295.31 115.06,294.43 115.54,293.97 116.00,293.27 116.45,292.21 116.89,291.38 117.31,290.51 117.71,290.34 118.11,289.81 118.50,289.32 118.88,288.25 119.24,288.34 119.59,288.44 119.93,288.05 120.27,287.81 120.60,287.68 120.93,287.94 121.25,289.02 121.56,289.05 121.87,290.46 122.19,291.19 122.50,291.98 122.83,293.44 123.16,294.70 123.50,295.75 123.83,296.71 124.13,298.61 124.40,299.93 124.62,301.21 124.79,303.25 124.94,304.54 125.10,305.57 125.27,307.40 125.50,309.46 125.78,311.87 126.08,314.05 126.41,316.72 126.76,319.74 127.13,321.93 127.50,325.20 127.89,327.80 128.29,331.53 128.71,334.79 129.13,337.39 129.57,340.57 130.00,342.65 130.44,345.14 130.90,347.40 131.36,349.23 131.82,350.46 132.27,351.28 132.70,351.96 133.11,352.36 133.51,351.46 133.89,350.62 134.27,349.69 134.64,348.63 135.00,347.01 135.35,345.48 135.67,344.31 135.99,342.45 136.31,341.30 136.65,339.16 137.00,337.79 137.36,336.59 137.73,335.73 138.10,333.81 138.50,332.58 138.93,331.24 139.40,329.94 139.94,328.54 140.53,326.97 141.16,325.63 141.80,323.68 142.42,322.26 143.00,320.91 143.53,320.20 144.03,319.44 144.51,318.27 144.99,318.06 145.48,316.86 146.00,316.93 146.55,315.98 147.13,315.65 147.72,314.96 148.31,314.48 148.91,313.97 149.50,314.25 150.08,313.34 150.65,313.21 151.22,312.56 151.80,312.21 152.39,311.55 153.00,311.21 153.63,311.08 154.26,311.13 154.91,310.79 155.57,310.15 156.27,310.73 157.00,310.54 157.78,310.41 158.59,310.90 159.44,311.27 160.30,312.29 161.16,312.55 162.00,312.84 162.83,313.31 163.67,313.95 164.50,314.56 165.33,315.24 166.17,316.20 167.00,316.66 167.83,316.94 168.66,317.40 169.49,317.43 170.33,317.13 171.16,317.24 172.00,317.50 172.83,317.73 173.66,318.11 174.49,318.48 175.34,318.34 176.20,318.20 177.10,317.97 178.03,318.47 178.98,318.02 179.95,317.35 180.94,316.75 181.96,317.25 183.00,316.28 184.06,316.53 185.15,315.60 186.26,315.81 187.39,315.24 188.54,315.37 189.70,314.42 190.87,313.75 192.04,313.29 193.23,313.24 194.45,312.76 195.70,311.80 197.00,311.16 198.46,310.05 200.09,309.20 201.76,308.15 203.32,308.14 204.65,306.59 205.60,306.60" fill="none" stroke="#1f62c6" stroke-width="1.2" stroke-linejoin="round" stroke-linecap="round"/>
</g>
<text x="37.60" y="295.60" font-size="11.4" text-anchor="start" fill="#1a1a1a" font-weight="normal">Stored at RT</text>
<line x1="46.60" y1="322.20" x2="62.10" y2="322.20" stroke="#1f62c6" stroke-width="1.6"/>
<text x="68.20" y="326.20" font-size="11.2" text-anchor="start" fill="#1a1a1a" font-weight="normal">10 min</text>
<line x1="46.60" y1="336.50" x2="62.10" y2="336.50" stroke="#3a9ae2" stroke-width="1.6"/>
<text x="68.20" y="340.50" font-size="11.2" text-anchor="start" fill="#1a1a1a" font-weight="normal">7 d</text>
<line x1="46.60" y1="351.60" x2="62.10" y2="351.60" stroke="#5ab4e8" stroke-width="1.6"/>
<text x="68.20" y="355.60" font-size="11.2" text-anchor="start" fill="#1a1a1a" font-weight="normal">14 d</text>
<line x1="154.50" y1="336.50" x2="170.00" y2="336.50" stroke="#8fc6ea" stroke-width="1.6"/>
<text x="176.10" y="340.50" font-size="11.2" text-anchor="start" fill="#1a1a1a" font-weight="normal">23 d</text>
<line x1="154.50" y1="351.60" x2="170.00" y2="351.60" stroke="#c6e0f2" stroke-width="1.6"/>
<text x="176.10" y="355.60" font-size="11.2" text-anchor="start" fill="#1a1a1a" font-weight="normal">37 d</text>
<line x1="34.60" y1="214.40" x2="205.60" y2="214.40" stroke="#c6c6c6" stroke-width="1.6"/>
<line x1="205.60" y1="213.60" x2="205.60" y2="273.10" stroke="#7a7a7a" stroke-width="1"/>
<line x1="34.60" y1="213.60" x2="34.60" y2="273.60" stroke="#3a3a3a" stroke-width="1"/>
<line x1="34.10" y1="273.10" x2="206.10" y2="273.10" stroke="#3a3a3a" stroke-width="1"/>
<line x1="67.30" y1="273.10" x2="67.30" y2="275.60" stroke="#3a3a3a" stroke-width="0.9"/>
<line x1="111.40" y1="273.10" x2="111.40" y2="275.60" stroke="#3a3a3a" stroke-width="0.9"/>
<line x1="155.50" y1="273.10" x2="155.50" y2="275.60" stroke="#3a3a3a" stroke-width="0.9"/>
<line x1="199.60" y1="273.10" x2="199.60" y2="275.60" stroke="#3a3a3a" stroke-width="0.9"/>
<line x1="45.25" y1="273.10" x2="45.25" y2="274.70" stroke="#3a3a3a" stroke-width="0.8"/>
<line x1="89.35" y1="273.10" x2="89.35" y2="274.70" stroke="#3a3a3a" stroke-width="0.8"/>
<line x1="133.45" y1="273.10" x2="133.45" y2="274.70" stroke="#3a3a3a" stroke-width="0.8"/>
<line x1="177.55" y1="273.10" x2="177.55" y2="274.70" stroke="#3a3a3a" stroke-width="0.8"/>
<line x1="34.60" y1="282.50" x2="205.60" y2="282.50" stroke="#c6c6c6" stroke-width="1.6"/>
<line x1="205.60" y1="281.70" x2="205.60" y2="358.30" stroke="#7a7a7a" stroke-width="1"/>
<line x1="34.60" y1="281.70" x2="34.60" y2="358.80" stroke="#3a3a3a" stroke-width="1"/>
<line x1="34.10" y1="358.30" x2="206.10" y2="358.30" stroke="#3a3a3a" stroke-width="1"/>
<line x1="67.30" y1="358.30" x2="67.30" y2="360.80" stroke="#3a3a3a" stroke-width="0.9"/>
<line x1="111.40" y1="358.30" x2="111.40" y2="360.80" stroke="#3a3a3a" stroke-width="0.9"/>
<line x1="155.50" y1="358.30" x2="155.50" y2="360.80" stroke="#3a3a3a" stroke-width="0.9"/>
<line x1="199.60" y1="358.30" x2="199.60" y2="360.80" stroke="#3a3a3a" stroke-width="0.9"/>
<line x1="45.25" y1="358.30" x2="45.25" y2="359.90" stroke="#3a3a3a" stroke-width="0.8"/>
<line x1="89.35" y1="358.30" x2="89.35" y2="359.90" stroke="#3a3a3a" stroke-width="0.8"/>
<line x1="133.45" y1="358.30" x2="133.45" y2="359.90" stroke="#3a3a3a" stroke-width="0.8"/>
<line x1="177.55" y1="358.30" x2="177.55" y2="359.90" stroke="#3a3a3a" stroke-width="0.8"/>
<line x1="32.00" y1="223.30" x2="34.60" y2="223.30" stroke="#3a3a3a" stroke-width="0.9"/>
<text x="25.20" y="227.50" font-size="10.8" text-anchor="end" fill="#1a1a1a" font-weight="normal">4</text>
<line x1="32.00" y1="239.80" x2="34.60" y2="239.80" stroke="#3a3a3a" stroke-width="0.9"/>
<text x="25.20" y="244.00" font-size="10.8" text-anchor="end" fill="#1a1a1a" font-weight="normal">0</text>
<line x1="32.00" y1="256.30" x2="34.60" y2="256.30" stroke="#3a3a3a" stroke-width="0.9"/>
<text x="25.20" y="260.50" font-size="10.8" text-anchor="end" fill="#1a1a1a" font-weight="normal">-4</text>
<line x1="33.00" y1="231.55" x2="34.60" y2="231.55" stroke="#3a3a3a" stroke-width="0.8"/>
<line x1="33.00" y1="248.05" x2="34.60" y2="248.05" stroke="#3a3a3a" stroke-width="0.8"/>
<line x1="32.00" y1="282.10" x2="34.60" y2="282.10" stroke="#3a3a3a" stroke-width="0.9"/>
<text x="25.20" y="286.30" font-size="10.8" text-anchor="end" fill="#1a1a1a" font-weight="normal">4</text>
<line x1="32.00" y1="295.95" x2="34.60" y2="295.95" stroke="#3a3a3a" stroke-width="0.9"/>
<text x="25.20" y="300.15" font-size="10.8" text-anchor="end" fill="#1a1a1a" font-weight="normal">2</text>
<line x1="32.00" y1="309.80" x2="34.60" y2="309.80" stroke="#3a3a3a" stroke-width="0.9"/>
<text x="25.20" y="314.00" font-size="10.8" text-anchor="end" fill="#1a1a1a" font-weight="normal">0</text>
<line x1="32.00" y1="323.65" x2="34.60" y2="323.65" stroke="#3a3a3a" stroke-width="0.9"/>
<text x="25.20" y="327.85" font-size="10.8" text-anchor="end" fill="#1a1a1a" font-weight="normal">-2</text>
<line x1="32.00" y1="337.50" x2="34.60" y2="337.50" stroke="#3a3a3a" stroke-width="0.9"/>
<text x="25.20" y="341.70" font-size="10.8" text-anchor="end" fill="#1a1a1a" font-weight="normal">-4</text>
<line x1="32.00" y1="351.35" x2="34.60" y2="351.35" stroke="#3a3a3a" stroke-width="0.9"/>
<text x="25.20" y="355.55" font-size="10.8" text-anchor="end" fill="#1a1a1a" font-weight="normal">-6</text>
<line x1="33.00" y1="289.03" x2="34.60" y2="289.03" stroke="#3a3a3a" stroke-width="0.8"/>
<line x1="33.00" y1="302.88" x2="34.60" y2="302.88" stroke="#3a3a3a" stroke-width="0.8"/>
<line x1="33.00" y1="316.73" x2="34.60" y2="316.73" stroke="#3a3a3a" stroke-width="0.8"/>
<line x1="33.00" y1="330.57" x2="34.60" y2="330.57" stroke="#3a3a3a" stroke-width="0.8"/>
<line x1="33.00" y1="344.43" x2="34.60" y2="344.43" stroke="#3a3a3a" stroke-width="0.8"/>
<line x1="33.00" y1="358.28" x2="34.60" y2="358.28" stroke="#3a3a3a" stroke-width="0.8"/>
<text x="67.30" y="372.00" font-size="10.8" text-anchor="middle" fill="#1a1a1a" font-weight="normal">330</text>
<text x="111.40" y="372.00" font-size="10.8" text-anchor="middle" fill="#1a1a1a" font-weight="normal">335</text>
<text x="155.50" y="372.00" font-size="10.8" text-anchor="middle" fill="#1a1a1a" font-weight="normal">340</text>
<text x="199.60" y="372.00" font-size="10.8" text-anchor="middle" fill="#1a1a1a" font-weight="normal">345</text>
<text x="124.90" y="384.20" font-size="10.8" text-anchor="middle" fill="#1a1a1a" font-weight="normal">Magnetic field (mT)</text>
<text x="10.30" y="289.50" font-size="10.5" text-anchor="middle" fill="#1a1a1a" font-weight="normal" transform="rotate(-90 10.3 289.5)">ESR intensity (arb. units)</text>
<rect x="355.30" y="214.3" width="7.83" height="144.3" fill="#efefef"/>
<rect x="370.96" y="214.3" width="7.83" height="144.3" fill="#efefef"/>
<rect x="386.62" y="214.3" width="7.83" height="144.3" fill="#efefef"/>
<rect x="402.28" y="214.3" width="7.83" height="144.3" fill="#efefef"/>
<rect x="417.94" y="214.3" width="7.83" height="144.3" fill="#efefef"/>
<polyline points="276.20,247.60 276.44,249.17 276.77,251.42 277.15,253.87 277.50,256.00 277.78,257.67 278.04,259.15 278.32,260.56 278.70,262.00 279.20,263.55 279.80,265.12 280.42,266.64 281.00,268.00 281.49,269.11 281.93,270.03 282.40,270.94 283.00,272.00 283.77,273.30 284.65,274.75 285.58,276.20 286.50,277.50 287.34,278.57 288.15,279.50 289.04,280.43 290.10,281.50 291.36,282.77 292.77,284.16 294.32,285.59 296.00,287.00 297.88,288.41 299.93,289.83 302.04,291.22 304.10,292.50 306.05,293.64 307.95,294.69 309.90,295.69 312.00,296.70 314.33,297.76 316.82,298.82 319.33,299.85 321.70,300.80 323.85,301.63 325.87,302.38 327.89,303.08 330.00,303.80 332.27,304.55 334.62,305.29 336.99,306.02 339.30,306.70 341.53,307.32 343.73,307.91 345.89,308.46 348.00,309.00 349.91,309.51 351.67,309.99 353.59,310.47 356.00,311.00 359.05,311.59 362.56,312.23 366.29,312.88 370.00,313.50 373.68,314.09 377.44,314.67 381.23,315.24 385.00,315.80 388.75,316.36 392.50,316.92 396.25,317.47 400.00,318.00 403.62,318.50 407.16,318.96 410.86,319.45 415.00,320.00 420.22,320.71 426.19,321.52 431.69,322.28 435.50,322.80" fill="none" stroke="#b4b4b4" stroke-width="4.0" stroke-linejoin="round" stroke-linecap="round"/>
<polyline points="276.40,251.40 276.55,252.36 276.76,253.73 277.02,255.30 277.30,256.90 277.61,258.55 277.94,260.32 278.31,262.08 278.70,263.70 279.11,265.13 279.53,266.44 279.99,267.69 280.50,268.90 281.05,270.06 281.64,271.14 282.29,272.24 283.00,273.40 283.80,274.69 284.68,276.06 285.59,277.42 286.50,278.70 287.34,279.82 288.15,280.85 289.04,281.90 290.10,283.10 291.36,284.52 292.77,286.09 294.32,287.69 296.00,289.20 297.88,290.59 299.93,291.93 302.04,293.23 304.10,294.50 306.05,295.75 307.95,296.98 309.90,298.17 312.00,299.30 314.33,300.38 316.82,301.40 319.33,302.37 321.70,303.30 323.85,304.16 325.87,304.97 327.89,305.74 330.00,306.50 332.27,307.26 334.62,308.02 336.99,308.74 339.30,309.40 341.53,309.99 343.73,310.52 345.89,311.01 348.00,311.50 350.24,312.01 352.54,312.53 354.58,312.98 356.00,313.30" fill="none" stroke="#1a2a8c" stroke-width="4.8" stroke-linejoin="round" stroke-linecap="round"/>
<polyline points="276.40,250.50 276.55,251.46 276.76,252.83 277.02,254.40 277.30,256.00 277.61,257.65 277.94,259.42 278.31,261.18 278.70,262.80 279.11,264.23 279.53,265.54 279.99,266.79 280.50,268.00 281.05,269.16 281.64,270.24 282.29,271.34 283.00,272.50 283.80,273.79 284.68,275.16 285.59,276.52 286.50,277.80 287.34,278.92 288.15,279.95 289.04,281.00 290.10,282.20 291.36,283.62 292.77,285.19 294.32,286.79 296.00,288.30 297.88,289.69 299.93,291.03 302.04,292.33 304.10,293.60 306.05,294.85 307.95,296.08 309.90,297.27 312.00,298.40 314.33,299.48 316.82,300.50 319.33,301.47 321.70,302.40 323.85,303.26 325.87,304.07 327.89,304.84 330.00,305.60 332.27,306.36 334.62,307.12 336.99,307.84 339.30,308.50 341.53,309.09 343.73,309.62 345.89,310.11 348.00,310.60 350.24,311.11 352.54,311.63 354.58,312.08 356.00,312.40" fill="none" stroke="#1b88e0" stroke-width="4.8" stroke-linejoin="round" stroke-linecap="round"/>
<polyline points="356.20,244.60 356.52,245.76 356.97,247.42 357.49,249.28 358.00,251.00 358.47,252.55 358.96,254.09 359.46,255.58 360.00,257.00 360.60,258.34 361.24,259.61 361.89,260.82 362.50,262.00 363.02,263.16 363.49,264.29 363.99,265.35 364.60,266.30 365.27,267.09 365.99,267.76 366.86,268.37 368.00,269.00 369.47,269.64 371.21,270.26 373.11,270.90 375.10,271.60 377.20,272.41 379.45,273.29 381.75,274.17 384.00,275.00 386.20,275.74 388.39,276.44 390.56,277.12 392.70,277.80 394.78,278.49 396.81,279.17 398.86,279.84 401.00,280.50 403.25,281.15 405.56,281.79 407.92,282.41 410.30,283.00 412.58,283.53 414.80,284.01 417.20,284.48 420.00,285.00 423.71,285.63 428.06,286.32 432.10,286.96 434.90,287.40" fill="none" stroke="#1a2a8c" stroke-width="3.4" stroke-linejoin="round" stroke-linecap="round"/>
<line x1="355.80" y1="312.40" x2="355.80" y2="244.60" stroke="#1a78d0" stroke-width="0.9"/>
<line x1="363.70" y1="265.50" x2="363.70" y2="298.00" stroke="#1a78d0" stroke-width="0.9"/>
<line x1="370.80" y1="313.80" x2="370.90" y2="266.80" stroke="#1a78d0" stroke-width="0.9"/>
<line x1="380.20" y1="271.80" x2="380.20" y2="304.00" stroke="#1a78d0" stroke-width="0.9"/>
<line x1="386.60" y1="317.30" x2="386.60" y2="273.60" stroke="#1a78d0" stroke-width="0.9"/>
<line x1="396.30" y1="276.50" x2="396.30" y2="308.50" stroke="#1a78d0" stroke-width="0.9"/>
<line x1="402.30" y1="320.80" x2="402.30" y2="277.80" stroke="#1a78d0" stroke-width="0.9"/>
<line x1="411.00" y1="280.00" x2="411.00" y2="300.60" stroke="#1a78d0" stroke-width="0.9"/>
<line x1="418.00" y1="324.30" x2="418.00" y2="281.00" stroke="#1a78d0" stroke-width="0.9"/>
<line x1="427.00" y1="283.00" x2="427.00" y2="313.00" stroke="#1a78d0" stroke-width="0.9"/>
<polyline points="356.20,244.60 356.51,245.98 356.97,247.96 357.50,250.00 358.11,251.97 358.81,254.01 359.50,256.00 360.16,257.93 360.82,259.80 361.50,261.50 362.30,263.09 363.12,264.52 363.70,265.50" fill="none" stroke="#1b88e0" stroke-width="3.8" stroke-linejoin="round" stroke-linecap="round"/>
<polyline points="363.70,298.00 363.96,299.30 364.35,301.15 364.80,303.00 365.31,304.72 365.89,306.44 366.50,308.00 367.13,309.32 367.80,310.48 368.50,311.50 369.33,312.44 370.19,313.25 370.80,313.80" fill="none" stroke="#1b88e0" stroke-width="3.8" stroke-linejoin="round" stroke-linecap="round"/>
<polyline points="370.90,266.80 371.71,267.18 372.86,267.73 374.00,268.30 375.00,268.85 375.99,269.42 377.00,270.00 378.17,270.66 379.36,271.33 380.20,271.80" fill="none" stroke="#1b88e0" stroke-width="3.8" stroke-linejoin="round" stroke-linecap="round"/>
<polyline points="380.20,304.00 380.46,305.19 380.85,306.87 381.30,308.50 381.75,309.84 382.27,311.13 383.00,312.50 384.19,314.22 385.60,316.03 386.60,317.30" fill="none" stroke="#1b88e0" stroke-width="3.8" stroke-linejoin="round" stroke-linecap="round"/>
<polyline points="386.60,273.60 387.50,273.84 388.77,274.17 390.00,274.50 391.02,274.76 391.99,275.01 393.00,275.30 394.20,275.71 395.43,276.17 396.30,276.50" fill="none" stroke="#1b88e0" stroke-width="3.8" stroke-linejoin="round" stroke-linecap="round"/>
<polyline points="396.30,308.50 396.58,309.67 397.00,311.33 397.50,313.00 398.08,314.54 398.74,316.09 399.50,317.50 400.48,318.81 401.54,319.99 402.30,320.80" fill="none" stroke="#1b88e0" stroke-width="3.8" stroke-linejoin="round" stroke-linecap="round"/>
<polyline points="402.30,277.80 402.99,277.92 403.98,278.10 405.00,278.30 405.98,278.51 406.99,278.74 408.00,279.00 409.11,279.35 410.22,279.73 411.00,280.00" fill="none" stroke="#1b88e0" stroke-width="3.8" stroke-linejoin="round" stroke-linecap="round"/>
<polyline points="411.00,300.60 411.24,302.87 411.59,306.07 412.00,309.00 412.44,311.20 412.94,313.13 413.50,315.00 414.11,316.93 414.78,318.81 415.50,320.50 416.39,322.03 417.33,323.38 418.00,324.30" fill="none" stroke="#1b88e0" stroke-width="3.8" stroke-linejoin="round" stroke-linecap="round"/>
<polyline points="418.00,281.00 418.78,281.10 419.89,281.24 421.00,281.40 422.00,281.57 423.00,281.76 424.00,282.00 425.11,282.34 426.22,282.73 427.00,283.00" fill="none" stroke="#1b88e0" stroke-width="3.8" stroke-linejoin="round" stroke-linecap="round"/>
<polyline points="427.00,313.00 427.35,314.31 427.87,316.19 428.50,318.00 429.21,319.54 430.03,321.02 431.00,322.50 432.34,324.17 433.84,325.83 434.90,327.00" fill="none" stroke="#1b88e0" stroke-width="3.8" stroke-linejoin="round" stroke-linecap="round"/>
<circle cx="356.20" cy="244.30" r="2.4" fill="#1b88e0"/>
<circle cx="363.70" cy="298.00" r="2.1" fill="#1b88e0"/>
<circle cx="380.20" cy="304.00" r="2.1" fill="#1b88e0"/>
<circle cx="396.30" cy="308.50" r="2.1" fill="#1b88e0"/>
<circle cx="411.00" cy="300.60" r="2.1" fill="#1b88e0"/>
<circle cx="427.00" cy="313.00" r="2.1" fill="#1b88e0"/>
<line x1="269.30" y1="214.30" x2="440.50" y2="214.30" stroke="#c6c6c6" stroke-width="1.6"/>
<line x1="440.50" y1="213.50" x2="440.50" y2="358.60" stroke="#7a7a7a" stroke-width="1"/>
<line x1="269.30" y1="213.50" x2="269.30" y2="359.10" stroke="#3a3a3a" stroke-width="1"/>
<line x1="268.80" y1="358.60" x2="441.00" y2="358.60" stroke="#3a3a3a" stroke-width="1"/>
<line x1="266.80" y1="214.30" x2="269.30" y2="214.30" stroke="#3a3a3a" stroke-width="0.9"/>
<line x1="266.80" y1="255.00" x2="269.30" y2="255.00" stroke="#3a3a3a" stroke-width="0.9"/>
<line x1="266.80" y1="295.70" x2="269.30" y2="295.70" stroke="#3a3a3a" stroke-width="0.9"/>
<line x1="266.80" y1="336.40" x2="269.30" y2="336.40" stroke="#3a3a3a" stroke-width="0.9"/>
<line x1="267.80" y1="242.75" x2="269.30" y2="242.75" stroke="#3a3a3a" stroke-width="0.7"/>
<line x1="267.80" y1="235.58" x2="269.30" y2="235.58" stroke="#3a3a3a" stroke-width="0.7"/>
<line x1="267.80" y1="230.50" x2="269.30" y2="230.50" stroke="#3a3a3a" stroke-width="0.7"/>
<line x1="267.80" y1="226.55" x2="269.30" y2="226.55" stroke="#3a3a3a" stroke-width="0.7"/>
<line x1="267.80" y1="223.33" x2="269.30" y2="223.33" stroke="#3a3a3a" stroke-width="0.7"/>
<line x1="267.80" y1="220.60" x2="269.30" y2="220.60" stroke="#3a3a3a" stroke-width="0.7"/>
<line x1="267.80" y1="218.24" x2="269.30" y2="218.24" stroke="#3a3a3a" stroke-width="0.7"/>
<line x1="267.80" y1="216.16" x2="269.30" y2="216.16" stroke="#3a3a3a" stroke-width="0.7"/>
<line x1="267.80" y1="283.45" x2="269.30" y2="283.45" stroke="#3a3a3a" stroke-width="0.7"/>
<line x1="267.80" y1="276.28" x2="269.30" y2="276.28" stroke="#3a3a3a" stroke-width="0.7"/>
<line x1="267.80" y1="271.20" x2="269.30" y2="271.20" stroke="#3a3a3a" stroke-width="0.7"/>
<line x1="267.80" y1="267.25" x2="269.30" y2="267.25" stroke="#3a3a3a" stroke-width="0.7"/>
<line x1="267.80" y1="264.03" x2="269.30" y2="264.03" stroke="#3a3a3a" stroke-width="0.7"/>
<line x1="267.80" y1="261.30" x2="269.30" y2="261.30" stroke="#3a3a3a" stroke-width="0.7"/>
<line x1="267.80" y1="258.94" x2="269.30" y2="258.94" stroke="#3a3a3a" stroke-width="0.7"/>
<line x1="267.80" y1="256.86" x2="269.30" y2="256.86" stroke="#3a3a3a" stroke-width="0.7"/>
<line x1="267.80" y1="324.15" x2="269.30" y2="324.15" stroke="#3a3a3a" stroke-width="0.7"/>
<line x1="267.80" y1="316.98" x2="269.30" y2="316.98" stroke="#3a3a3a" stroke-width="0.7"/>
<line x1="267.80" y1="311.90" x2="269.30" y2="311.90" stroke="#3a3a3a" stroke-width="0.7"/>
<line x1="267.80" y1="307.95" x2="269.30" y2="307.95" stroke="#3a3a3a" stroke-width="0.7"/>
<line x1="267.80" y1="304.73" x2="269.30" y2="304.73" stroke="#3a3a3a" stroke-width="0.7"/>
<line x1="267.80" y1="302.00" x2="269.30" y2="302.00" stroke="#3a3a3a" stroke-width="0.7"/>
<line x1="267.80" y1="299.64" x2="269.30" y2="299.64" stroke="#3a3a3a" stroke-width="0.7"/>
<line x1="267.80" y1="297.56" x2="269.30" y2="297.56" stroke="#3a3a3a" stroke-width="0.7"/>
<line x1="267.80" y1="357.68" x2="269.30" y2="357.68" stroke="#3a3a3a" stroke-width="0.7"/>
<line x1="267.80" y1="352.60" x2="269.30" y2="352.60" stroke="#3a3a3a" stroke-width="0.7"/>
<line x1="267.80" y1="348.65" x2="269.30" y2="348.65" stroke="#3a3a3a" stroke-width="0.7"/>
<line x1="267.80" y1="345.43" x2="269.30" y2="345.43" stroke="#3a3a3a" stroke-width="0.7"/>
<line x1="267.80" y1="342.70" x2="269.30" y2="342.70" stroke="#3a3a3a" stroke-width="0.7"/>
<line x1="267.80" y1="340.34" x2="269.30" y2="340.34" stroke="#3a3a3a" stroke-width="0.7"/>
<line x1="267.80" y1="338.26" x2="269.30" y2="338.26" stroke="#3a3a3a" stroke-width="0.7"/>
<text x="246.10" y="219.80" font-size="10.8" text-anchor="start" fill="#1a1a1a" font-weight="normal">10<tspan dy="-2.9" font-size="6.8">0</tspan></text>
<text x="246.10" y="260.50" font-size="10.8" text-anchor="start" fill="#1a1a1a" font-weight="normal">10<tspan dy="-2.9" font-size="6.8">-1</tspan></text>
<text x="246.10" y="301.20" font-size="10.8" text-anchor="start" fill="#1a1a1a" font-weight="normal">10<tspan dy="-2.9" font-size="6.8">-2</tspan></text>
<text x="246.10" y="341.90" font-size="10.8" text-anchor="start" fill="#1a1a1a" font-weight="normal">10<tspan dy="-2.9" font-size="6.8">-3</tspan></text>
<line x1="277.00" y1="358.60" x2="277.00" y2="361.10" stroke="#3a3a3a" stroke-width="0.9"/>
<text x="277.00" y="372.00" font-size="10.8" text-anchor="middle" fill="#1a1a1a" font-weight="normal">0</text>
<line x1="303.10" y1="358.60" x2="303.10" y2="361.10" stroke="#3a3a3a" stroke-width="0.9"/>
<text x="303.10" y="372.00" font-size="10.8" text-anchor="middle" fill="#1a1a1a" font-weight="normal">100</text>
<line x1="329.20" y1="358.60" x2="329.20" y2="361.10" stroke="#3a3a3a" stroke-width="0.9"/>
<text x="329.20" y="372.00" font-size="10.8" text-anchor="middle" fill="#1a1a1a" font-weight="normal">200</text>
<line x1="355.30" y1="358.60" x2="355.30" y2="361.10" stroke="#3a3a3a" stroke-width="0.9"/>
<text x="355.30" y="372.00" font-size="10.8" text-anchor="middle" fill="#1a1a1a" font-weight="normal">300</text>
<line x1="381.40" y1="358.60" x2="381.40" y2="361.10" stroke="#3a3a3a" stroke-width="0.9"/>
<text x="381.40" y="372.00" font-size="10.8" text-anchor="middle" fill="#1a1a1a" font-weight="normal">400</text>
<line x1="407.50" y1="358.60" x2="407.50" y2="361.10" stroke="#3a3a3a" stroke-width="0.9"/>
<text x="407.50" y="372.00" font-size="10.8" text-anchor="middle" fill="#1a1a1a" font-weight="normal">500</text>
<line x1="433.60" y1="358.60" x2="433.60" y2="361.10" stroke="#3a3a3a" stroke-width="0.9"/>
<text x="433.60" y="372.00" font-size="10.8" text-anchor="middle" fill="#1a1a1a" font-weight="normal">600</text>
<line x1="290.05" y1="358.60" x2="290.05" y2="360.20" stroke="#3a3a3a" stroke-width="0.8"/>
<line x1="316.15" y1="358.60" x2="316.15" y2="360.20" stroke="#3a3a3a" stroke-width="0.8"/>
<line x1="342.25" y1="358.60" x2="342.25" y2="360.20" stroke="#3a3a3a" stroke-width="0.8"/>
<line x1="368.35" y1="358.60" x2="368.35" y2="360.20" stroke="#3a3a3a" stroke-width="0.8"/>
<line x1="394.45" y1="358.60" x2="394.45" y2="360.20" stroke="#3a3a3a" stroke-width="0.8"/>
<line x1="420.55" y1="358.60" x2="420.55" y2="360.20" stroke="#3a3a3a" stroke-width="0.8"/>
<text x="355.60" y="384.20" font-size="10.8" text-anchor="middle" fill="#1a1a1a" font-weight="normal">Time (s)</text>
<text x="241.60" y="287.30" font-size="10.8" text-anchor="middle" fill="#1a1a1a" font-weight="normal" transform="rotate(-90 241.6 287.3)">Intensity (arb. units)</text>
<text x="324.20" y="229.00" font-size="10.8" text-anchor="middle" fill="#1a1a1a" font-weight="normal">Photo</text>
<text x="324.20" y="240.10" font-size="10.8" text-anchor="middle" fill="#1a1a1a" font-weight="normal">stimulation</text>
<text x="358.80" y="224.60" font-size="10.8" text-anchor="middle" fill="#1a1a1a" font-weight="normal">On</text>
<text x="367.30" y="239.60" font-size="10.8" text-anchor="middle" fill="#1a1a1a" font-weight="normal">Off</text>
<line x1="357.30" y1="227.60" x2="361.13" y2="227.60" stroke="#222" stroke-width="0.7"/>
<polygon points="355.80,227.6 358.00,226.29999999999998 358.00,228.9" fill="#222"/>
<polygon points="362.63,227.6 360.43,226.29999999999998 360.43,228.9" fill="#222"/>
<line x1="372.96" y1="227.60" x2="376.79" y2="227.60" stroke="#222" stroke-width="0.7"/>
<polygon points="371.46,227.6 373.66,226.29999999999998 373.66,228.9" fill="#222"/>
<polygon points="378.29,227.6 376.09,226.29999999999998 376.09,228.9" fill="#222"/>
<line x1="388.62" y1="227.60" x2="392.45" y2="227.60" stroke="#222" stroke-width="0.7"/>
<polygon points="387.12,227.6 389.32,226.29999999999998 389.32,228.9" fill="#222"/>
<polygon points="393.95,227.6 391.75,226.29999999999998 391.75,228.9" fill="#222"/>
<line x1="404.28" y1="227.60" x2="408.11" y2="227.60" stroke="#222" stroke-width="0.7"/>
<polygon points="402.78,227.6 404.98,226.29999999999998 404.98,228.9" fill="#222"/>
<polygon points="409.61,227.6 407.41,226.29999999999998 407.41,228.9" fill="#222"/>
<line x1="419.94" y1="227.60" x2="423.77" y2="227.60" stroke="#222" stroke-width="0.7"/>
<polygon points="418.44,227.6 420.64,226.29999999999998 420.64,228.9" fill="#222"/>
<polygon points="425.27,227.6 423.07,226.29999999999998 423.07,228.9" fill="#222"/>
<line x1="365.13" y1="242.60" x2="368.96" y2="242.60" stroke="#222" stroke-width="0.7"/>
<polygon points="363.63,242.6 365.83,241.29999999999998 365.83,243.9" fill="#222"/>
<polygon points="370.46,242.6 368.26,241.29999999999998 368.26,243.9" fill="#222"/>
<line x1="380.79" y1="242.60" x2="384.62" y2="242.60" stroke="#222" stroke-width="0.7"/>
<polygon points="379.29,242.6 381.49,241.29999999999998 381.49,243.9" fill="#222"/>
<polygon points="386.12,242.6 383.92,241.29999999999998 383.92,243.9" fill="#222"/>
<line x1="396.45" y1="242.60" x2="400.28" y2="242.60" stroke="#222" stroke-width="0.7"/>
<polygon points="394.95,242.6 397.15,241.29999999999998 397.15,243.9" fill="#222"/>
<polygon points="401.78,242.6 399.58,241.29999999999998 399.58,243.9" fill="#222"/>
<line x1="412.11" y1="242.60" x2="415.94" y2="242.60" stroke="#222" stroke-width="0.7"/>
<polygon points="410.61,242.6 412.81,241.29999999999998 412.81,243.9" fill="#222"/>
<polygon points="417.44,242.6 415.24,241.29999999999998 415.24,243.9" fill="#222"/>
<line x1="427.77" y1="242.60" x2="431.60" y2="242.60" stroke="#222" stroke-width="0.7"/>
<polygon points="426.27,242.6 428.47,241.29999999999998 428.47,243.9" fill="#222"/>
<polygon points="433.10,242.6 430.90,241.29999999999998 430.90,243.9" fill="#222"/>
<line x1="279.50" y1="320.80" x2="293.60" y2="320.80" stroke="#b4b4b4" stroke-width="1.6"/>
<circle cx="286.50" cy="320.80" r="1.9" fill="#b4b4b4"/>
<text x="299.70" y="323.60" font-size="10.5" text-anchor="start" fill="#1a1a1a" font-weight="normal">Reference</text>
<line x1="279.50" y1="335.40" x2="293.60" y2="335.40" stroke="#1a2a8c" stroke-width="1.6"/>
<circle cx="286.50" cy="335.40" r="1.9" fill="#1a2a8c"/>
<text x="299.70" y="338.20" font-size="10.5" text-anchor="start" fill="#1a1a1a" font-weight="normal">With NIR</text>
<line x1="279.50" y1="350.20" x2="293.60" y2="350.20" stroke="#1b88e0" stroke-width="1.6"/>
<circle cx="286.50" cy="350.20" r="1.9" fill="#1b88e0"/>
<text x="299.70" y="353.00" font-size="10.5" text-anchor="start" fill="#1a1a1a" font-weight="normal">With pulsing NIR</text>
<rect x="589.40" y="214.3" width="78.80" height="144.3" fill="#efefef"/>
<polyline points="511.00,243.80 511.16,245.07 511.38,246.87 511.66,248.99 512.00,251.20 512.42,253.59 512.91,256.23 513.44,258.85 514.00,261.20 514.59,263.19 515.21,264.98 515.86,266.62 516.50,268.20 517.10,269.68 517.68,271.04 518.32,272.38 519.10,273.80 520.05,275.35 521.11,276.96 522.27,278.60 523.50,280.20 524.79,281.80 526.14,283.40 527.58,284.95 529.10,286.40 530.70,287.72 532.39,288.94 534.15,290.09 536.00,291.20 537.90,292.24 539.86,293.22 541.94,294.18 544.20,295.20 546.69,296.29 549.38,297.43 552.17,298.58 555.00,299.70 557.89,300.80 560.87,301.90 563.87,302.97 566.80,304.00 569.64,304.96 572.42,305.88 575.20,306.78 578.00,307.70 581.10,308.73 584.40,309.83 587.35,310.81 589.40,311.50" fill="none" stroke="#1a2a8c" stroke-width="4.6" stroke-linejoin="round" stroke-linecap="round"/>
<polyline points="511.00,242.60 511.16,243.87 511.38,245.67 511.66,247.79 512.00,250.00 512.42,252.39 512.91,255.03 513.44,257.65 514.00,260.00 514.59,261.99 515.21,263.78 515.86,265.42 516.50,267.00 517.10,268.48 517.68,269.84 518.32,271.18 519.10,272.60 520.05,274.15 521.11,275.76 522.27,277.40 523.50,279.00 524.79,280.60 526.14,282.20 527.58,283.75 529.10,285.20 530.70,286.52 532.39,287.74 534.15,288.89 536.00,290.00 537.90,291.04 539.86,292.02 541.94,292.98 544.20,294.00 546.69,295.09 549.38,296.23 552.17,297.38 555.00,298.50 557.89,299.60 560.87,300.70 563.87,301.77 566.80,302.80 569.64,303.76 572.42,304.68 575.20,305.58 578.00,306.50 581.10,307.53 584.40,308.63 587.35,309.61 589.40,310.30" fill="none" stroke="#2a9ae6" stroke-width="4.6" stroke-linejoin="round" stroke-linecap="round"/>
<circle cx="511.00" cy="242.60" r="2.3" fill="#1a2a8c"/>
<polyline points="589.40,310.50 591.20,310.81 593.76,311.26 596.79,311.77 600.00,312.30 603.44,312.84 607.21,313.42 611.13,314.01 615.00,314.60 618.68,315.17 622.30,315.74 626.07,316.31 630.20,316.90 634.86,317.52 639.90,318.15 645.04,318.78 650.00,319.40 655.13,320.04 660.44,320.71 665.13,321.29 668.40,321.70" fill="none" stroke="#b4b4b4" stroke-width="4.4" stroke-linejoin="round" stroke-linecap="round"/>
<polyline points="589.40,311.50 589.96,308.19 590.76,303.44 591.66,298.09 592.50,293.00 593.27,288.09 594.04,283.00 594.79,278.16 595.50,274.00 596.16,270.61 596.78,267.77 597.39,265.42 598.00,263.50 598.64,262.03 599.28,261.02 599.91,260.43 600.50,260.20 601.04,260.33 601.53,260.83 602.01,261.72 602.50,263.00 603.00,264.79 603.50,267.05 604.00,269.53 604.50,272.00 604.99,274.41 605.47,276.88 605.96,279.41 606.50,282.00 607.07,284.69 607.66,287.47 608.30,290.26 609.00,293.00 609.78,295.71 610.63,298.41 611.51,301.03 612.40,303.50 613.26,305.78 614.12,307.93 615.02,309.98 616.00,312.00 617.06,314.03 618.19,316.02 619.37,317.93 620.60,319.70 621.89,321.30 623.24,322.76 624.62,324.14 626.00,325.50 627.32,326.83 628.61,328.11 630.00,329.36 631.60,330.60 633.51,331.88 635.65,333.16 637.86,334.39 640.00,335.50 641.98,336.46 643.90,337.31 645.87,338.08 648.00,338.80 650.35,339.48 652.85,340.10 655.43,340.67 658.00,341.20 660.82,341.71 663.83,342.20 666.52,342.61 668.40,342.90" fill="none" stroke="#1a2a8c" stroke-width="4.6" stroke-linejoin="round" stroke-linecap="round"/>
<polyline points="589.40,310.30 589.86,307.41 590.51,303.28 591.26,298.58 592.00,294.00 592.73,289.42 593.51,284.57 594.28,279.94 595.00,276.00 595.68,272.87 596.34,270.30 596.95,268.20 597.50,266.50 597.96,265.22 598.34,264.39 598.70,263.92 599.10,263.70 599.55,263.72 600.03,264.02 600.51,264.61 601.00,265.50 601.47,266.67 601.93,268.11 602.43,269.88 603.00,272.00 603.66,274.66 604.39,277.78 605.18,281.01 606.00,284.00 606.87,286.68 607.78,289.22 608.73,291.65 609.70,294.00 610.65,296.27 611.59,298.44 612.62,300.52 613.80,302.50 615.11,304.36 616.52,306.11 618.12,307.81 620.00,309.50 622.28,311.25 624.88,313.00 627.58,314.68 630.20,316.20 632.66,317.50 635.07,318.65 637.50,319.72 640.00,320.80 642.45,321.88 644.86,322.93 647.51,323.99 650.70,325.10 655.05,326.40 660.22,327.82 665.06,329.11 668.40,330.00" fill="none" stroke="#1260c8" stroke-width="4.6" stroke-linejoin="round" stroke-linecap="round"/>
<polyline points="589.40,310.30 589.87,307.70 590.54,303.96 591.30,299.82 592.00,296.00 592.63,292.53 593.26,289.07 593.88,285.83 594.50,283.00 595.09,280.52 595.66,278.31 596.25,276.58 596.90,275.50 597.60,275.27 598.35,275.75 599.15,276.60 600.00,277.50 600.90,278.38 601.84,279.40 602.86,280.60 604.00,282.00 605.20,283.72 606.46,285.71 607.91,287.75 609.70,289.60 611.95,291.24 614.57,292.77 617.32,294.19 620.00,295.50 622.57,296.65 625.13,297.67 627.68,298.62 630.20,299.60 632.66,300.62 635.07,301.64 637.50,302.64 640.00,303.60 642.45,304.47 644.86,305.27 647.51,306.09 650.70,307.00 655.05,308.15 660.22,309.46 665.06,310.67 668.40,311.50" fill="none" stroke="#2090e2" stroke-width="4.6" stroke-linejoin="round" stroke-linecap="round"/>
<polyline points="589.40,310.30 589.76,309.10 590.27,307.36 590.87,305.52 591.50,304.00 592.11,302.85 592.73,301.87 593.47,301.10 594.40,300.60 595.51,300.42 596.76,300.53 598.23,300.82 600.00,301.20 602.11,301.70 604.51,302.36 607.16,303.08 610.00,303.80 613.11,304.51 616.47,305.24 619.96,305.98 623.40,306.70 626.78,307.41 630.18,308.12 633.59,308.82 637.00,309.50 640.32,310.14 643.59,310.76 646.99,311.39 650.70,312.10 655.26,312.99 660.41,314.01 665.13,314.95 668.40,315.60" fill="none" stroke="#48ace8" stroke-width="4.6" stroke-linejoin="round" stroke-linecap="round"/>
<line x1="504.20" y1="214.30" x2="675.00" y2="214.30" stroke="#c6c6c6" stroke-width="1.6"/>
<line x1="675.00" y1="213.50" x2="675.00" y2="358.60" stroke="#7a7a7a" stroke-width="1"/>
<line x1="504.20" y1="213.50" x2="504.20" y2="359.10" stroke="#3a3a3a" stroke-width="1"/>
<line x1="503.70" y1="358.60" x2="675.50" y2="358.60" stroke="#3a3a3a" stroke-width="1"/>
<line x1="501.70" y1="214.30" x2="504.20" y2="214.30" stroke="#3a3a3a" stroke-width="0.9"/>
<line x1="501.70" y1="255.00" x2="504.20" y2="255.00" stroke="#3a3a3a" stroke-width="0.9"/>
<line x1="501.70" y1="295.70" x2="504.20" y2="295.70" stroke="#3a3a3a" stroke-width="0.9"/>
<line x1="501.70" y1="336.40" x2="504.20" y2="336.40" stroke="#3a3a3a" stroke-width="0.9"/>
<line x1="502.70" y1="242.75" x2="504.20" y2="242.75" stroke="#3a3a3a" stroke-width="0.7"/>
<line x1="502.70" y1="235.58" x2="504.20" y2="235.58" stroke="#3a3a3a" stroke-width="0.7"/>
<line x1="502.70" y1="230.50" x2="504.20" y2="230.50" stroke="#3a3a3a" stroke-width="0.7"/>
<line x1="502.70" y1="226.55" x2="504.20" y2="226.55" stroke="#3a3a3a" stroke-width="0.7"/>
<line x1="502.70" y1="223.33" x2="504.20" y2="223.33" stroke="#3a3a3a" stroke-width="0.7"/>
<line x1="502.70" y1="220.60" x2="504.20" y2="220.60" stroke="#3a3a3a" stroke-width="0.7"/>
<line x1="502.70" y1="218.24" x2="504.20" y2="218.24" stroke="#3a3a3a" stroke-width="0.7"/>
<line x1="502.70" y1="216.16" x2="504.20" y2="216.16" stroke="#3a3a3a" stroke-width="0.7"/>
<line x1="502.70" y1="283.45" x2="504.20" y2="283.45" stroke="#3a3a3a" stroke-width="0.7"/>
<line x1="502.70" y1="276.28" x2="504.20" y2="276.28" stroke="#3a3a3a" stroke-width="0.7"/>
<line x1="502.70" y1="271.20" x2="504.20" y2="271.20" stroke="#3a3a3a" stroke-width="0.7"/>
<line x1="502.70" y1="267.25" x2="504.20" y2="267.25" stroke="#3a3a3a" stroke-width="0.7"/>
<line x1="502.70" y1="264.03" x2="504.20" y2="264.03" stroke="#3a3a3a" stroke-width="0.7"/>
<line x1="502.70" y1="261.30" x2="504.20" y2="261.30" stroke="#3a3a3a" stroke-width="0.7"/>
<line x1="502.70" y1="258.94" x2="504.20" y2="258.94" stroke="#3a3a3a" stroke-width="0.7"/>
<line x1="502.70" y1="256.86" x2="504.20" y2="256.86" stroke="#3a3a3a" stroke-width="0.7"/>
<line x1="502.70" y1="324.15" x2="504.20" y2="324.15" stroke="#3a3a3a" stroke-width="0.7"/>
<line x1="502.70" y1="316.98" x2="504.20" y2="316.98" stroke="#3a3a3a" stroke-width="0.7"/>
<line x1="502.70" y1="311.90" x2="504.20" y2="311.90" stroke="#3a3a3a" stroke-width="0.7"/>
<line x1="502.70" y1="307.95" x2="504.20" y2="307.95" stroke="#3a3a3a" stroke-width="0.7"/>
<line x1="502.70" y1="304.73" x2="504.20" y2="304.73" stroke="#3a3a3a" stroke-width="0.7"/>
<line x1="502.70" y1="302.00" x2="504.20" y2="302.00" stroke="#3a3a3a" stroke-width="0.7"/>
<line x1="502.70" y1="299.64" x2="504.20" y2="299.64" stroke="#3a3a3a" stroke-width="0.7"/>
<line x1="502.70" y1="297.56" x2="504.20" y2="297.56" stroke="#3a3a3a" stroke-width="0.7"/>
<line x1="502.70" y1="357.68" x2="504.20" y2="357.68" stroke="#3a3a3a" stroke-width="0.7"/>
<line x1="502.70" y1="352.60" x2="504.20" y2="352.60" stroke="#3a3a3a" stroke-width="0.7"/>
<line x1="502.70" y1="348.65" x2="504.20" y2="348.65" stroke="#3a3a3a" stroke-width="0.7"/>
<line x1="502.70" y1="345.43" x2="504.20" y2="345.43" stroke="#3a3a3a" stroke-width="0.7"/>
<line x1="502.70" y1="342.70" x2="504.20" y2="342.70" stroke="#3a3a3a" stroke-width="0.7"/>
<line x1="502.70" y1="340.34" x2="504.20" y2="340.34" stroke="#3a3a3a" stroke-width="0.7"/>
<line x1="502.70" y1="338.26" x2="504.20" y2="338.26" stroke="#3a3a3a" stroke-width="0.7"/>
<text x="482.90" y="219.80" font-size="10.8" text-anchor="start" fill="#1a1a1a" font-weight="normal">10<tspan dy="-2.9" font-size="6.8">0</tspan></text>
<text x="482.90" y="260.50" font-size="10.8" text-anchor="start" fill="#1a1a1a" font-weight="normal">10<tspan dy="-2.9" font-size="6.8">-1</tspan></text>
<text x="482.90" y="301.20" font-size="10.8" text-anchor="start" fill="#1a1a1a" font-weight="normal">10<tspan dy="-2.9" font-size="6.8">-2</tspan></text>
<text x="482.90" y="341.90" font-size="10.8" text-anchor="start" fill="#1a1a1a" font-weight="normal">10<tspan dy="-2.9" font-size="6.8">-3</tspan></text>
<line x1="510.60" y1="358.60" x2="510.60" y2="361.10" stroke="#3a3a3a" stroke-width="0.9"/>
<text x="510.60" y="372.00" font-size="10.8" text-anchor="middle" fill="#1a1a1a" font-weight="normal">0</text>
<line x1="550.00" y1="358.60" x2="550.00" y2="361.10" stroke="#3a3a3a" stroke-width="0.9"/>
<text x="550.00" y="372.00" font-size="10.8" text-anchor="middle" fill="#1a1a1a" font-weight="normal">300</text>
<line x1="589.40" y1="358.60" x2="589.40" y2="361.10" stroke="#3a3a3a" stroke-width="0.9"/>
<text x="589.40" y="372.00" font-size="10.8" text-anchor="middle" fill="#1a1a1a" font-weight="normal">600</text>
<line x1="628.80" y1="358.60" x2="628.80" y2="361.10" stroke="#3a3a3a" stroke-width="0.9"/>
<text x="628.80" y="372.00" font-size="10.8" text-anchor="middle" fill="#1a1a1a" font-weight="normal">900</text>
<line x1="668.20" y1="358.60" x2="668.20" y2="361.10" stroke="#3a3a3a" stroke-width="0.9"/>
<text x="668.20" y="372.00" font-size="10.8" text-anchor="middle" fill="#1a1a1a" font-weight="normal">1200</text>
<line x1="530.30" y1="358.60" x2="530.30" y2="360.20" stroke="#3a3a3a" stroke-width="0.8"/>
<line x1="569.70" y1="358.60" x2="569.70" y2="360.20" stroke="#3a3a3a" stroke-width="0.8"/>
<line x1="609.10" y1="358.60" x2="609.10" y2="360.20" stroke="#3a3a3a" stroke-width="0.8"/>
<line x1="648.50" y1="358.60" x2="648.50" y2="360.20" stroke="#3a3a3a" stroke-width="0.8"/>
<text x="589.40" y="384.20" font-size="10.8" text-anchor="middle" fill="#1a1a1a" font-weight="normal">Time (s)</text>
<text x="478.70" y="287.30" font-size="10.8" text-anchor="middle" fill="#1a1a1a" font-weight="normal" transform="rotate(-90 478.7 287.3)">Intensity (arb. units)</text>
<text x="557.00" y="227.60" font-size="10.8" text-anchor="middle" fill="#1a1a1a" font-weight="normal">Heating and</text>
<text x="556.00" y="239.60" font-size="10.8" text-anchor="middle" fill="#1a1a1a" font-weight="normal">holding on</text>
<line x1="589.40" y1="230.30" x2="665.00" y2="230.30" stroke="#333" stroke-width="0.8"/>
<polygon points="668.4,230.3 664.4,228.5 664.4,232.1" fill="#222"/>
<circle cx="512.80" cy="320.80" r="2.0" fill="#b4b4b4"/>
<text x="519.60" y="323.80" font-size="10.5" text-anchor="start" fill="#1a1a1a" font-weight="normal">Reference</text>
<circle cx="512.80" cy="335.40" r="2.0" fill="#48ace8"/>
<text x="519.60" y="338.40" font-size="10.5" text-anchor="start" fill="#1a1a1a" font-weight="normal">300 K</text>
<circle cx="556.70" cy="335.40" r="2.0" fill="#1260c8"/>
<text x="563.00" y="338.40" font-size="10.5" text-anchor="start" fill="#1a1a1a" font-weight="normal">350 K</text>
<circle cx="512.80" cy="350.00" r="2.0" fill="#2090e2"/>
<text x="519.60" y="353.00" font-size="10.5" text-anchor="start" fill="#1a1a1a" font-weight="normal">325 K</text>
<circle cx="556.70" cy="350.00" r="2.0" fill="#1a2a8c"/>
<text x="563.00" y="353.00" font-size="10.5" text-anchor="start" fill="#1a1a1a" font-weight="normal">375 K</text>
<rect x="16" y="401.7" width="658.2" height="110.3" fill="#000"/>
<rect x="18.3" y="403.6" width="654" height="106.5" fill="none" stroke="#d8d8d8" stroke-width="0.9" stroke-dasharray="1.4,1.4"/>
<line x1="18.30" y1="456.90" x2="672.30" y2="456.90" stroke="#d8d8d8" stroke-width="0.9" stroke-dasharray="1.4,1.4"/>
<text x="8.60" y="429.60" font-size="11.2" text-anchor="middle" fill="#1a1a1a" font-weight="normal" transform="rotate(-90 8.6 429.6)">Decay</text>
<text x="8.40" y="482.50" font-size="11.2" text-anchor="middle" fill="#1a1a1a" font-weight="normal" transform="rotate(-90 8.4 482.5)">TL</text>
<rect x="24.80" y="407" width="33.7" height="33" rx="2.2" fill="#a6e4ee"/>
<rect x="24.80" y="407" width="33.7" height="33" rx="2.2" fill="url(#sqg)"/>
<text x="41.65" y="452.70" font-size="10.8" text-anchor="middle" fill="#ececec" font-weight="normal">UV on</text>
<rect x="75.50" y="407" width="33.7" height="33" rx="2.2" fill="#fbfdfd"/>
<text x="92.35" y="452.70" font-size="10.8" text-anchor="middle" fill="#ececec" font-weight="normal">10 s</text>
<rect x="126.20" y="407" width="33.7" height="33" rx="2.2" fill="#fbfdfd"/>
<text x="143.05" y="452.70" font-size="10.8" text-anchor="middle" fill="#ececec" font-weight="normal">30 s</text>
<rect x="176.90" y="407" width="33.7" height="33" rx="2.2" fill="#fafdfd"/>
<text x="193.75" y="452.70" font-size="10.8" text-anchor="middle" fill="#ececec" font-weight="normal">1 min</text>
<rect x="227.60" y="407" width="33.7" height="33" rx="2.2" fill="#d6f4f7"/>
<rect x="227.60" y="407" width="33.7" height="33" rx="2.2" fill="url(#sqg)"/>
<text x="244.45" y="452.70" font-size="10.8" text-anchor="middle" fill="#ececec" font-weight="normal">5 min</text>
<rect x="278.30" y="407" width="33.7" height="33" rx="2.2" fill="#b2eaf0"/>
<rect x="278.30" y="407" width="33.7" height="33" rx="2.2" fill="url(#sqg)"/>
<text x="295.15" y="452.70" font-size="10.8" text-anchor="middle" fill="#ececec" font-weight="normal">10 min</text>
<rect x="329.00" y="407" width="33.7" height="33" rx="2.2" fill="#52c0d2"/>
<rect x="329.00" y="407" width="33.7" height="33" rx="2.2" fill="url(#sqg)"/>
<text x="345.85" y="452.70" font-size="10.8" text-anchor="middle" fill="#ececec" font-weight="normal">30 min</text>
<rect x="379.70" y="407" width="33.7" height="33" rx="2.2" fill="#2c9ab6"/>
<rect x="379.70" y="407" width="33.7" height="33" rx="2.2" fill="url(#sqg)"/>
<text x="396.55" y="452.70" font-size="10.8" text-anchor="middle" fill="#ececec" font-weight="normal">1 h</text>
<rect x="430.40" y="407" width="33.7" height="33" rx="2.2" fill="#1c6a92"/>
<rect x="430.40" y="407" width="33.7" height="33" rx="2.2" fill="url(#sqg)"/>
<text x="447.25" y="452.70" font-size="10.8" text-anchor="middle" fill="#ececec" font-weight="normal">2 h</text>
<rect x="481.10" y="407" width="33.7" height="33" rx="2.2" fill="#163658"/>
<rect x="481.10" y="407" width="33.7" height="33" rx="2.2" fill="url(#sqg)"/>
<text x="497.95" y="452.70" font-size="10.8" text-anchor="middle" fill="#ececec" font-weight="normal">4 h</text>
<rect x="531.80" y="407" width="33.7" height="33" rx="2.2" fill="#10263d"/>
<rect x="531.80" y="407" width="33.7" height="33" rx="2.2" fill="url(#sqg)"/>
<text x="548.65" y="452.70" font-size="10.8" text-anchor="middle" fill="#ececec" font-weight="normal">6 h</text>
<rect x="582.50" y="407" width="33.7" height="33" rx="2.2" fill="#0d1f30"/>
<rect x="582.50" y="407" width="33.7" height="33" rx="2.2" fill="url(#sqg)"/>
<text x="599.35" y="452.70" font-size="10.8" text-anchor="middle" fill="#ececec" font-weight="normal">8 h</text>
<rect x="633.20" y="407" width="33.7" height="33" rx="2.2" fill="#0a1826"/>
<rect x="633.20" y="407" width="33.7" height="33" rx="2.2" fill="url(#sqg)"/>
<text x="650.05" y="452.70" font-size="10.8" text-anchor="middle" fill="#ececec" font-weight="normal">10 h</text>
<rect x="24.80" y="461.3" width="33.7" height="33" rx="2.2" fill="#3d9db7"/>
<rect x="24.80" y="461.3" width="33.7" height="33" rx="2.2" fill="url(#sqg)"/>
<text x="41.65" y="506.60" font-size="10.8" text-anchor="middle" fill="#ececec" font-weight="normal">RT, 1 h</text>
<rect x="75.50" y="461.3" width="33.7" height="33" rx="2.2" fill="#5ab4c9"/>
<rect x="75.50" y="461.3" width="33.7" height="33" rx="2.2" fill="url(#sqg)"/>
<text x="92.35" y="506.60" font-size="10.8" text-anchor="middle" fill="#ececec" font-weight="normal">RT</text>
<rect x="126.20" y="461.3" width="33.7" height="33" rx="2.2" fill="#8ad2df"/>
<rect x="126.20" y="461.3" width="33.7" height="33" rx="2.2" fill="url(#sqg)"/>
<rect x="176.90" y="461.3" width="33.7" height="33" rx="2.2" fill="#a6e0e9"/>
<rect x="176.90" y="461.3" width="33.7" height="33" rx="2.2" fill="url(#sqg)"/>
<rect x="227.60" y="461.3" width="33.7" height="33" rx="2.2" fill="#b2e6ee"/>
<rect x="227.60" y="461.3" width="33.7" height="33" rx="2.2" fill="url(#sqg)"/>
<rect x="278.30" y="461.3" width="33.7" height="33" rx="2.2" fill="#c0ecf2"/>
<rect x="278.30" y="461.3" width="33.7" height="33" rx="2.2" fill="url(#sqg)"/>
<rect x="329.00" y="461.3" width="33.7" height="33" rx="2.2" fill="#c8f0f5"/>
<rect x="329.00" y="461.3" width="33.7" height="33" rx="2.2" fill="url(#sqg)"/>
<text x="345.85" y="506.60" font-size="10.8" text-anchor="middle" fill="#ececec" font-weight="normal">350 K</text>
<rect x="379.70" y="461.3" width="33.7" height="33" rx="2.2" fill="#cef3f7"/>
<rect x="379.70" y="461.3" width="33.7" height="33" rx="2.2" fill="url(#sqg)"/>
<text x="396.55" y="506.60" font-size="10.8" text-anchor="middle" fill="#ececec" font-weight="normal">350 K, 30 s</text>
<rect x="430.40" y="461.3" width="33.7" height="33" rx="2.2" fill="#b0ebf2"/>
<rect x="430.40" y="461.3" width="33.7" height="33" rx="2.2" fill="url(#sqg)"/>
<text x="447.25" y="506.60" font-size="10.8" text-anchor="middle" fill="#ececec" font-weight="normal">1 min</text>
<rect x="481.10" y="461.3" width="33.7" height="33" rx="2.2" fill="#64c8d8"/>
<rect x="481.10" y="461.3" width="33.7" height="33" rx="2.2" fill="url(#sqg)"/>
<text x="497.95" y="506.60" font-size="10.8" text-anchor="middle" fill="#ececec" font-weight="normal">3 min</text>
<rect x="531.80" y="461.3" width="33.7" height="33" rx="2.2" fill="#48b4cc"/>
<rect x="531.80" y="461.3" width="33.7" height="33" rx="2.2" fill="url(#sqg)"/>
<text x="548.65" y="506.60" font-size="10.8" text-anchor="middle" fill="#ececec" font-weight="normal">5 min</text>
<rect x="582.50" y="461.3" width="33.7" height="33" rx="2.2" fill="#1c5283"/>
<rect x="582.50" y="461.3" width="33.7" height="33" rx="2.2" fill="url(#sqg)"/>
<text x="599.35" y="506.60" font-size="10.8" text-anchor="middle" fill="#ececec" font-weight="normal">10 min</text>
<rect x="633.20" y="461.3" width="33.7" height="33" rx="2.2" fill="#1b4a6a"/>
<rect x="633.20" y="461.3" width="33.7" height="33" rx="2.2" fill="url(#sqg)"/>
<text x="650.05" y="506.60" font-size="10.8" text-anchor="middle" fill="#ececec" font-weight="normal">20 min</text>
<clipPath id="sqa"><rect x="24.80" y="407" width="33.7" height="33" rx="2.2"/><rect x="227.60" y="407" width="33.7" height="33" rx="2.2"/><rect x="278.30" y="407" width="33.7" height="33" rx="2.2"/><rect x="329.00" y="407" width="33.7" height="33" rx="2.2"/><rect x="379.70" y="407" width="33.7" height="33" rx="2.2"/><rect x="430.40" y="407" width="33.7" height="33" rx="2.2"/><rect x="24.80" y="461.3" width="33.7" height="33" rx="2.2"/><rect x="75.50" y="461.3" width="33.7" height="33" rx="2.2"/><rect x="126.20" y="461.3" width="33.7" height="33" rx="2.2"/><rect x="176.90" y="461.3" width="33.7" height="33" rx="2.2"/><rect x="227.60" y="461.3" width="33.7" height="33" rx="2.2"/><rect x="278.30" y="461.3" width="33.7" height="33" rx="2.2"/><rect x="329.00" y="461.3" width="33.7" height="33" rx="2.2"/><rect x="379.70" y="461.3" width="33.7" height="33" rx="2.2"/><rect x="430.40" y="461.3" width="33.7" height="33" rx="2.2"/><rect x="481.10" y="461.3" width="33.7" height="33" rx="2.2"/><rect x="531.80" y="461.3" width="33.7" height="33" rx="2.2"/></clipPath>
<rect x="20" y="405" width="650" height="92" fill="#fff" filter="url(#speck)" clip-path="url(#sqa)" opacity="0.2"/>
<clipPath id="sqb"><rect x="481.10" y="407" width="33.7" height="33" rx="2.2"/><rect x="531.80" y="407" width="33.7" height="33" rx="2.2"/><rect x="582.50" y="407" width="33.7" height="33" rx="2.2"/><rect x="633.20" y="407" width="33.7" height="33" rx="2.2"/><rect x="582.50" y="461.3" width="33.7" height="33" rx="2.2"/><rect x="633.20" y="461.3" width="33.7" height="33" rx="2.2"/></clipPath>
<rect x="20" y="405" width="650" height="92" fill="#fff" filter="url(#speck)" clip-path="url(#sqb)" opacity="0.07"/>
<line x1="108.30" y1="504.40" x2="317.00" y2="504.40" stroke="#2a8ad0" stroke-width="1.3"/>
<polygon points="323.4,504.4 315.5,501.6 315.5,507.2" fill="#2a8ad0"/>
</svg></body></html>
